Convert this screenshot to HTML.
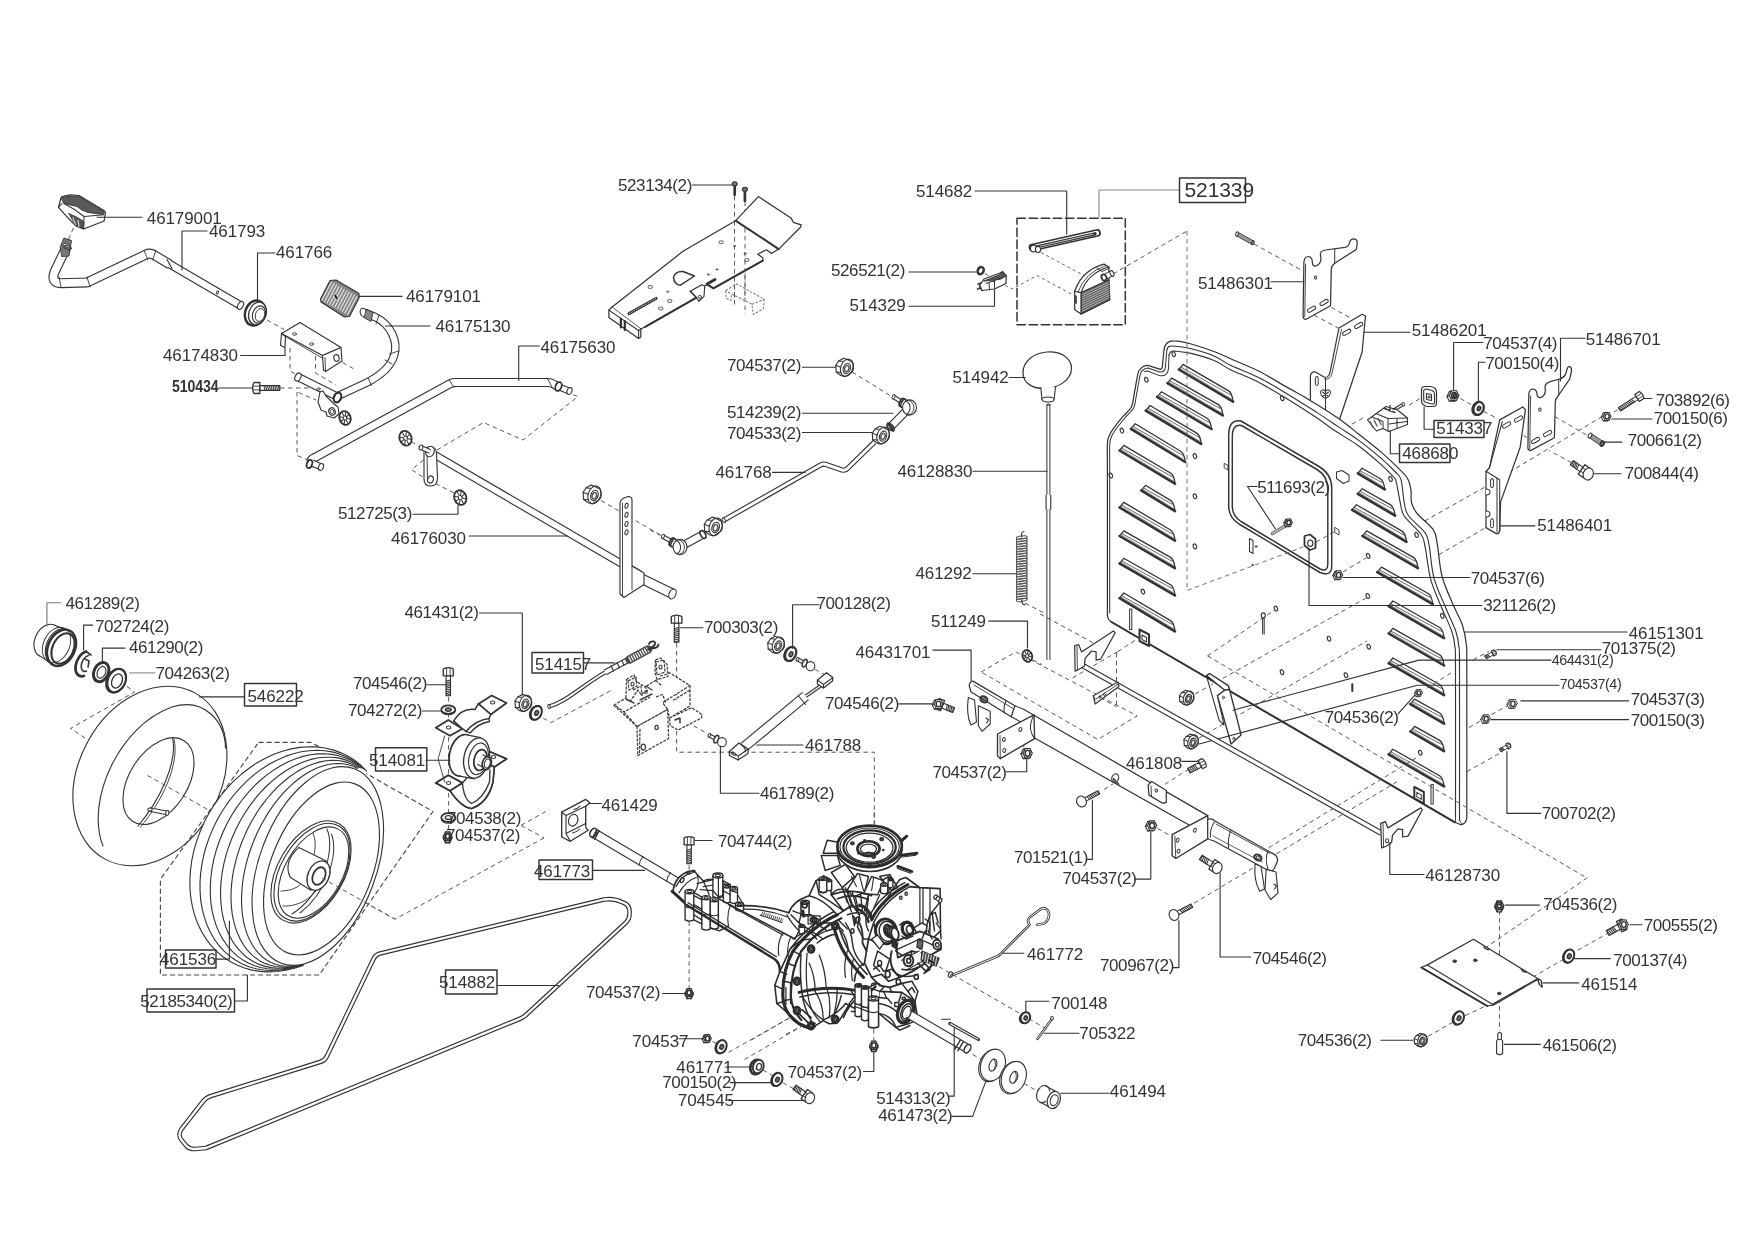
<!DOCTYPE html>
<html><head><meta charset="utf-8"><title>Parts diagram</title>
<style>
html,body{margin:0;padding:0;background:#fff;}
svg{display:block;font-family:"Liberation Sans",sans-serif;will-change:transform;}
text{fill:#333;}
</style></head><body>
<svg width="1754" height="1240" viewBox="0 0 1754 1240" stroke-linecap="round" stroke-linejoin="round">
<rect x="0" y="0" width="1754" height="1240" fill="#fff"/>
<path d="M73.5 228.0 L65.5 246.0" fill="none" stroke="#505050" stroke-width="0.95" stroke-dasharray="4.5 3.5" stroke-linecap="butt" />
<path d="M267.0 320.0 L284.0 329.5" fill="none" stroke="#505050" stroke-width="0.95" stroke-dasharray="4.5 3.5" stroke-linecap="butt" />
<path d="M290.0 348.0 L290.0 371.0 L297.0 375.0" fill="none" stroke="#505050" stroke-width="0.95" stroke-dasharray="4.5 3.5" stroke-linecap="butt" />
<path d="M315.5 356.0 L315.5 373.0 L336.0 385.0" fill="none" stroke="#505050" stroke-width="0.95" stroke-dasharray="4.5 3.5" stroke-linecap="butt" />
<path d="M280.0 388.0 L316.0 388.0" fill="none" stroke="#505050" stroke-width="0.95" stroke-dasharray="4.5 3.5" stroke-linecap="butt" />
<path d="M297.0 392.0 L297.0 455.5 L307.0 459.5" fill="none" stroke="#505050" stroke-width="0.95" stroke-dasharray="4.5 3.5" stroke-linecap="butt" />
<path d="M298.5 392.5 L316.0 400.0" fill="none" stroke="#505050" stroke-width="0.95" stroke-dasharray="4.5 3.5" stroke-linecap="butt" />
<path d="M342.5 362.5 L354.0 369.0" fill="none" stroke="#505050" stroke-width="0.95" stroke-dasharray="4.5 3.5" stroke-linecap="butt" />
<path d="M437.0 450.0 L483.5 422.5 L523.0 440.0 L578.0 396.5 L571.0 394.0" fill="none" stroke="#505050" stroke-width="0.95" stroke-dasharray="4.5 3.5" stroke-linecap="butt" />
<path d="M411.5 441.5 L421.5 448.0" fill="none" stroke="#505050" stroke-width="0.95" stroke-dasharray="4.5 3.5" stroke-linecap="butt" />
<path d="M423.5 460.0 L411.5 469.5 L423.5 477.5" fill="none" stroke="#505050" stroke-width="0.95" stroke-dasharray="4.5 3.5" stroke-linecap="butt" />
<path d="M435.5 483.5 L455.0 493.5" fill="none" stroke="#505050" stroke-width="0.95" stroke-dasharray="4.5 3.5" stroke-linecap="butt" />
<path d="M601.0 500.5 L660.5 535.0" fill="none" stroke="#505050" stroke-width="0.95" stroke-dasharray="4.5 3.5" stroke-linecap="butt" />
<path d="M60.8 198.5 Q61 196.5 64 196 L70 194.8 L79 195.5 L104 210.5 Q105.8 212 105.3 214 L104.1 221 L83.6 229 L75.6 225.6 L68.8 218.8 L58.5 207.4 Z" fill="#fff" stroke="#333333" stroke-width="1.23" />
<path d="M61.5 198.3 Q62 197 64.5 196.7 L78.5 196.2 L104 211.5 Q104.8 212.5 103.5 214.5 L88 212.5 Q82 211 77 206.5 L64 203.5 Z" fill="#5a5a5a" stroke="#333333" stroke-width="0.9" />
<path d="M58.5 207.4 L62 203.5 M64 203.5 Q75 209 84 216.5 L104 214.8 M84 216.5 L83.6 229" fill="none" stroke="#333333" stroke-width="1.01" />
<path d="M68.8 213.5 L75.6 225.6 L83.6 229 L84 221.5 Q76 216 68.8 213.5 Z" fill="#555" stroke="#333333" stroke-width="0.78" />
<path d="M73.0 218.0 L75.5 224.5" fill="none" stroke="#fff" stroke-width="0.9" />
<path d="M78.0 220.5 L79.0 226.5" fill="none" stroke="#fff" stroke-width="0.9" />
<path d="M97.0 217.3 L142.0 217.3" fill="none" stroke="#333333" stroke-width="1.12" />
<path d="M66.5 247 L54.5 272 Q50.5 283 61 283.2 L87 282.4 L146 254.5 Q150 252.5 154 255 L170 264.5" fill="none" stroke="#333333" stroke-width="10" stroke-linecap="butt"/>
<path d="M66.5 247 L54.5 272 Q50.5 283 61 283.2 L87 282.4 L146 254.5 Q150 252.5 154 255 L170 264.5" fill="none" stroke="#fff" stroke-width="7.76" stroke-linecap="butt"/>
<path d="M169.5 264 L240.5 305.5" fill="none" stroke="#333333" stroke-width="8.5" stroke-linecap="butt"/>
<path d="M169.5 264 L240.5 305.5" fill="none" stroke="#fff" stroke-width="6.26" stroke-linecap="butt"/>
<ellipse cx="240.5" cy="305.5" rx="2.6" ry="4.3" fill="#fff" stroke="#333333" stroke-width="1.12" transform="rotate(30 240.5 305.5)"/>
<path d="M167.0 259.5 L172.0 268.5" fill="none" stroke="#333333" stroke-width="1.12" />
<path d="M144.0 250.5 L148.0 260.0" fill="none" stroke="#333333" stroke-width="0.9" />
<path d="M156.0 250.5 L152.5 260.0" fill="none" stroke="#333333" stroke-width="0.9" />
<path d="M87.0 277.0 L90.0 287.0" fill="none" stroke="#333333" stroke-width="0.9" />
<path d="M59.0 277.0 L61.0 287.0" fill="none" stroke="#333333" stroke-width="0.9" />
<ellipse cx="217.5" cy="292.5" rx="1" ry="1.6" fill="none" stroke="#333333" stroke-width="0.9" transform="rotate(30 217.5 292.5)"/>
<path d="M60.5 246.0 L64.0 238.0 L71.5 240.5 L69.0 256.0 L62.0 256.5 Z" fill="#777" stroke="#333333" stroke-width="0.9" />
<ellipse cx="66.5" cy="245.5" rx="3.8" ry="1.6" fill="#fff" stroke="#333333" stroke-width="0.9" transform="rotate(15 66.5 245.5)"/>
<ellipse cx="67.5" cy="247.5" rx="4.2" ry="1.8" fill="none" stroke="#333333" stroke-width="0.9" transform="rotate(15 67.5 247.5)"/>
<path d="M182.0 270.0 L182.0 231.0 L207.0 231.0" fill="none" stroke="#333333" stroke-width="1.12" />
<ellipse cx="255" cy="313" rx="9.8" ry="12.8" fill="#fff" stroke="#333333" stroke-width="2.46" transform="rotate(18 255 313)"/>
<ellipse cx="257.5" cy="313.5" rx="8.6" ry="11.6" fill="#fff" stroke="#333333" stroke-width="1.34" transform="rotate(18 257.5 313.5)"/>
<ellipse cx="259" cy="314.5" rx="6.4" ry="8.8" fill="#fff" stroke="#333333" stroke-width="1.12" transform="rotate(18 259 314.5)"/>
<ellipse cx="260" cy="315" rx="4.6" ry="6.6" fill="none" stroke="#333333" stroke-width="0.9" transform="rotate(18 260 315)"/>
<path d="M257.5 301.0 L257.5 253.0 L275.0 253.0" fill="none" stroke="#333333" stroke-width="1.12" />
<path d="M281.5 333.5 L300.0 322.5 L341.0 347.5 L322.5 355.5 Z" fill="#fff" stroke="#333333" stroke-width="1.12" />
<path d="M281.5 333.5 L280.5 345.5 L285.0 347.5 L285.5 336.5 Z" fill="#fff" stroke="#333333" stroke-width="1.12" />
<path d="M285.5 336.5 L323.0 358.5" fill="none" stroke="#333333" stroke-width="0.9" />
<path d="M322.5 355.5 L341.0 347.5 L342.0 361.0 L325.5 371.5 L323.5 370.0 Z" fill="#fff" stroke="#333333" stroke-width="1.12" />
<path d="M325.0 357.5 L325.5 371.5" fill="none" stroke="#333333" stroke-width="0.9" />
<ellipse cx="336.5" cy="358" rx="2.6" ry="3.4" fill="none" stroke="#333333" stroke-width="1.12" transform="rotate(-15 336.5 358)"/>
<ellipse cx="294.5" cy="334" rx="1.9" ry="1.3" fill="none" stroke="#333333" stroke-width="0.9"/>
<ellipse cx="311.5" cy="344" rx="1.9" ry="1.3" fill="none" stroke="#333333" stroke-width="0.9"/>
<path d="M240.5 355.5 L285.0 355.5 L285.0 348.0" fill="none" stroke="#333333" stroke-width="1.12" />
<path d="M330.0 280.5 L336.0 280.0 L359.0 293.5 L359.0 298.0 L349.5 316.5 L344.5 317.0 L321.0 302.0 L320.5 299.0 Z" fill="#858585" stroke="#333333" stroke-width="1.12" />
<path d="M331.5 282.0 L322.0 300.0" fill="none" stroke="#e8e8e8" stroke-width="1.12" />
<path d="M334.1 283.4 L324.6 301.4" fill="none" stroke="#e8e8e8" stroke-width="1.12" />
<path d="M336.6 284.9 L327.1 302.9" fill="none" stroke="#e8e8e8" stroke-width="1.12" />
<path d="M339.1 286.4 L329.6 304.4" fill="none" stroke="#e8e8e8" stroke-width="1.12" />
<path d="M341.7 287.8 L332.2 305.8" fill="none" stroke="#e8e8e8" stroke-width="1.12" />
<path d="M344.2 289.2 L334.8 307.2" fill="none" stroke="#e8e8e8" stroke-width="1.12" />
<path d="M346.8 290.7 L337.3 308.7" fill="none" stroke="#e8e8e8" stroke-width="1.12" />
<path d="M349.4 292.1 L339.9 310.1" fill="none" stroke="#e8e8e8" stroke-width="1.12" />
<path d="M351.9 293.6 L342.4 311.6" fill="none" stroke="#e8e8e8" stroke-width="1.12" />
<path d="M354.4 295.1 L344.9 313.1" fill="none" stroke="#e8e8e8" stroke-width="1.12" />
<path d="M357.0 296.5 L347.5 314.5" fill="none" stroke="#e8e8e8" stroke-width="1.12" />
<ellipse cx="336" cy="297" rx="1.6" ry="3.4" fill="#222" stroke="#ddd" stroke-width="0.9" transform="rotate(-28 336 297)"/>
<path d="M359.0 296.4 L402.0 296.4" fill="none" stroke="#333333" stroke-width="1.12" />
<path d="M364 312.5 L375 317 C390 324 399 341 394 356 C390 368 379 376.5 366 383 L339 395.5" fill="none" stroke="#333333" stroke-width="8.5" stroke-linecap="butt"/>
<path d="M364 312.5 L375 317 C390 324 399 341 394 356 C390 368 379 376.5 366 383 L339 395.5" fill="none" stroke="#fff" stroke-width="6.26" stroke-linecap="butt"/>
<ellipse cx="363.5" cy="312.5" rx="3.2" ry="4.3" fill="#fff" stroke="#333333" stroke-width="1.12" transform="rotate(-20 363.5 312.5)"/>
<path d="M366.5 309.5 L373.0 312.5 L371.0 321.5 L364.5 318.0 Z" fill="#888" stroke="#333333" stroke-width="0.9" />
<path d="M379.0 315.0 L376.0 324.0" fill="none" stroke="#333333" stroke-width="0.9" />
<path d="M398.5 351.0 L389.5 354.0" fill="none" stroke="#333333" stroke-width="0.9" />
<path d="M392.0 364.0 L385.0 360.0" fill="none" stroke="#333333" stroke-width="0.9" />
<path d="M368.0 377.5 L371.5 385.5" fill="none" stroke="#333333" stroke-width="0.9" />
<path d="M385.5 326.0 L430.0 326.0" fill="none" stroke="#333333" stroke-width="1.12" />
<path d="M298 377 L338 397" fill="none" stroke="#333333" stroke-width="8.5" stroke-linecap="butt"/>
<path d="M298 377 L338 397" fill="none" stroke="#fff" stroke-width="6.26" stroke-linecap="butt"/>
<ellipse cx="298" cy="377" rx="2.8" ry="4.3" fill="#fff" stroke="#333333" stroke-width="1.12" transform="rotate(27 298 377)"/>
<ellipse cx="337.5" cy="397.5" rx="3.6" ry="5" fill="#fff" stroke="#333333" stroke-width="2.24" transform="rotate(20 337.5 397.5)"/>
<ellipse cx="318.5" cy="389" rx="1.6" ry="1.2" fill="none" stroke="#333333" stroke-width="0.9"/>
<path d="M320 392 L323 391 L326 396 L334 404 L338 407 L339 414 L334 418 L327 416 L326 412 L321 410 L318 402 Z" fill="#fff" stroke="#333333" stroke-width="1.12" />
<ellipse cx="332" cy="411.5" rx="3.2" ry="3.8" fill="none" stroke="#333333" stroke-width="1.12" transform="rotate(-20 332 411.5)"/>
<ellipse cx="332" cy="411.5" rx="1.8" ry="2.2" fill="none" stroke="#333333" stroke-width="0.9" transform="rotate(-20 332 411.5)"/>
<ellipse cx="345" cy="418" rx="5.6000000000000005" ry="7" fill="none" stroke="#333333" stroke-width="1.79" transform="rotate(-20 345 418)"/>
<path d="M345.0 418.0 L350.5 419.2" fill="none" stroke="#333333" stroke-width="1.01" />
<path d="M345.0 418.0 L348.2 423.7" fill="none" stroke="#333333" stroke-width="1.01" />
<path d="M345.0 418.0 L344.0 424.9" fill="none" stroke="#333333" stroke-width="1.01" />
<path d="M345.0 418.0 L340.4 422.0" fill="none" stroke="#333333" stroke-width="1.01" />
<path d="M345.0 418.0 L339.5 416.8" fill="none" stroke="#333333" stroke-width="1.01" />
<path d="M345.0 418.0 L341.8 412.3" fill="none" stroke="#333333" stroke-width="1.01" />
<path d="M345.0 418.0 L346.0 411.1" fill="none" stroke="#333333" stroke-width="1.01" />
<path d="M345.0 418.0 L349.6 414.0" fill="none" stroke="#333333" stroke-width="1.01" />
<ellipse cx="345" cy="418" rx="1.75" ry="2.1" fill="#fff" stroke="#333333" stroke-width="0.9" transform="rotate(-20 345 418)"/>
<path d="M259.8 390.4 L279.8 390.4 L279.8 385.6 L259.8 385.6 Z" fill="#fff" stroke="#333333" stroke-width="1.12" />
<path d="M265.1 390.4 L263.9 385.6" fill="none" stroke="#333333" stroke-width="1.01" />
<path d="M266.9 390.4 L265.7 385.6" fill="none" stroke="#333333" stroke-width="1.01" />
<path d="M268.7 390.4 L267.5 385.6" fill="none" stroke="#333333" stroke-width="1.01" />
<path d="M270.5 390.4 L269.3 385.6" fill="none" stroke="#333333" stroke-width="1.01" />
<path d="M272.3 390.4 L271.1 385.6" fill="none" stroke="#333333" stroke-width="1.01" />
<path d="M274.1 390.4 L272.9 385.6" fill="none" stroke="#333333" stroke-width="1.01" />
<path d="M275.9 390.4 L274.7 385.6" fill="none" stroke="#333333" stroke-width="1.01" />
<path d="M277.7 390.4 L276.5 385.6" fill="none" stroke="#333333" stroke-width="1.01" />
<path d="M279.5 390.4 L278.3 385.6" fill="none" stroke="#333333" stroke-width="1.01" />
<path d="M259.8 393.5 L254.1 393.5 L253.2 391.9 Q252.1 388.0 253.2 384.1 L254.1 382.5 L259.8 382.5 Z" fill="#fff" stroke="#333333" stroke-width="1.34" />
<path d="M253.6 389.9 L259.8 389.9" fill="none" stroke="#333333" stroke-width="0.9" />
<path d="M253.6 386.1 L259.8 386.1" fill="none" stroke="#333333" stroke-width="0.9" />
<path d="M219.0 388.0 L252.0 388.0" fill="none" stroke="#333333" stroke-width="1.12" />
<path d="M314 458 L450.5 383.5 Q452.5 382.5 455 382.5 L548 382.5 Q551 382.5 553.5 384 L559 387.5" fill="none" stroke="#333333" stroke-width="9" stroke-linecap="butt"/>
<path d="M314 458 L450.5 383.5 Q452.5 382.5 455 382.5 L548 382.5 Q551 382.5 553.5 384 L559 387.5" fill="none" stroke="#fff" stroke-width="6.76" stroke-linecap="butt"/>
<path d="M449.0 379.5 L454.0 387.5" fill="none" stroke="#333333" stroke-width="0.9" />
<path d="M547.0 378.0 L552.0 387.0" fill="none" stroke="#333333" stroke-width="0.9" />
<path d="M558 386.5 L569 391" fill="none" stroke="#333333" stroke-width="7" stroke-linecap="butt"/>
<path d="M558 386.5 L569 391" fill="none" stroke="#fff" stroke-width="4.76" stroke-linecap="butt"/>
<ellipse cx="569.5" cy="391" rx="2.4" ry="3.6" fill="#fff" stroke="#333333" stroke-width="1.12" transform="rotate(20 569.5 391)"/>
<ellipse cx="558.5" cy="386.5" rx="3" ry="4.6" fill="#fff" stroke="#333333" stroke-width="1.79" transform="rotate(20 558.5 386.5)"/>
<path d="M308 461 L320 466.5" fill="none" stroke="#333333" stroke-width="7" stroke-linecap="butt"/>
<path d="M308 461 L320 466.5" fill="none" stroke="#fff" stroke-width="4.76" stroke-linecap="butt"/>
<ellipse cx="321" cy="467" rx="2.4" ry="3.6" fill="#fff" stroke="#333333" stroke-width="1.12" transform="rotate(20 321 467)"/>
<path d="M314 453.5 Q306 456 307.5 463 Q309 467 313 467" fill="#fff" stroke="#333333" stroke-width="1.12" />
<ellipse cx="309.5" cy="464" rx="2.6" ry="4.2" fill="#fff" stroke="#333333" stroke-width="1.79" transform="rotate(20 309.5 464)"/>
<path d="M518.7 380.5 L518.7 346.0 L539.5 346.0" fill="none" stroke="#333333" stroke-width="1.12" />
<ellipse cx="405.5" cy="438.2" rx="6.0" ry="7.5" fill="none" stroke="#333333" stroke-width="1.79" transform="rotate(-20 405.5 438.2)"/>
<path d="M405.5 438.2 L411.4 439.5" fill="none" stroke="#333333" stroke-width="1.01" />
<path d="M405.5 438.2 L408.9 444.3" fill="none" stroke="#333333" stroke-width="1.01" />
<path d="M405.5 438.2 L404.5 445.6" fill="none" stroke="#333333" stroke-width="1.01" />
<path d="M405.5 438.2 L400.6 442.5" fill="none" stroke="#333333" stroke-width="1.01" />
<path d="M405.5 438.2 L399.6 436.9" fill="none" stroke="#333333" stroke-width="1.01" />
<path d="M405.5 438.2 L402.1 432.1" fill="none" stroke="#333333" stroke-width="1.01" />
<path d="M405.5 438.2 L406.5 430.8" fill="none" stroke="#333333" stroke-width="1.01" />
<path d="M405.5 438.2 L410.4 433.9" fill="none" stroke="#333333" stroke-width="1.01" />
<ellipse cx="405.5" cy="438.2" rx="1.875" ry="2.25" fill="#fff" stroke="#333333" stroke-width="0.9" transform="rotate(-20 405.5 438.2)"/>
<ellipse cx="460.3" cy="497.6" rx="6.0" ry="7.5" fill="none" stroke="#333333" stroke-width="1.79" transform="rotate(-20 460.3 497.6)"/>
<path d="M460.3 497.6 L466.2 498.9" fill="none" stroke="#333333" stroke-width="1.01" />
<path d="M460.3 497.6 L463.7 503.7" fill="none" stroke="#333333" stroke-width="1.01" />
<path d="M460.3 497.6 L459.3 505.0" fill="none" stroke="#333333" stroke-width="1.01" />
<path d="M460.3 497.6 L455.4 501.9" fill="none" stroke="#333333" stroke-width="1.01" />
<path d="M460.3 497.6 L454.4 496.3" fill="none" stroke="#333333" stroke-width="1.01" />
<path d="M460.3 497.6 L456.9 491.5" fill="none" stroke="#333333" stroke-width="1.01" />
<path d="M460.3 497.6 L461.3 490.2" fill="none" stroke="#333333" stroke-width="1.01" />
<path d="M460.3 497.6 L465.2 493.3" fill="none" stroke="#333333" stroke-width="1.01" />
<ellipse cx="460.3" cy="497.6" rx="1.875" ry="2.25" fill="#fff" stroke="#333333" stroke-width="0.9" transform="rotate(-20 460.3 497.6)"/>
<path d="M413.0 514.3 L458.0 514.3 L458.0 505.5" fill="none" stroke="#333333" stroke-width="1.12" />
<path d="M435 455 L640 574.5" fill="none" stroke="#333333" stroke-width="8" stroke-linecap="butt"/>
<path d="M435 455 L640 574.5" fill="none" stroke="#fff" stroke-width="5.76" stroke-linecap="butt"/>
<path d="M424 452 Q424 447 430 447 Q436.5 447 436.5 453 L437.5 478 Q437.5 486 430.5 486 Q424 486 424 479 Z" fill="#fff" stroke="#333333" stroke-width="1.12" />
<path d="M427 452 L427.5 480" fill="none" stroke="#333333" stroke-width="0.9" />
<ellipse cx="430.5" cy="479.5" rx="2.8" ry="3.6" fill="none" stroke="#333333" stroke-width="1.12" transform="rotate(20 430.5 479.5)"/>
<ellipse cx="430" cy="451.5" rx="4.2" ry="5.4" fill="#fff" stroke="#333333" stroke-width="1.12" transform="rotate(20 430 451.5)"/>
<path d="M421 447.5 L430 451.5" fill="none" stroke="#333333" stroke-width="5" stroke-linecap="butt"/>
<path d="M421 447.5 L430 451.5" fill="none" stroke="#fff" stroke-width="2.76" stroke-linecap="butt"/>
<ellipse cx="421" cy="447.5" rx="1.8" ry="2.6" fill="#fff" stroke="#333333" stroke-width="1.01" transform="rotate(20 421 447.5)"/>
<path d="M636 576 L672 593.5" fill="none" stroke="#333333" stroke-width="10.5" stroke-linecap="butt"/>
<path d="M636 576 L672 593.5" fill="none" stroke="#fff" stroke-width="8.26" stroke-linecap="butt"/>
<ellipse cx="672.5" cy="594" rx="3.3" ry="5.2" fill="#fff" stroke="#333333" stroke-width="1.12" transform="rotate(25 672.5 594)"/>
<path d="M620 504 Q620 500 624 498 L628 496.5 Q632 496.5 632 500 L632 566 L644 573 L644 584.5 L624 597.5 L620 594 Z" fill="#fff" stroke="#333333" stroke-width="1.12" />
<path d="M622.5 503 L622.5 595.5" fill="none" stroke="#333333" stroke-width="0.9" />
<path d="M632 566 L632 590" fill="none" stroke="#333333" stroke-width="0.9" />
<ellipse cx="626.5" cy="505.7" rx="1.5" ry="2.6" fill="none" stroke="#333333" stroke-width="1.01" transform="rotate(15 626.5 505.7)"/>
<ellipse cx="626.5" cy="514.8" rx="1.5" ry="2.6" fill="none" stroke="#333333" stroke-width="1.01" transform="rotate(15 626.5 514.8)"/>
<ellipse cx="626.5" cy="523.9" rx="1.5" ry="2.6" fill="none" stroke="#333333" stroke-width="1.01" transform="rotate(15 626.5 523.9)"/>
<ellipse cx="626.5" cy="532.3" rx="1.5" ry="2.6" fill="none" stroke="#333333" stroke-width="1.01" transform="rotate(15 626.5 532.3)"/>
<path d="M469.0 536.0 L567.5 536.0" fill="none" stroke="#333333" stroke-width="1.12" />
<path d="M591.1 485.1 Q596.2 486.5 600.1 489.4 Q602.0 493.0 600.9 497.0 Q599.9 500.3 592.5 503.9 L588.2 502.8 L583.5 499.2 L583.1 492.3 L586.0 488.0 Z" fill="#fff" stroke="#333333" stroke-width="1.12" />
<ellipse cx="594.4" cy="494.8" rx="6.2" ry="9.0" fill="none" stroke="#333333" stroke-width="1.12" transform="rotate(20 594.4 494.8)"/>
<path d="M583.1 492.3 L588.1 494.3 M586.0 488.0 L590.2 488.3 M583.5 499.2 L588.5 499.7" fill="none" stroke="#333333" stroke-width="1.01" />
<ellipse cx="594.4" cy="495.5" rx="3.6" ry="5.4" fill="none" stroke="#333333" stroke-width="1.12" transform="rotate(20 594.4 495.5)"/>
<ellipse cx="594.3" cy="495.7" rx="2.1" ry="3.3" fill="none" stroke="#555" stroke-width="1.46" transform="rotate(20 594.3 495.7)"/>
<path d="M734.5 196.0 L734.5 308.0" fill="none" stroke="#505050" stroke-width="0.95" stroke-dasharray="4.5 3.5" stroke-linecap="butt" />
<path d="M745.0 201.5 L745.0 314.0" fill="none" stroke="#505050" stroke-width="0.95" stroke-dasharray="4.5 3.5" stroke-linecap="butt" />
<path d="M985.0 273.5 L990.5 277.0" fill="none" stroke="#505050" stroke-width="0.95" stroke-dasharray="4.5 3.5" stroke-linecap="butt" />
<path d="M1005.0 285.5 L1012.5 289.0 L1037.0 275.5 L1077.0 297.0" fill="none" stroke="#505050" stroke-width="0.9" stroke-dasharray="3 3" stroke-linecap="butt" />
<path d="M1041.0 252.5 L1084.0 275.5" fill="none" stroke="#505050" stroke-width="0.9" stroke-dasharray="3 3" stroke-linecap="butt" />
<path d="M1113.0 274.0 L1187.0 231.0" fill="none" stroke="#505050" stroke-width="0.95" stroke-dasharray="4.5 3.5" stroke-linecap="butt" />
<path d="M852.0 372.0 L891.0 396.0" fill="none" stroke="#505050" stroke-width="0.95" stroke-dasharray="4.5 3.5" stroke-linecap="butt" />
<path d="M650.0 530.0 L661.0 535.5" fill="none" stroke="#505050" stroke-width="0.95" stroke-dasharray="4.5 3.5" stroke-linecap="butt" />
<path d="M1025.0 603.0 L1046.0 614.0" fill="none" stroke="#505050" stroke-width="0.95" stroke-dasharray="4.5 3.5" stroke-linecap="butt" />
<path d="M611.8 307.2 L683 251.3 L735.5 220.8 L758.4 196.6 L791 217.9 L793.3 222.3 L801.2 224.9 L800.5 227.3 L778.7 249.1 L771.5 253.5 L766.4 249.8 L757.7 254.2 L762.8 257.8 L762.8 260.7 L713.4 288.3 L707.6 284.7 L704.5 286 L696 297.8 L645.2 326.8 L640.8 329 Z" fill="#fff" stroke="#333333" stroke-width="1.23" />
<path d="M735.9 220.8 L778.7 249.1" fill="none" stroke="#333333" stroke-width="2.02" />
<path d="M762.8 260.7 L713.4 288.3 L707.6 284.7" fill="none" stroke="#333333" stroke-width="2.02" />
<path d="M696 297.8 L645.2 326.8" fill="none" stroke="#333333" stroke-width="2.02" />
<path d="M611.8 307.2 L608.9 310.1 L608.9 317.4 L638.6 338.4 L640.8 337 L640.8 329" fill="#fff" stroke="#333333" stroke-width="1.23" />
<path d="M608.9 310.1 L638.6 330.5 L640.8 329 M638.6 330.5 L638.6 338.4" fill="none" stroke="#333333" stroke-width="1.12" />
<path d="M620.9 318.5 L620.9 327.5 M624.8 321 L624.8 330" fill="none" stroke="#333333" stroke-width="2.24" />
<ellipse cx="721.1" cy="242.2" rx="2.2" ry="1.5" fill="none" stroke="#666" stroke-width="1.01"/>
<ellipse cx="650.2" cy="286.9" rx="2.2" ry="1.5" fill="none" stroke="#666" stroke-width="1.01"/>
<ellipse cx="669.8" cy="301.1" rx="2.2" ry="1.5" fill="none" stroke="#666" stroke-width="1.01"/>
<ellipse cx="660.7" cy="308.6" rx="2.2" ry="1.5" fill="none" stroke="#666" stroke-width="1.01"/>
<ellipse cx="746.8" cy="260" rx="2.2" ry="1.5" fill="none" stroke="#666" stroke-width="1.01"/>
<ellipse cx="734.5" cy="246.2" rx="1" ry="0.8" fill="#888" stroke="#666" stroke-width="0.9"/>
<ellipse cx="745" cy="253.5" rx="1" ry="0.8" fill="#888" stroke="#666" stroke-width="0.9"/>
<ellipse cx="717" cy="269.4" rx="1" ry="0.8" fill="#888" stroke="#666" stroke-width="0.9"/>
<ellipse cx="708.3" cy="274.5" rx="1" ry="0.8" fill="#888" stroke="#666" stroke-width="0.9"/>
<ellipse cx="667.7" cy="291.7" rx="1" ry="0.8" fill="#888" stroke="#666" stroke-width="0.9"/>
<path d="M673.5 277.4 Q675 271 683 271.5 L694.5 276 L680 285.4 Q674 284 673.5 277.4 Z" fill="none" stroke="#333333" stroke-width="1.46" />
<path d="M629 313.7 L656 298.5" fill="none" stroke="#333333" stroke-width="3.14" />
<path d="M629 313.7 L656 298.5" fill="none" stroke="#fff" stroke-width="0.9" stroke-dasharray="1 1" stroke-linecap="butt" />
<path d="M707 284 L715 279.5" fill="none" stroke="#333333" stroke-width="2.8" />
<path d="M690.2 291.2 L701.8 284.7 L704.7 286.1 L704 296.3 L698.9 301.4 L696.7 297.8 Z" fill="#fff" stroke="#333333" stroke-width="1.12" />
<path d="M690.2 291.2 L696.7 297.8" fill="none" stroke="#333333" stroke-width="1.34" />
<ellipse cx="699.9" cy="297" rx="1.4" ry="1.8" fill="none" stroke="#333333" stroke-width="0.9"/>
<path d="M734.5 221.0 L734.5 300.0" fill="none" stroke="#505050" stroke-width="0.95" stroke-dasharray="4.5 3.5" stroke-linecap="butt" />
<path d="M745.0 228.0 L745.0 296.0" fill="none" stroke="#505050" stroke-width="0.95" stroke-dasharray="4.5 3.5" stroke-linecap="butt" />
<path d="M725.7 290.5 L736.6 284 L764.2 299.2 L763.5 308.6 L753.3 314.5 L751.9 304.3 L727 291.5 M725.7 290.5 L726 298 L731 300.5 L731.5 293.5 M751.9 304.3 L764.2 299.2" fill="none" stroke="#777" stroke-width="1.01" stroke-dasharray="2.5 1.5" stroke-linecap="butt" />
<path d="M734.7 185.8 L734.7 194.8" fill="none" stroke="#333333" stroke-width="2.69" />
<ellipse cx="734.7" cy="183.8" rx="2.5" ry="2.1" fill="#777" stroke="#333333" stroke-width="1.12"/>
<path d="M744.9 191.3 L744.9 200.8" fill="none" stroke="#333333" stroke-width="2.69" />
<ellipse cx="744.9" cy="189.3" rx="2.5" ry="2.1" fill="#777" stroke="#333333" stroke-width="1.12"/>
<path d="M692.5 185.0 L732.0 185.0" fill="none" stroke="#333333" stroke-width="1.12" />
<rect x="1017" y="218.2" width="108.3" height="106.5" fill="none" stroke="#333333" stroke-width="1.5" stroke-dasharray="8.5 3.6"/>
<path d="M1099.0 218.0 L1099.0 190.0 L1179.5 190.0" fill="none" stroke="#8a8a8a" stroke-width="1.12" />
<path d="M1032.5 247.5 L1097 233" stroke="#333333" stroke-width="7.8" fill="none" stroke-linecap="round"/>
<path d="M1032.5 247.5 L1097 233" stroke="#fff" stroke-width="4.4" fill="none" stroke-linecap="round"/>
<path d="M1036 247 L1095 233.8" stroke="#333333" stroke-width="3.3" fill="none" stroke-linecap="round"/>
<path d="M1040 246.2 L1093 234.2" stroke="#fff" stroke-width="0.7" fill="none"/>
<ellipse cx="1033.5" cy="248.5" rx="3" ry="3.4" fill="#fff" stroke="#333333" stroke-width="1.12"/>
<ellipse cx="1038" cy="249.5" rx="2.6" ry="3" fill="#fff" stroke="#333333" stroke-width="1.12"/>
<path d="M975.0 191.0 L1066.7 191.0 L1066.7 234.0" fill="none" stroke="#333333" stroke-width="1.12" />
<path d="M1074.7 291.2 Q1082 270 1104 264.1 L1108.9 267 L1108.9 279.8 L1109.7 299.8 L1081.2 314 L1074.7 309.7 Z" fill="#fff" stroke="#333333" stroke-width="1.23" />
<path d="M1081.2 292.6 L1108.9 279.8 L1109.7 299.8 L1081.2 314 Z" fill="#5e5e5e" stroke="#333333" stroke-width="1.12" />
<path d="M1081.2 295.0 L1109.2 282.0" fill="none" stroke="#ddd" stroke-width="0.67" />
<path d="M1081.2 297.4 L1109.2 284.2" fill="none" stroke="#ddd" stroke-width="0.67" />
<path d="M1081.2 299.7 L1109.2 286.5" fill="none" stroke="#ddd" stroke-width="0.67" />
<path d="M1081.2 302.1 L1109.2 288.7" fill="none" stroke="#ddd" stroke-width="0.67" />
<path d="M1081.2 304.5 L1109.2 290.9" fill="none" stroke="#ddd" stroke-width="0.67" />
<path d="M1081.2 306.9 L1109.2 293.1" fill="none" stroke="#ddd" stroke-width="0.67" />
<path d="M1081.2 309.2 L1109.2 295.4" fill="none" stroke="#ddd" stroke-width="0.67" />
<path d="M1081.2 311.6 L1109.2 297.6" fill="none" stroke="#ddd" stroke-width="0.67" />
<path d="M1081.2 292.6 Q1087 273.5 1108.9 267" fill="none" stroke="#333333" stroke-width="1.12" />
<path d="M1078 292 Q1085 272 1106.5 265.5" fill="none" stroke="#333333" stroke-width="0.9" />
<path d="M1074.7 291.2 L1081.2 292.6 L1081.2 314" fill="none" stroke="#333333" stroke-width="1.12" />
<path d="M1097 268 L1102 271.5 M1102 271.5 L1108.9 268.5" fill="none" stroke="#333333" stroke-width="0.9" />
<path d="M1104 277.5 L1111.5 273.5" fill="none" stroke="#333333" stroke-width="6.5" stroke-linecap="butt"/>
<path d="M1104 277.5 L1111.5 273.5" fill="none" stroke="#fff" stroke-width="4.26" stroke-linecap="butt"/>
<ellipse cx="1104" cy="277.5" rx="2.4" ry="3.2" fill="#fff" stroke="#333333" stroke-width="1.79" transform="rotate(-25 1104 277.5)"/>
<ellipse cx="1112" cy="273.5" rx="1.8" ry="3" fill="#fff" stroke="#333333" stroke-width="1.01" transform="rotate(-25 1112 273.5)"/>
<path d="M1076 296 L1076 303" fill="none" stroke="#333333" stroke-width="1.68" />
<path d="M979.5 285.5 L984 279 L1000 273 L1002.5 271.5 L1006.3 276 L1006 283.5 L994.5 289 L982 290.5 Z" fill="#fff" stroke="#333333" stroke-width="1.23" />
<path d="M984 281 L1000 274.5 L1002.5 271.5 L1006.3 276 L1001 279 Z" fill="#555" stroke="#333333" stroke-width="0.9" />
<path d="M986 283.5 L1000 278.5 M994.5 280.5 L994.5 289 M989 282.5 L989.5 289.8" fill="none" stroke="#333333" stroke-width="1.01" />
<path d="M979.5 285.5 L982 290.5 M981 283 L978 284 M980.5 288 L977.5 289" fill="none" stroke="#333333" stroke-width="1.46" />
<ellipse cx="980.7" cy="270.6" rx="2.9" ry="3.7" fill="#fff" stroke="#333333" stroke-width="2.46" transform="rotate(25 980.7 270.6)"/>
<path d="M909.0 272.0 L976.0 272.0" fill="none" stroke="#333333" stroke-width="1.12" />
<path d="M909.0 306.2 L994.5 306.2 L994.5 290.0" fill="none" stroke="#333333" stroke-width="1.12" />
<path d="M1237 234 L1252.5 242.5" fill="none" stroke="#333333" stroke-width="4.6" stroke-linecap="butt"/>
<path d="M1237 234 L1252.5 242.5" fill="none" stroke="#fff" stroke-width="2.3599999999999994" stroke-linecap="butt"/>
<path d="M1237 234 L1252.5 242.5" fill="none" stroke="#999" stroke-width="2.91" />
<ellipse cx="1237" cy="234" rx="1.3" ry="2.2" fill="#fff" stroke="#333333" stroke-width="1.01" transform="rotate(25 1237 234)"/>
<ellipse cx="1252.8" cy="242.7" rx="1.3" ry="2.2" fill="#888" stroke="#333333" stroke-width="1.01" transform="rotate(25 1252.8 242.7)"/>
<path d="M843.6 358.2 Q848.6 359.6 852.4 362.4 Q854.3 365.9 853.2 369.8 Q852.2 373.1 845.0 376.6 L840.8 375.5 L836.2 372.0 L835.8 365.2 L838.6 361.0 Z" fill="#fff" stroke="#333333" stroke-width="1.12" />
<ellipse cx="846.848" cy="367.69399999999996" rx="6.076" ry="8.82" fill="none" stroke="#333333" stroke-width="1.12" transform="rotate(20 846.848 367.69399999999996)"/>
<path d="M835.8 365.2 L840.7 367.2 M838.6 361.0 L842.7 361.3 M836.2 372.0 L841.1 372.5" fill="none" stroke="#333333" stroke-width="1.01" />
<ellipse cx="846.848" cy="368.38" rx="3.528" ry="5.292" fill="none" stroke="#333333" stroke-width="1.12" transform="rotate(20 846.848 368.38)"/>
<ellipse cx="846.75" cy="368.57599999999996" rx="2.058" ry="3.234" fill="none" stroke="#555" stroke-width="1.46" transform="rotate(20 846.75 368.57599999999996)"/>
<path d="M802.5 367.2 L835.5 367.2" fill="none" stroke="#333333" stroke-width="1.12" />
<path d="M879.9 426.3 Q884.8 427.6 888.5 430.4 Q890.3 433.8 889.2 437.6 Q888.3 440.7 881.3 444.1 L877.2 443.1 L872.7 439.7 L872.3 433.1 L875.1 429.0 Z" fill="#fff" stroke="#333333" stroke-width="1.12" />
<ellipse cx="883.07" cy="435.485" rx="5.89" ry="8.549999999999999" fill="none" stroke="#333333" stroke-width="1.12" transform="rotate(20 883.07 435.485)"/>
<path d="M872.3 433.1 L877.1 435.0 M875.1 429.0 L879.1 429.3 M872.7 439.7 L877.5 440.1" fill="none" stroke="#333333" stroke-width="1.01" />
<ellipse cx="883.07" cy="436.15" rx="3.42" ry="5.13" fill="none" stroke="#333333" stroke-width="1.12" transform="rotate(20 883.07 436.15)"/>
<ellipse cx="882.975" cy="436.34" rx="1.9949999999999999" ry="3.135" fill="none" stroke="#555" stroke-width="1.46" transform="rotate(20 882.975 436.34)"/>
<path d="M802.5 432.5 L872.5 432.5" fill="none" stroke="#333333" stroke-width="1.12" />
<path d="M712.3 517.1 Q717.4 518.5 721.3 521.4 Q723.2 525.0 722.1 529.0 Q721.1 532.3 713.7 535.9 L709.4 534.8 L704.7 531.2 L704.3 524.3 L707.2 520.0 Z" fill="#fff" stroke="#333333" stroke-width="1.12" />
<ellipse cx="715.6" cy="526.8" rx="6.2" ry="9.0" fill="none" stroke="#333333" stroke-width="1.12" transform="rotate(20 715.6 526.8)"/>
<path d="M704.3 524.3 L709.3 526.3 M707.2 520.0 L711.4 520.3 M704.7 531.2 L709.7 531.7" fill="none" stroke="#333333" stroke-width="1.01" />
<ellipse cx="715.6" cy="527.5" rx="3.6" ry="5.4" fill="none" stroke="#333333" stroke-width="1.12" transform="rotate(20 715.6 527.5)"/>
<ellipse cx="715.5" cy="527.7" rx="2.1" ry="3.3" fill="none" stroke="#555" stroke-width="1.46" transform="rotate(20 715.5 527.7)"/>
<path d="M723.6 520.3 L820.5 465 Q823 463.5 826 464.5 L842 470 Q845.5 471 848 468 L874.4 442.2" fill="none" stroke="#333333" stroke-width="5.2" stroke-linecap="butt"/>
<path d="M723.6 520.3 L820.5 465 Q823 463.5 826 464.5 L842 470 Q845.5 471 848 468 L874.4 442.2" fill="none" stroke="#fff" stroke-width="2.96" stroke-linecap="butt"/>
<ellipse cx="723.8" cy="520.2" rx="1.4" ry="2.4" fill="#fff" stroke="#333333" stroke-width="1.01" transform="rotate(-30 723.8 520.2)"/>
<path d="M772.5 472.4 L805.0 472.4" fill="none" stroke="#333333" stroke-width="1.12" />
<path d="M893.5 396.8 L903.0 402.95" fill="none" stroke="#333333" stroke-width="4.6" stroke-linecap="butt"/>
<path d="M893.5 396.8 L903.0 402.95" fill="none" stroke="#fff" stroke-width="2.3599999999999994" stroke-linecap="butt"/>
<ellipse cx="893.5" cy="396.8" rx="1.3" ry="2.3" fill="#fff" stroke="#333333" stroke-width="1.01" transform="rotate(25 893.5 396.8)"/>
<ellipse cx="901.78" cy="402.40599999999995" rx="2" ry="4.2" fill="#fff" stroke="#333333" stroke-width="1.79" transform="rotate(25 901.78 402.40599999999995)"/>
<ellipse cx="903.38" cy="403.306" rx="2" ry="4.4" fill="#fff" stroke="#333333" stroke-width="1.57" transform="rotate(25 903.38 403.306)"/>
<path d="M909.5 407.5 L890.5 427" fill="none" stroke="#333333" stroke-width="8.5" stroke-linecap="butt"/>
<path d="M909.5 407.5 L890.5 427" fill="none" stroke="#fff" stroke-width="6.26" stroke-linecap="butt"/>
<ellipse cx="890.5" cy="427" rx="2.4" ry="4.2" fill="#fff" stroke="#333333" stroke-width="1.68" transform="rotate(134.2559407971113 890.5 427)"/>
<ellipse cx="909.5" cy="407.5" rx="7" ry="7.6" fill="#fff" stroke="#333333" stroke-width="1.12"/>
<path d="M906.0 401.0 A7 7.6 0 0 1 906.5 414.5" fill="none" stroke="#333333" stroke-width="1.01" />
<path d="M908.0 400.1 A7 7.6 0 0 1 908.5 415.0" fill="none" stroke="#333333" stroke-width="0.9" />
<path d="M663 536.5 L673.0 542.55" fill="none" stroke="#333333" stroke-width="4.6" stroke-linecap="butt"/>
<path d="M663 536.5 L673.0 542.55" fill="none" stroke="#fff" stroke-width="2.3599999999999994" stroke-linecap="butt"/>
<ellipse cx="663" cy="536.5" rx="1.3" ry="2.3" fill="#fff" stroke="#333333" stroke-width="1.01" transform="rotate(25 663 536.5)"/>
<ellipse cx="671.8599999999999" cy="541.9899999999999" rx="2" ry="4.2" fill="#fff" stroke="#333333" stroke-width="1.79" transform="rotate(25 671.8599999999999 541.9899999999999)"/>
<ellipse cx="673.4599999999999" cy="542.8899999999999" rx="2" ry="4.4" fill="#fff" stroke="#333333" stroke-width="1.57" transform="rotate(25 673.4599999999999 542.8899999999999)"/>
<path d="M680 547 L703 534.5" fill="none" stroke="#333333" stroke-width="8.5" stroke-linecap="butt"/>
<path d="M680 547 L703 534.5" fill="none" stroke="#fff" stroke-width="6.26" stroke-linecap="butt"/>
<ellipse cx="703" cy="534.5" rx="2.4" ry="4.2" fill="#fff" stroke="#333333" stroke-width="1.68" transform="rotate(-28.523118606312032 703 534.5)"/>
<ellipse cx="680" cy="547" rx="7" ry="7.6" fill="#fff" stroke="#333333" stroke-width="1.12"/>
<path d="M676.5 540.5 A7 7.6 0 0 1 677 554" fill="none" stroke="#333333" stroke-width="1.01" />
<path d="M678.5 539.6 A7 7.6 0 0 1 679 554.5" fill="none" stroke="#333333" stroke-width="0.9" />
<path d="M888 423.5 L893.5 430.5" fill="none" stroke="#333333" stroke-width="2.46" />
<path d="M802.5 413.3 L893.0 413.3" fill="none" stroke="#333333" stroke-width="1.12" />
<path d="M1023 373.5 C1022.5 361 1034 353 1047 352 C1061 351 1071.5 358 1071.5 368.5 C1071.5 380 1058 388 1046 388.5 C1033.5 389 1023.5 384 1023 373.5 Z" fill="#fff" stroke="#333333" stroke-width="1.23" />
<path d="M1040.8 387.5 L1042 399.5 Q1047.5 403 1054 399.5 L1055.5 387" fill="#fff" stroke="#333333" stroke-width="1.12" />
<ellipse cx="1048" cy="399.5" rx="6" ry="2.4" fill="#fff" stroke="#333333" stroke-width="1.01"/>
<path d="M1048.4 404.5 L1048.4 660" fill="none" stroke="#333333" stroke-width="4" stroke-linecap="butt"/>
<path d="M1048.4 404.5 L1048.4 660" fill="none" stroke="#fff" stroke-width="2.0" stroke-linecap="butt"/>
<ellipse cx="1048.4" cy="404.6" rx="1.5" ry="0.8" fill="none" stroke="#333333" stroke-width="0.9"/>
<path d="M1048.4 495 L1048.4 509.5" fill="none" stroke="#333333" stroke-width="5.8" stroke-linecap="butt"/>
<path d="M1048.4 495 L1048.4 509.5" fill="none" stroke="#fff" stroke-width="3.5599999999999996" stroke-linecap="butt"/>
<path d="M1009.0 377.5 L1025.0 377.5" fill="none" stroke="#333333" stroke-width="1.12" />
<path d="M973.0 471.2 L1047.0 471.2" fill="none" stroke="#333333" stroke-width="1.12" />
<path d="M1016.5 537 L1016.5 600 M1027 537 L1027 600" fill="none" stroke="#666" stroke-width="1.01" />
<ellipse cx="1021.7" cy="537.5" rx="5.4" ry="1.5" fill="none" stroke="#555" stroke-width="1.01" transform="rotate(-8 1021.7 537.5)"/>
<ellipse cx="1021.7" cy="540.0" rx="5.4" ry="1.5" fill="none" stroke="#555" stroke-width="1.01" transform="rotate(-8 1021.7 540.0)"/>
<ellipse cx="1021.7" cy="542.5" rx="5.4" ry="1.5" fill="none" stroke="#555" stroke-width="1.01" transform="rotate(-8 1021.7 542.5)"/>
<ellipse cx="1021.7" cy="545.0" rx="5.4" ry="1.5" fill="none" stroke="#555" stroke-width="1.01" transform="rotate(-8 1021.7 545.0)"/>
<ellipse cx="1021.7" cy="547.5" rx="5.4" ry="1.5" fill="none" stroke="#555" stroke-width="1.01" transform="rotate(-8 1021.7 547.5)"/>
<ellipse cx="1021.7" cy="550.0" rx="5.4" ry="1.5" fill="none" stroke="#555" stroke-width="1.01" transform="rotate(-8 1021.7 550.0)"/>
<ellipse cx="1021.7" cy="552.5" rx="5.4" ry="1.5" fill="none" stroke="#555" stroke-width="1.01" transform="rotate(-8 1021.7 552.5)"/>
<ellipse cx="1021.7" cy="555.0" rx="5.4" ry="1.5" fill="none" stroke="#555" stroke-width="1.01" transform="rotate(-8 1021.7 555.0)"/>
<ellipse cx="1021.7" cy="557.5" rx="5.4" ry="1.5" fill="none" stroke="#555" stroke-width="1.01" transform="rotate(-8 1021.7 557.5)"/>
<ellipse cx="1021.7" cy="560.0" rx="5.4" ry="1.5" fill="none" stroke="#555" stroke-width="1.01" transform="rotate(-8 1021.7 560.0)"/>
<ellipse cx="1021.7" cy="562.5" rx="5.4" ry="1.5" fill="none" stroke="#555" stroke-width="1.01" transform="rotate(-8 1021.7 562.5)"/>
<ellipse cx="1021.7" cy="565.0" rx="5.4" ry="1.5" fill="none" stroke="#555" stroke-width="1.01" transform="rotate(-8 1021.7 565.0)"/>
<ellipse cx="1021.7" cy="567.5" rx="5.4" ry="1.5" fill="none" stroke="#555" stroke-width="1.01" transform="rotate(-8 1021.7 567.5)"/>
<ellipse cx="1021.7" cy="570.0" rx="5.4" ry="1.5" fill="none" stroke="#555" stroke-width="1.01" transform="rotate(-8 1021.7 570.0)"/>
<ellipse cx="1021.7" cy="572.5" rx="5.4" ry="1.5" fill="none" stroke="#555" stroke-width="1.01" transform="rotate(-8 1021.7 572.5)"/>
<ellipse cx="1021.7" cy="575.0" rx="5.4" ry="1.5" fill="none" stroke="#555" stroke-width="1.01" transform="rotate(-8 1021.7 575.0)"/>
<ellipse cx="1021.7" cy="577.5" rx="5.4" ry="1.5" fill="none" stroke="#555" stroke-width="1.01" transform="rotate(-8 1021.7 577.5)"/>
<ellipse cx="1021.7" cy="580.0" rx="5.4" ry="1.5" fill="none" stroke="#555" stroke-width="1.01" transform="rotate(-8 1021.7 580.0)"/>
<ellipse cx="1021.7" cy="582.5" rx="5.4" ry="1.5" fill="none" stroke="#555" stroke-width="1.01" transform="rotate(-8 1021.7 582.5)"/>
<ellipse cx="1021.7" cy="585.0" rx="5.4" ry="1.5" fill="none" stroke="#555" stroke-width="1.01" transform="rotate(-8 1021.7 585.0)"/>
<ellipse cx="1021.7" cy="587.5" rx="5.4" ry="1.5" fill="none" stroke="#555" stroke-width="1.01" transform="rotate(-8 1021.7 587.5)"/>
<ellipse cx="1021.7" cy="590.0" rx="5.4" ry="1.5" fill="none" stroke="#555" stroke-width="1.01" transform="rotate(-8 1021.7 590.0)"/>
<ellipse cx="1021.7" cy="592.5" rx="5.4" ry="1.5" fill="none" stroke="#555" stroke-width="1.01" transform="rotate(-8 1021.7 592.5)"/>
<ellipse cx="1021.7" cy="595.0" rx="5.4" ry="1.5" fill="none" stroke="#555" stroke-width="1.01" transform="rotate(-8 1021.7 595.0)"/>
<ellipse cx="1021.7" cy="597.5" rx="5.4" ry="1.5" fill="none" stroke="#555" stroke-width="1.01" transform="rotate(-8 1021.7 597.5)"/>
<ellipse cx="1021.7" cy="600.0" rx="5.4" ry="1.5" fill="none" stroke="#555" stroke-width="1.01" transform="rotate(-8 1021.7 600.0)"/>
<path d="M1021.7 537 Q1021 531.5 1024 531.5 M1021.7 600 Q1022 605.5 1025 604.5" fill="none" stroke="#333333" stroke-width="1.12" />
<path d="M973.0 573.8 L1016.0 573.8" fill="none" stroke="#333333" stroke-width="1.12" />
<path d="M1254.0 244.0 L1302.0 270.5" fill="none" stroke="#505050" stroke-width="0.95" stroke-dasharray="4.5 3.5" stroke-linecap="butt" />
<path d="M1331.3 307.5 L1351.8 318.6" fill="none" stroke="#505050" stroke-width="0.95" stroke-dasharray="4.5 3.5" stroke-linecap="butt" />
<path d="M1314.2 315.2 L1338.2 328.0" fill="none" stroke="#505050" stroke-width="0.95" stroke-dasharray="4.5 3.5" stroke-linecap="butt" />
<path d="M1409.0 405.3 L1420.0 398.5" fill="none" stroke="#505050" stroke-width="0.95" stroke-dasharray="4.5 3.5" stroke-linecap="butt" />
<path d="M1460.4 398.5 L1472.4 405.3" fill="none" stroke="#505050" stroke-width="0.95" stroke-dasharray="4.5 3.5" stroke-linecap="butt" />
<path d="M1483.5 411.3 L1498.0 419.0" fill="none" stroke="#505050" stroke-width="0.95" stroke-dasharray="4.5 3.5" stroke-linecap="butt" />
<path d="M1510.0 426.7 L1528.8 438.7" fill="none" stroke="#505050" stroke-width="0.95" stroke-dasharray="4.5 3.5" stroke-linecap="butt" />
<path d="M1540.8 408.7 L1588.7 436.1" fill="none" stroke="#505050" stroke-width="0.95" stroke-dasharray="4.5 3.5" stroke-linecap="butt" />
<path d="M1602.3 416.4 L1499.7 478.0" fill="none" stroke="#505050" stroke-width="0.95" stroke-dasharray="4.5 3.5" stroke-linecap="butt" />
<path d="M1484.3 487.4 L1423.6 521.6" fill="none" stroke="#505050" stroke-width="0.95" stroke-dasharray="4.5 3.5" stroke-linecap="butt" />
<path d="M1617.7 409.6 L1611.0 414.0" fill="none" stroke="#505050" stroke-width="0.95" stroke-dasharray="4.5 3.5" stroke-linecap="butt" />
<path d="M1571.6 462.6 L1549.3 450.6" fill="none" stroke="#505050" stroke-width="0.95" stroke-dasharray="4.5 3.5" stroke-linecap="butt" />
<path d="M1484.3 528.5 L1438.2 555.0" fill="none" stroke="#505050" stroke-width="0.95" stroke-dasharray="4.5 3.5" stroke-linecap="butt" />
<path d="M1352.0 424.0 L1366.0 416.5" fill="none" stroke="#505050" stroke-width="0.95" stroke-dasharray="4.5 3.5" stroke-linecap="butt" />
<path d="M1339 328 L1362.1 314.3 L1365.5 316 L1362.1 352 L1334 436 L1310.4 420 L1310.4 376 Q1311 371.5 1315.5 372 L1324 377 Q1328.5 378.5 1330 372.5 Z" fill="#fff" stroke="#333333" stroke-width="1.23" />
<path d="M1341.5 329.5 L1332 373.5 Q1330 380.5 1324.5 379 " fill="none" stroke="#333333" stroke-width="0.9" />
<path d="M1325.5 378.5 L1325.5 430" fill="none" stroke="#333333" stroke-width="1.01" />
<rect x="1342.2" y="330.6" width="9" height="3.4" rx="1.7" fill="none" stroke="#333333" stroke-width="1" transform="rotate(-30 1346.7 332.3)"/>
<rect x="1354.2" y="323.7" width="9" height="3.4" rx="1.7" fill="none" stroke="#333333" stroke-width="1" transform="rotate(-30 1358.7 325.4)"/>
<rect x="1315.4" y="376.5" width="2.8" height="9" rx="1.4" fill="none" stroke="#333333" stroke-width="1"/>
<path d="M1320.5 391.5 Q1323 388 1325.5 391.5 Q1328 388 1330.5 391.5 Q1330.5 396.5 1325.5 398.5 Q1320.5 396.5 1320.5 391.5 Z M1322.5 392 L1328.5 396.5 M1328.5 392 L1322.5 396.5" fill="none" stroke="#333333" stroke-width="1.01" />
<path d="M1363.8 332.3 L1410.0 332.3" fill="none" stroke="#333333" stroke-width="1.12" />
<path d="M1107.4 615.0 C1107.4 590.8 1107.4 498.5 1107.4 470.0 C1107.4 441.5 1107.1 449.7 1107.4 444.0 C1107.7 438.3 1108.0 438.6 1109.1 436.0 C1110.1 433.4 1111.4 431.3 1113.7 428.1 C1116.0 424.9 1119.8 420.2 1122.8 416.7 C1125.8 413.2 1129.5 410.8 1131.4 407.0 C1133.3 403.2 1133.2 398.8 1134.2 393.9 C1135.2 389.0 1136.3 381.7 1137.1 377.9 C1137.9 374.1 1137.8 372.9 1138.8 371.0 C1139.8 369.1 1141.8 367.4 1143.3 366.5 C1144.8 365.6 1147.1 365.5 1147.9 365.3 L1160.4 369.3 Q1162.3 369 1162.4 366 L1163.9 350.5 Q1164.5 343 1170.7 341.2 C1171.8 341.2 1174.1 340.7 1177.5 341.2 C1180.9 341.7 1185.1 342.3 1191.2 344.0 C1197.3 345.7 1207.5 349.1 1214.0 351.5 C1220.5 353.9 1222.5 355.2 1230.0 358.5 C1237.5 361.8 1249.3 366.3 1259.0 371.2 C1268.7 376.1 1279.6 383.1 1288.1 387.9 C1296.6 392.7 1301.3 395.1 1309.8 400.2 C1318.3 405.3 1330.8 413.1 1338.9 418.7 C1347.0 424.3 1351.4 428.3 1358.4 433.9 C1365.5 439.5 1374.6 446.4 1381.2 452.1 C1387.8 457.8 1393.9 463.7 1398.3 468.1 C1402.7 472.5 1405.3 474.7 1407.4 478.3 C1409.5 481.9 1410.2 485.7 1410.9 489.7 C1411.6 493.7 1410.5 498.3 1411.5 502.3 C1412.5 506.3 1413.5 508.9 1417.1 513.5 C1420.7 518.1 1429.8 524.6 1433.2 529.7 C1436.6 534.8 1435.8 536.4 1437.3 544.2 C1438.8 552.0 1439.3 566.0 1442.1 576.5 C1444.9 587.0 1450.8 599.1 1454.2 607.1 C1457.6 615.1 1460.3 618.6 1462.3 624.8 C1464.3 631.0 1465.5 636.7 1466.3 644.2 C1467.0 651.7 1466.7 641.0 1466.8 670.0 C1466.9 699.0 1466.8 793.3 1466.8 818.0 Q1466 824 1461 824.8 L1454.9 822.3 L1111.5 622 Q1107.4 619.5 1107.4 615 Z" fill="#fff" stroke="#333333" stroke-width="1.23" />
<path d="M1166.8 350.0 C1167.1 349.5 1167.5 347.5 1168.5 346.8 C1169.5 346.1 1169.2 345.7 1173.0 346.0 C1176.8 346.3 1184.4 347.1 1191.2 348.8 C1198.0 350.5 1207.5 353.3 1214.0 356.0 C1220.5 358.7 1222.5 361.4 1230.0 365.0 C1237.5 368.6 1249.3 372.8 1259.0 377.7 C1268.7 382.6 1278.4 388.6 1288.1 394.4 C1297.8 400.2 1308.6 407.2 1317.1 412.6 C1325.6 418.1 1332.0 422.5 1338.9 427.1 C1345.8 431.7 1351.4 434.9 1358.4 440.1 C1365.5 445.3 1375.1 453.2 1381.2 458.4 C1387.3 463.6 1391.6 467.9 1394.9 471.5 C1398.2 475.1 1399.5 474.6 1401.0 479.7 C1402.5 484.8 1403.0 496.4 1404.2 502.3 C1405.4 508.2 1404.7 510.1 1408.2 515.2 C1411.7 520.3 1421.7 527.8 1425.2 532.9 C1428.7 538.0 1427.7 538.3 1429.2 545.8 C1430.7 553.3 1431.2 567.6 1434.0 578.1 C1436.8 588.6 1442.5 599.8 1446.1 608.7 C1449.7 617.6 1453.6 624.8 1455.8 631.3 C1458.0 637.8 1458.4 640.9 1459.0 647.4 C1459.6 653.9 1459.4 641.2 1459.5 670.0 C1459.6 698.8 1459.5 795.0 1459.5 820.0" fill="none" stroke="#333333" stroke-width="1.12" />
<path d="M1169.0 355.0 C1169.3 354.4 1170.0 352.1 1171.0 351.5 C1172.0 350.9 1171.9 350.8 1175.3 351.1 C1178.7 351.4 1184.8 351.8 1191.2 353.4 C1197.7 355.0 1207.5 357.8 1214.0 360.5 C1220.5 363.2 1222.5 365.7 1230.0 369.4 C1237.5 373.1 1249.3 377.5 1259.0 382.5 C1268.7 387.5 1278.4 393.6 1288.1 399.5 C1297.8 405.4 1309.5 412.9 1317.1 418.0 C1324.7 423.1 1326.9 425.4 1333.8 430.0 C1340.7 434.6 1350.5 440.0 1358.4 445.8 C1366.3 451.6 1375.5 459.6 1381.2 464.6 C1386.9 469.6 1390.1 473.2 1392.6 476.0 C1395.1 478.8 1394.8 476.9 1396.1 481.3 C1397.4 485.7 1398.8 496.5 1400.2 502.3 C1401.6 508.1 1400.7 510.6 1404.2 516.0 C1407.7 521.4 1417.6 529.3 1421.1 534.5 C1424.6 539.7 1423.6 539.9 1425.2 547.4 C1426.8 554.9 1428.0 569.5 1430.8 579.7 C1433.6 589.9 1438.6 600.1 1442.1 608.7 C1445.6 617.3 1449.6 624.8 1451.8 631.3 C1454.0 637.8 1454.4 640.9 1455.0 647.4 C1455.6 653.9 1455.4 641.7 1455.5 670.0 C1455.6 698.3 1455.5 792.5 1455.5 817.0" fill="none" stroke="#333333" stroke-width="1.12" />
<path d="M1109.7 613.0 C1109.7 589.2 1109.7 498.0 1109.7 470.0 C1109.7 442.0 1109.4 450.5 1109.7 445.0 C1110.0 439.5 1110.3 439.6 1111.3 437.0 C1112.3 434.4 1113.5 432.6 1115.7 429.5 C1117.9 426.4 1121.6 421.8 1124.6 418.2 C1127.6 414.6 1131.6 411.9 1133.6 408.0 C1135.6 404.1 1135.5 399.4 1136.5 394.5 C1137.5 389.6 1138.7 382.2 1139.4 378.5 C1140.2 374.8 1140.2 374.1 1141.0 372.5 C1141.8 370.9 1143.3 369.8 1144.5 369.0 C1145.7 368.2 1147.4 368.2 1148.0 368.0" fill="none" stroke="#333333" stroke-width="1.01" />
<path d="M1148 368 L1159.5 372 Q1165 372.5 1165.4 367 L1166.8 350" fill="none" stroke="#333333" stroke-width="1.01" />
<path d="M1144.5 371.5 L1147.5 371 L1159.3 375.6 Q1168 377 1168.5 368 L1169 355" fill="none" stroke="#333333" stroke-width="1.01" />
<path d="M1459.5 820 Q1460 823.5 1462.5 824" fill="none" stroke="#333333" stroke-width="0.9" />
<path d="M1455.5 817 L1455.5 821.5" fill="none" stroke="#333333" stroke-width="0.9" />
<path d="M1111.5 622 L1454.9 822.3" fill="none" stroke="#333333" stroke-width="2.02" />
<path d="M1183.1 364.4 L1228.6 390.9 Q1232.2 393.2 1233.1 401.6 L1178.8 369.5 Z" fill="#fff" stroke="#333333" stroke-width="1.29" />
<path d="M1178.8 369.5 L1233.1 401.6" fill="none" stroke="#333333" stroke-width="2.58" />
<path d="M1181.5 367.3 L1230.4 394.8" fill="none" stroke="#555" stroke-width="0.9" />
<path d="M1180.3 368.3 L1231.9 399.2" fill="none" stroke="#777" stroke-width="0.78" />
<path d="M1171.7 378.1 L1218.4 404.6 Q1222.0 406.9 1222.9 415.3 L1167.4 383.2 Z" fill="#fff" stroke="#333333" stroke-width="1.29" />
<path d="M1167.4 383.2 L1222.9 415.3" fill="none" stroke="#333333" stroke-width="2.58" />
<path d="M1170.1 381.0 L1220.2 408.5" fill="none" stroke="#555" stroke-width="0.9" />
<path d="M1168.9 382.0 L1221.7 412.9" fill="none" stroke="#777" stroke-width="0.78" />
<path d="M1161.4 391.8 L1207.0 418.3 Q1210.6 420.6 1211.5 429.0 L1157.1 396.9 Z" fill="#fff" stroke="#333333" stroke-width="1.29" />
<path d="M1157.1 396.9 L1211.5 429.0" fill="none" stroke="#333333" stroke-width="2.58" />
<path d="M1159.8 394.7 L1208.8 422.2" fill="none" stroke="#555" stroke-width="0.9" />
<path d="M1158.6 395.7 L1210.3 426.6" fill="none" stroke="#777" stroke-width="0.78" />
<path d="M1150.0 405.5 L1196.7 433.1 Q1200.3 435.4 1201.2 443.8 L1145.7 410.6 Z" fill="#fff" stroke="#333333" stroke-width="1.29" />
<path d="M1145.7 410.6 L1201.2 443.8" fill="none" stroke="#333333" stroke-width="2.58" />
<path d="M1148.4 408.4 L1198.5 437.0" fill="none" stroke="#555" stroke-width="0.9" />
<path d="M1147.2 409.4 L1200.0 441.4" fill="none" stroke="#777" stroke-width="0.78" />
<path d="M1135.2 423.7 L1180.7 451.3 Q1184.3 453.6 1185.2 462.0 L1130.9 428.8 Z" fill="#fff" stroke="#333333" stroke-width="1.29" />
<path d="M1130.9 428.8 L1185.2 462.0" fill="none" stroke="#333333" stroke-width="2.58" />
<path d="M1133.6 426.6 L1182.5 455.2" fill="none" stroke="#555" stroke-width="0.9" />
<path d="M1132.4 427.6 L1184.0 459.6" fill="none" stroke="#777" stroke-width="0.78" />
<path d="M1123.8 445.4 L1170.5 473.0 Q1174.1 475.3 1175.0 483.7 L1119.5 450.5 Z" fill="#fff" stroke="#333333" stroke-width="1.29" />
<path d="M1119.5 450.5 L1175.0 483.7" fill="none" stroke="#333333" stroke-width="2.58" />
<path d="M1122.2 448.3 L1172.3 476.9" fill="none" stroke="#555" stroke-width="0.9" />
<path d="M1121.0 449.3 L1173.8 481.3" fill="none" stroke="#777" stroke-width="0.78" />
<path d="M1145.5 485.3 L1170.5 500.4 Q1174.1 502.7 1175.0 511.1 L1141.2 490.4 Z" fill="#fff" stroke="#333333" stroke-width="1.29" />
<path d="M1141.2 490.4 L1175.0 511.1" fill="none" stroke="#333333" stroke-width="2.58" />
<path d="M1143.9 488.2 L1172.3 504.3" fill="none" stroke="#555" stroke-width="0.9" />
<path d="M1142.7 489.2 L1173.8 508.7" fill="none" stroke="#777" stroke-width="0.78" />
<path d="M1123.8 502.4 L1170.5 530.0 Q1174.1 532.3 1175.0 540.7 L1119.5 507.5 Z" fill="#fff" stroke="#333333" stroke-width="1.29" />
<path d="M1119.5 507.5 L1175.0 540.7" fill="none" stroke="#333333" stroke-width="2.58" />
<path d="M1122.2 505.3 L1172.3 533.9" fill="none" stroke="#555" stroke-width="0.9" />
<path d="M1121.0 506.3 L1173.8 538.3" fill="none" stroke="#777" stroke-width="0.78" />
<path d="M1123.8 530.9 L1170.5 557.4 Q1174.1 559.7 1175.0 568.1 L1119.5 536.0 Z" fill="#fff" stroke="#333333" stroke-width="1.29" />
<path d="M1119.5 536.0 L1175.0 568.1" fill="none" stroke="#333333" stroke-width="2.58" />
<path d="M1122.2 533.8 L1172.3 561.3" fill="none" stroke="#555" stroke-width="0.9" />
<path d="M1121.0 534.8 L1173.8 565.7" fill="none" stroke="#777" stroke-width="0.78" />
<path d="M1123.8 558.3 L1170.5 584.7 Q1174.1 587.0 1175.0 595.4 L1119.5 563.4 Z" fill="#fff" stroke="#333333" stroke-width="1.29" />
<path d="M1119.5 563.4 L1175.0 595.4" fill="none" stroke="#333333" stroke-width="2.58" />
<path d="M1122.2 561.2 L1172.3 588.6" fill="none" stroke="#555" stroke-width="0.9" />
<path d="M1121.0 562.2 L1173.8 593.0" fill="none" stroke="#777" stroke-width="0.78" />
<path d="M1123.8 593.0 L1170.5 620.6 Q1174.1 622.9 1175.0 631.3 L1119.5 598.1 Z" fill="#fff" stroke="#333333" stroke-width="1.29" />
<path d="M1119.5 598.1 L1175.0 631.3" fill="none" stroke="#333333" stroke-width="2.58" />
<path d="M1122.2 595.9 L1172.3 624.5" fill="none" stroke="#555" stroke-width="0.9" />
<path d="M1121.0 596.9 L1173.8 628.9" fill="none" stroke="#777" stroke-width="0.78" />
<path d="M1362.1 468.2 L1380.3 478.7 Q1383.9 481.0 1384.8 489.4 L1357.8 473.3 Z" fill="#fff" stroke="#333333" stroke-width="1.29" />
<path d="M1357.8 473.3 L1384.8 489.4" fill="none" stroke="#333333" stroke-width="2.58" />
<path d="M1360.5 471.1 L1382.1 482.6" fill="none" stroke="#555" stroke-width="0.9" />
<path d="M1359.3 472.1 L1383.6 487.0" fill="none" stroke="#777" stroke-width="0.78" />
<path d="M1362.1 488.7 L1390.6 504.9 Q1394.2 507.2 1395.1 515.6 L1357.8 493.8 Z" fill="#fff" stroke="#333333" stroke-width="1.29" />
<path d="M1357.8 493.8 L1395.1 515.6" fill="none" stroke="#333333" stroke-width="2.58" />
<path d="M1360.5 491.6 L1392.4 508.8" fill="none" stroke="#555" stroke-width="0.9" />
<path d="M1359.3 492.6 L1393.9 513.2" fill="none" stroke="#777" stroke-width="0.78" />
<path d="M1356.4 504.7 L1402.0 531.1 Q1405.6 533.4 1406.5 541.8 L1352.1 509.8 Z" fill="#fff" stroke="#333333" stroke-width="1.29" />
<path d="M1352.1 509.8 L1406.5 541.8" fill="none" stroke="#333333" stroke-width="2.58" />
<path d="M1354.8 507.6 L1403.8 535.0" fill="none" stroke="#555" stroke-width="0.9" />
<path d="M1353.6 508.6 L1405.3 539.4" fill="none" stroke="#777" stroke-width="0.78" />
<path d="M1366.7 530.9 L1413.4 557.4 Q1417.0 559.7 1417.9 568.1 L1362.4 536.0 Z" fill="#fff" stroke="#333333" stroke-width="1.29" />
<path d="M1362.4 536.0 L1417.9 568.1" fill="none" stroke="#333333" stroke-width="2.58" />
<path d="M1365.1 533.8 L1415.2 561.3" fill="none" stroke="#555" stroke-width="0.9" />
<path d="M1363.9 534.8 L1416.7 565.7" fill="none" stroke="#777" stroke-width="0.78" />
<path d="M1381.5 567.1 L1428.2 593.5 Q1431.8 595.8 1432.7 604.2 L1377.2 572.2 Z" fill="#fff" stroke="#333333" stroke-width="1.29" />
<path d="M1377.2 572.2 L1432.7 604.2" fill="none" stroke="#333333" stroke-width="2.58" />
<path d="M1379.9 570.0 L1430.0 597.4" fill="none" stroke="#555" stroke-width="0.9" />
<path d="M1378.7 571.0 L1431.5 601.8" fill="none" stroke="#777" stroke-width="0.78" />
<path d="M1392.9 601.0 L1439.6 627.5 Q1443.2 629.8 1444.1 638.2 L1388.6 606.1 Z" fill="#fff" stroke="#333333" stroke-width="1.29" />
<path d="M1388.6 606.1 L1444.1 638.2" fill="none" stroke="#333333" stroke-width="2.58" />
<path d="M1391.3 603.9 L1441.4 631.4" fill="none" stroke="#555" stroke-width="0.9" />
<path d="M1390.1 604.9 L1442.9 635.8" fill="none" stroke="#777" stroke-width="0.78" />
<path d="M1392.9 628.4 L1439.6 654.8 Q1443.2 657.1 1444.1 665.5 L1388.6 633.5 Z" fill="#fff" stroke="#333333" stroke-width="1.29" />
<path d="M1388.6 633.5 L1444.1 665.5" fill="none" stroke="#333333" stroke-width="2.58" />
<path d="M1391.3 631.3 L1441.4 658.7" fill="none" stroke="#555" stroke-width="0.9" />
<path d="M1390.1 632.3 L1442.9 663.1" fill="none" stroke="#777" stroke-width="0.78" />
<path d="M1392.9 658.0 L1439.6 684.5 Q1443.2 686.8 1444.1 695.2 L1388.6 663.1 Z" fill="#fff" stroke="#333333" stroke-width="1.29" />
<path d="M1388.6 663.1 L1444.1 695.2" fill="none" stroke="#333333" stroke-width="2.58" />
<path d="M1391.3 660.9 L1441.4 688.4" fill="none" stroke="#555" stroke-width="0.9" />
<path d="M1390.1 661.9 L1442.9 692.8" fill="none" stroke="#777" stroke-width="0.78" />
<path d="M1414.6 699.1 L1439.6 713.0 Q1443.2 715.3 1444.1 723.7 L1410.3 704.2 Z" fill="#fff" stroke="#333333" stroke-width="1.29" />
<path d="M1410.3 704.2 L1444.1 723.7" fill="none" stroke="#333333" stroke-width="2.58" />
<path d="M1413.0 702.0 L1441.4 716.9" fill="none" stroke="#555" stroke-width="0.9" />
<path d="M1411.8 703.0 L1442.9 721.3" fill="none" stroke="#777" stroke-width="0.78" />
<path d="M1414.6 726.4 L1439.6 740.4 Q1443.2 742.7 1444.1 751.1 L1410.3 731.5 Z" fill="#fff" stroke="#333333" stroke-width="1.29" />
<path d="M1410.3 731.5 L1444.1 751.1" fill="none" stroke="#333333" stroke-width="2.58" />
<path d="M1413.0 729.3 L1441.4 744.3" fill="none" stroke="#555" stroke-width="0.9" />
<path d="M1411.8 730.3 L1442.9 748.7" fill="none" stroke="#777" stroke-width="0.78" />
<path d="M1392.9 749.2 L1439.6 775.7 Q1443.2 778.0 1444.1 786.4 L1388.6 754.3 Z" fill="#fff" stroke="#333333" stroke-width="1.29" />
<path d="M1388.6 754.3 L1444.1 786.4" fill="none" stroke="#333333" stroke-width="2.58" />
<path d="M1391.3 752.1 L1441.4 779.6" fill="none" stroke="#555" stroke-width="0.9" />
<path d="M1390.1 753.1 L1442.9 784.0" fill="none" stroke="#777" stroke-width="0.78" />
<path d="M1228.7 435 Q1228.7 419 1241 421 L1319 466.5 Q1331.7 474 1331.7 488 L1331.7 566 Q1331.7 577 1320 572.5 L1239 524 Q1228.7 517.5 1228.7 506 Z" fill="#fff" stroke="#333333" stroke-width="1.46" />
<path d="M1232.3 436.5 Q1232.3 424 1241.5 425.5 L1317 469.5 Q1327.8 476 1327.8 489 L1327.8 563.5 Q1327.8 572.5 1320 569 L1241 521.5 Q1232.3 516 1232.3 506 Z" fill="none" stroke="#333333" stroke-width="1.46" />
<ellipse cx="1173.7" cy="354.2" rx="1.6" ry="2.5" fill="none" stroke="#333333" stroke-width="1.12" transform="rotate(-20 1173.7 354.2)"/>
<ellipse cx="1146.3" cy="379.7" rx="1.6" ry="2.5" fill="none" stroke="#333333" stroke-width="1.12" transform="rotate(-20 1146.3 379.7)"/>
<ellipse cx="1121.9" cy="430.6" rx="1.6" ry="2.5" fill="none" stroke="#333333" stroke-width="1.12" transform="rotate(-20 1121.9 430.6)"/>
<ellipse cx="1110.8" cy="475.5" rx="1.6" ry="2.5" fill="none" stroke="#333333" stroke-width="1.12" transform="rotate(-20 1110.8 475.5)"/>
<ellipse cx="1194.9" cy="456.1" rx="1.6" ry="2.5" fill="none" stroke="#333333" stroke-width="1.12" transform="rotate(-20 1194.9 456.1)"/>
<ellipse cx="1194.9" cy="496.3" rx="1.6" ry="2.5" fill="none" stroke="#333333" stroke-width="1.12" transform="rotate(-20 1194.9 496.3)"/>
<ellipse cx="1194.9" cy="546.4" rx="1.6" ry="2.5" fill="none" stroke="#333333" stroke-width="1.12" transform="rotate(-20 1194.9 546.4)"/>
<ellipse cx="1142.9" cy="591.6" rx="1.6" ry="2.5" fill="none" stroke="#333333" stroke-width="1.12" transform="rotate(-20 1142.9 591.6)"/>
<ellipse cx="1282.2" cy="398.2" rx="1.6" ry="2.5" fill="none" stroke="#333333" stroke-width="1.12" transform="rotate(-20 1282.2 398.2)"/>
<ellipse cx="1390.6" cy="479" rx="1.6" ry="2.5" fill="none" stroke="#333333" stroke-width="1.12" transform="rotate(-20 1390.6 479)"/>
<ellipse cx="1416.6" cy="535" rx="1.6" ry="2.5" fill="none" stroke="#333333" stroke-width="1.12" transform="rotate(-20 1416.6 535)"/>
<ellipse cx="1368.2" cy="556" rx="1.6" ry="2.5" fill="none" stroke="#333333" stroke-width="1.12" transform="rotate(-20 1368.2 556)"/>
<ellipse cx="1367.8" cy="596" rx="1.6" ry="2.5" fill="none" stroke="#333333" stroke-width="1.12" transform="rotate(-20 1367.8 596)"/>
<ellipse cx="1275.9" cy="608.6" rx="1.6" ry="2.5" fill="none" stroke="#333333" stroke-width="1.12" transform="rotate(-20 1275.9 608.6)"/>
<ellipse cx="1329" cy="638.7" rx="1.6" ry="2.5" fill="none" stroke="#333333" stroke-width="1.12" transform="rotate(-20 1329 638.7)"/>
<ellipse cx="1368.7" cy="646.7" rx="1.6" ry="2.5" fill="none" stroke="#333333" stroke-width="1.12" transform="rotate(-20 1368.7 646.7)"/>
<ellipse cx="1282" cy="672.2" rx="1.6" ry="2.5" fill="none" stroke="#333333" stroke-width="1.12" transform="rotate(-20 1282 672.2)"/>
<ellipse cx="1345.9" cy="675.2" rx="1.6" ry="2.5" fill="none" stroke="#333333" stroke-width="1.12" transform="rotate(-20 1345.9 675.2)"/>
<ellipse cx="1442.3" cy="615.9" rx="1.6" ry="2.5" fill="none" stroke="#333333" stroke-width="1.12" transform="rotate(-20 1442.3 615.9)"/>
<ellipse cx="1420.2" cy="752.7" rx="1.6" ry="2.5" fill="none" stroke="#333333" stroke-width="1.12" transform="rotate(-20 1420.2 752.7)"/>
<path d="M1224.5 463.5 L1228 465.5 L1228 470 L1224.5 468 Z M1335 527.5 L1339 530 L1339 535 L1335 532.5 Z" fill="none" stroke="#333333" stroke-width="0.9" />
<path d="M1336.5 472 L1342 470.5 L1349 475 L1349 481 L1343.5 483.5 L1336.5 478.5 Z" fill="none" stroke="#333333" stroke-width="1.01" />
<path d="M1249.5 538.5 L1253 540.5 L1253 553.5 L1249.5 551.5 Z" fill="none" stroke="#333333" stroke-width="1.01" />
<ellipse cx="1256" cy="546.5" rx="0.9" ry="0.9" fill="none" stroke="#333333" stroke-width="0.9"/>
<ellipse cx="1252.5" cy="565" rx="0.7" ry="0.7" fill="#555" stroke="#333333" stroke-width="0.9"/>
<path d="M1272.5 533.5 L1285 526" fill="none" stroke="#777" stroke-width="3.58" />
<path d="M1272.5 533.5 L1285 526" fill="none" stroke="#fff" stroke-width="1.34" stroke-dasharray="0.9 0.9" stroke-linecap="butt" />
<path d="M1291.0 523.0 L1289.2 526.7 L1285.6 526.7 L1283.8 523.0 L1285.6 519.4 L1289.2 519.4 Z" fill="#fff" stroke="#333333" stroke-width="1.01" />
<path d="M1292.4 522.5 L1291.0 523.0" fill="none" stroke="#333333" stroke-width="1.01" />
<path d="M1290.6 526.1 L1289.2 526.7" fill="none" stroke="#333333" stroke-width="1.01" />
<path d="M1287.0 526.1 L1285.6 526.7" fill="none" stroke="#333333" stroke-width="1.01" />
<path d="M1285.2 522.5 L1283.8 523.0" fill="none" stroke="#333333" stroke-width="1.01" />
<path d="M1287.0 518.9 L1285.6 519.4" fill="none" stroke="#333333" stroke-width="1.01" />
<path d="M1290.6 518.9 L1289.2 519.4" fill="none" stroke="#333333" stroke-width="1.01" />
<path d="M1292.4 522.5 L1290.6 526.1 L1287.0 526.1 L1285.2 522.5 L1287.0 518.9 L1290.6 518.9 Z" fill="#fff" stroke="#333333" stroke-width="1.01" />
<ellipse cx="1288.8" cy="522.5" rx="1.8900000000000001" ry="2.3100000000000005" fill="none" stroke="#333333" stroke-width="1.46"/>
<path d="M1247.5 486.5 L1257.0 486.5" fill="none" stroke="#333333" stroke-width="1.12" />
<path d="M1247.5 486.5 L1275.5 529.0" fill="none" stroke="#333333" stroke-width="1.12" />
<path d="M1304.5 536 L1310 534.5 L1315.5 539 L1315.5 548 L1310 550 L1304.5 545.5 Z" fill="#fff" stroke="#333333" stroke-width="1.79" />
<ellipse cx="1310.3" cy="543.2" rx="2.6" ry="3.2" fill="none" stroke="#333333" stroke-width="1.12"/>
<path d="M1309 549 L1309 605.5 L1482 605.5" fill="none" stroke="#333333" stroke-width="1.12" />
<path d="M1316.0 542.0 L1334.0 532.0" fill="none" stroke="#505050" stroke-width="0.95" stroke-dasharray="4.5 3.5" stroke-linecap="butt" />
<path d="M1341.0 575.6 L1338.9 579.8 L1334.9 579.8 L1332.8 575.6 L1334.9 571.5 L1338.9 571.5 Z" fill="#fff" stroke="#333333" stroke-width="1.01" />
<path d="M1342.7 575.0 L1341.0 575.6" fill="none" stroke="#333333" stroke-width="1.01" />
<path d="M1340.6 579.2 L1338.9 579.8" fill="none" stroke="#333333" stroke-width="1.01" />
<path d="M1336.6 579.2 L1334.9 579.8" fill="none" stroke="#333333" stroke-width="1.01" />
<path d="M1334.5 575.0 L1332.8 575.6" fill="none" stroke="#333333" stroke-width="1.01" />
<path d="M1336.6 570.8 L1334.9 571.5" fill="none" stroke="#333333" stroke-width="1.01" />
<path d="M1340.6 570.8 L1338.9 571.5" fill="none" stroke="#333333" stroke-width="1.01" />
<path d="M1342.7 575.0 L1340.6 579.2 L1336.6 579.2 L1334.5 575.0 L1336.6 570.8 L1340.6 570.8 Z" fill="#fff" stroke="#333333" stroke-width="1.01" />
<ellipse cx="1338.6" cy="575" rx="2.16" ry="2.64" fill="none" stroke="#333333" stroke-width="1.46"/>
<path d="M1343.0 577.5 L1470.0 577.5" fill="none" stroke="#333333" stroke-width="1.12" />
<path d="M1343.0 572.0 L1366.0 558.0" fill="none" stroke="#505050" stroke-width="0.95" stroke-dasharray="4.5 3.5" stroke-linecap="butt" />
<path d="M1129.6 609 L1131.8 609 L1131.8 629.6 L1129.6 629.6 Z M1431 784.6 L1433.2 784.6 L1433.2 804 L1431 804 Z" fill="none" stroke="#333333" stroke-width="1.01" />
<path d="M1139.5 629.5 L1149 634.5 L1149 646.0 L1139.5 641.0 Z" fill="#fff" stroke="#333333" stroke-width="2.02" />
<path d="M1142 635.0 L1146.5 637.5 L1146.5 642.0 L1142 639.5 Z" fill="none" stroke="#333333" stroke-width="1.01" />
<path d="M1414.3 786.9 L1423.8 791.9 L1423.8 803.4 L1414.3 798.4 Z" fill="#fff" stroke="#333333" stroke-width="2.02" />
<path d="M1416.8 792.4 L1421.3 794.9 L1421.3 799.4 L1416.8 796.9 Z" fill="none" stroke="#333333" stroke-width="1.01" />
<ellipse cx="1263.3" cy="615.5" rx="2" ry="2.6" fill="none" stroke="#333333" stroke-width="1.12"/>
<path d="M1262.6 618 L1262.6 634 M1264.2 618 L1264.2 634" fill="none" stroke="#333333" stroke-width="1.01" />
<path d="M1352.3 684.3 L1352.3 691.1" fill="none" stroke="#333333" stroke-width="2.02" />
<path d="M1465.1 632.0 L1627.0 632.0" fill="none" stroke="#333333" stroke-width="1.12" />
<path d="M1187.0 231.0 L1187.0 590.5 L1303.0 547.0" fill="none" stroke="#666" stroke-width="0.95" stroke-dasharray="4.5 3.5" stroke-linecap="butt" />
<path d="M1303.9 262 Q1304.5 256.5 1308.5 256.5 Q1312.3 257 1312.3 262 Q1312.3 266.5 1316 266 Q1321 264 1321 258.5 L1320.3 254 Q1320.8 250.5 1325.5 250 L1345 247.3 Q1349 246.5 1349.5 242.5 Q1350.5 238.8 1354 238.8 Q1357.3 239 1357.3 243 L1356.3 249.5 L1335 263 Q1331.5 265.5 1331.3 269 L1330.5 305.8 L1305.7 319.5 Q1303.1 319 1303.1 316 Z" fill="#fff" stroke="#333333" stroke-width="1.23" />
<path d="M1305.6 264 L1304.8 316.5" fill="none" stroke="#333333" stroke-width="0.9" />
<path d="M1334.7 249.3 L1334.7 263" fill="none" stroke="#333333" stroke-width="1.01" />
<ellipse cx="1315.6" cy="277.6" rx="1.2" ry="1.6" fill="none" stroke="#333333" stroke-width="1.01"/>
<rect x="1307.1" y="307.5" width="9" height="3.4" rx="1.7" fill="none" stroke="#333333" stroke-width="1" transform="rotate(-30 1311.6 309.2)"/>
<rect x="1319.6" y="300.7" width="9" height="3.4" rx="1.7" fill="none" stroke="#333333" stroke-width="1" transform="rotate(-30 1324.1 302.4)"/>
<path d="M1271.0 281.8 L1304.0 281.8" fill="none" stroke="#333333" stroke-width="1.12" />
<path d="M1528.8 394 Q1529.5 389 1533 389 Q1537 389.5 1537 394.5 Q1537.3 398 1541 397.5 Q1545.5 395.5 1545.3 390 L1545 386.5 Q1545.5 383 1551 381.4 L1558 379.5 Q1565 377.5 1566 373 L1567 369 Q1568 366 1570 366.8 Q1572 368 1571.5 371 L1569.8 378.8 L1558 396 Q1555.3 399 1555.3 402 L1554.4 437.8 L1530.5 450.6 Q1527.9 450.5 1527.9 448.1 Z" fill="#fff" stroke="#333333" stroke-width="1.23" />
<path d="M1530.6 396 L1529.8 449" fill="none" stroke="#333333" stroke-width="0.9" />
<path d="M1558.7 379.7 L1558.7 395" fill="none" stroke="#333333" stroke-width="1.01" />
<ellipse cx="1539.9" cy="409.6" rx="1.2" ry="1.6" fill="none" stroke="#333333" stroke-width="1.01"/>
<rect x="1531.1" y="438.7" width="9" height="3.4" rx="1.7" fill="none" stroke="#333333" stroke-width="1" transform="rotate(-30 1535.6 440.4)"/>
<rect x="1543.1" y="431.8" width="9" height="3.4" rx="1.7" fill="none" stroke="#333333" stroke-width="1" transform="rotate(-30 1547.6 433.5)"/>
<path d="M1585.0 338.3 L1560.5 338.3 L1560.5 381.0" fill="none" stroke="#333333" stroke-width="1.12" />
<path d="M1499.7 419.9 L1522.8 407 L1525.4 409.6 L1520.2 447.2 L1500.6 501.9 L1499.7 531 Q1499 534 1496.3 533.6 L1486 527.6 L1486 471.2 L1489.5 467.7 Z" fill="#fff" stroke="#333333" stroke-width="1.23" />
<path d="M1486 471.2 L1499.7 479.7 L1499.7 531 M1489.5 467.7 L1502.3 421.5 M1497 478 L1497 532" fill="none" stroke="#333333" stroke-width="1.01" />
<rect x="1502.1" y="423.3" width="9" height="3.4" rx="1.7" fill="none" stroke="#333333" stroke-width="1" transform="rotate(-30 1506.6 425)"/>
<rect x="1514.0" y="417.3" width="9" height="3.4" rx="1.7" fill="none" stroke="#333333" stroke-width="1" transform="rotate(-30 1518.5 419)"/>
<rect x="1490.6" y="478.6" width="2.8" height="9" rx="1.4" fill="none" stroke="#333333" stroke-width="1"/>
<rect x="1490.6" y="518.8" width="2.8" height="9" rx="1.4" fill="none" stroke="#333333" stroke-width="1"/>
<path d="M1486 489 Q1490 489 1490 492 Q1490 495 1486 495 M1486 511 Q1490 511 1490 514 Q1490 517 1486 517" fill="#fff" stroke="#333333" stroke-width="1.01" />
<path d="M1500.6 525.9 L1534.8 525.9" fill="none" stroke="#333333" stroke-width="1.12" />
<path d="M1367.5 420 L1386 406.5 L1397.5 410 L1407.5 418 L1407.5 424.5 L1389 431.5 L1383 428.5 L1376.5 431 Z" fill="#fff" stroke="#333333" stroke-width="1.12" />
<path d="M1376 413.5 L1388 418.5 L1388 431 M1388 418.5 L1407.5 418 M1372 417 L1383 421.5 L1383 428.5 M1389 424 L1407 421.5 M1397 419 L1397 428" fill="none" stroke="#333333" stroke-width="1.01" />
<path d="M1384.5 408.5 L1395 412.5 M1390 405.5 L1390 411 M1393 409 L1397 407.5" fill="none" stroke="#333333" stroke-width="1.34" />
<path d="M1397 408 L1403 404.5" fill="none" stroke="#333333" stroke-width="3.6" stroke-linecap="butt"/>
<path d="M1397 408 L1403 404.5" fill="none" stroke="#fff" stroke-width="1.3599999999999999" stroke-linecap="butt"/>
<ellipse cx="1403.3" cy="404.3" rx="1.2" ry="1.9" fill="#fff" stroke="#333333" stroke-width="0.9" transform="rotate(-25 1403.3 404.3)"/>
<path d="M1370 421.5 L1373 427.5 M1374 420 L1377 426 M1378 418.5 L1381 424.5" fill="none" stroke="#555" stroke-width="1.34" />
<path d="M1390.3 430.5 L1390.3 453.7 L1399.5 453.7" fill="none" stroke="#333333" stroke-width="1.12" />
<path d="M1421.5 390 Q1421.5 386.5 1425 386.5 L1431 386.5 Q1436.5 388 1436.5 392 L1436.5 403 Q1436.5 406.5 1433 406.5 L1427 406.5 Q1421.5 405 1421.5 401 Z" fill="#fff" stroke="#333333" stroke-width="1.23" />
<path d="M1423.7 391 Q1423.7 389 1426 389 L1432 390.5 Q1434.5 391.5 1434.5 394 L1434.5 402 Q1434.5 404.5 1432 404 L1426 402.5 Q1423.7 402 1423.7 400 Z" fill="none" stroke="#333333" stroke-width="1.12" />
<path d="M1426.5 393.5 L1431.5 394.5 L1431.5 400.5 L1426.5 399.5 Z" fill="none" stroke="#333333" stroke-width="1.12" />
<ellipse cx="1429" cy="397" rx="1" ry="1.3" fill="none" stroke="#333333" stroke-width="0.9"/>
<path d="M1424.1 407.0 L1424.1 429.3 L1434.0 429.3" fill="none" stroke="#333333" stroke-width="1.12" />
<path d="M1456.5 396.5 L1454.1 401.3 L1449.4 401.3 L1447.0 396.5 L1449.4 391.6 L1454.1 391.6 Z" fill="#fff" stroke="#333333" stroke-width="1.12" />
<path d="M1458.9 395.6 L1456.5 396.5" fill="none" stroke="#333333" stroke-width="1.12" />
<path d="M1456.5 400.4 L1454.1 401.3" fill="none" stroke="#333333" stroke-width="1.12" />
<path d="M1451.7 400.4 L1449.4 401.3" fill="none" stroke="#333333" stroke-width="1.12" />
<path d="M1449.3 395.6 L1447.0 396.5" fill="none" stroke="#333333" stroke-width="1.12" />
<path d="M1451.7 390.8 L1449.4 391.6" fill="none" stroke="#333333" stroke-width="1.12" />
<path d="M1456.5 390.8 L1454.1 391.6" fill="none" stroke="#333333" stroke-width="1.12" />
<path d="M1458.9 395.6 L1456.5 400.4 L1451.7 400.4 L1449.3 395.6 L1451.7 390.8 L1456.5 390.8 Z" fill="#fff" stroke="#333333" stroke-width="1.12" />
<ellipse cx="1454.1" cy="395.6" rx="2.52" ry="3.08" fill="none" stroke="#333333" stroke-width="1.57"/>
<ellipse cx="1455" cy="396" rx="1.8" ry="2.2" fill="#555" stroke="#333333" stroke-width="1.68"/>
<path d="M1453.6 389.6 L1453.6 342.5 L1483.0 342.5" fill="none" stroke="#333333" stroke-width="1.12" />
<ellipse cx="1477.4" cy="408.6" rx="5" ry="6.6" fill="#fff" stroke="#333333" stroke-width="1.79" transform="rotate(20 1477.4 408.6)"/>
<ellipse cx="1478.6" cy="408.4" rx="5" ry="6.6" fill="#fff" stroke="#333333" stroke-width="2.24" transform="rotate(20 1478.6 408.4)"/>
<ellipse cx="1479" cy="408.5" rx="1.7" ry="2.2" fill="#666" stroke="#333333" stroke-width="1.46" transform="rotate(20 1479 408.5)"/>
<path d="M1478.4 401.6 L1478.4 362.2 L1485.0 362.2" fill="none" stroke="#333333" stroke-width="1.12" />
<path d="M1635.9 396.3 L1618.3 407.7 L1620.5 411.0 L1638.1 399.6 Z" fill="#fff" stroke="#333333" stroke-width="1.01" />
<path d="M1631.3 399.2 L1634.5 402.0" fill="none" stroke="#333333" stroke-width="1.01" />
<path d="M1629.7 400.3 L1632.9 403.0" fill="none" stroke="#333333" stroke-width="1.01" />
<path d="M1628.1 401.3 L1631.3 404.0" fill="none" stroke="#333333" stroke-width="1.01" />
<path d="M1626.5 402.3 L1629.7 405.0" fill="none" stroke="#333333" stroke-width="1.01" />
<path d="M1624.9 403.4 L1628.1 406.1" fill="none" stroke="#333333" stroke-width="1.01" />
<path d="M1623.3 404.4 L1626.5 407.1" fill="none" stroke="#333333" stroke-width="1.01" />
<path d="M1621.8 405.4 L1624.9 408.1" fill="none" stroke="#333333" stroke-width="1.01" />
<path d="M1620.2 406.5 L1623.3 409.2" fill="none" stroke="#333333" stroke-width="1.01" />
<path d="M1618.6 407.5 L1621.8 410.2" fill="none" stroke="#333333" stroke-width="1.01" />
<path d="M1634.7 394.4 L1639.1 391.6 L1640.4 392.2 Q1643.0 394.0 1643.6 397.1 L1643.6 398.6 L1639.3 401.5 Z" fill="#fff" stroke="#333333" stroke-width="1.23" />
<path d="M1641.0 393.6 L1636.2 396.7" fill="none" stroke="#333333" stroke-width="0.9" />
<path d="M1642.6 396.1 L1637.8 399.2" fill="none" stroke="#333333" stroke-width="0.9" />
<path d="M1643.5 398.5 L1652.0 398.5" fill="none" stroke="#333333" stroke-width="1.12" />
<path d="M1609.1 417.1 L1607.2 421.1 L1603.3 421.1 L1601.3 417.1 L1603.3 413.1 L1607.2 413.1 Z" fill="#fff" stroke="#333333" stroke-width="1.01" />
<path d="M1611.0 416.4 L1609.1 417.1" fill="none" stroke="#333333" stroke-width="1.01" />
<path d="M1609.1 420.4 L1607.2 421.1" fill="none" stroke="#333333" stroke-width="1.01" />
<path d="M1605.1 420.4 L1603.3 421.1" fill="none" stroke="#333333" stroke-width="1.01" />
<path d="M1603.2 416.4 L1601.3 417.1" fill="none" stroke="#333333" stroke-width="1.01" />
<path d="M1605.1 412.4 L1603.3 413.1" fill="none" stroke="#333333" stroke-width="1.01" />
<path d="M1609.1 412.4 L1607.2 413.1" fill="none" stroke="#333333" stroke-width="1.01" />
<path d="M1611.0 416.4 L1609.1 420.4 L1605.1 420.4 L1603.2 416.4 L1605.1 412.4 L1609.1 412.4 Z" fill="#fff" stroke="#333333" stroke-width="1.01" />
<ellipse cx="1607.1" cy="416.4" rx="2.07" ry="2.53" fill="none" stroke="#333333" stroke-width="1.46"/>
<path d="M1611.7 419.0 L1652.0 419.0" fill="none" stroke="#333333" stroke-width="1.12" />
<path d="M1590 435.5 L1602 443.5" fill="none" stroke="#333333" stroke-width="5.2" stroke-linecap="butt"/>
<path d="M1590 435.5 L1602 443.5" fill="none" stroke="#fff" stroke-width="2.96" stroke-linecap="butt"/>
<path d="M1590 435.5 L1602 443.5" fill="none" stroke="#9a9a9a" stroke-width="3.58" />
<ellipse cx="1590" cy="435.5" rx="1.6" ry="2.6" fill="#fff" stroke="#333333" stroke-width="1.01" transform="rotate(30 1590 435.5)"/>
<ellipse cx="1602.3" cy="443.7" rx="1.6" ry="2.6" fill="#888" stroke="#333333" stroke-width="1.79" transform="rotate(30 1602.3 443.7)"/>
<path d="M1604.0 442.1 L1622.0 442.1" fill="none" stroke="#333333" stroke-width="1.12" />
<path d="M1583.1 467.4 L1573.3 460.5 L1570.3 464.7 L1580.1 471.6 Z" fill="#fff" stroke="#333333" stroke-width="1.12" />
<path d="M1578.8 464.4 L1576.8 469.3" fill="none" stroke="#333333" stroke-width="1.01" />
<path d="M1577.5 463.4 L1575.5 468.4" fill="none" stroke="#333333" stroke-width="1.01" />
<path d="M1576.2 462.5 L1574.2 467.4" fill="none" stroke="#333333" stroke-width="1.01" />
<path d="M1574.8 461.5 L1572.8 466.5" fill="none" stroke="#333333" stroke-width="1.01" />
<path d="M1573.5 460.6 L1571.5 465.6" fill="none" stroke="#333333" stroke-width="1.01" />
<path d="M1585.0 464.7 L1590.0 468.3 L1589.7 470.2 Q1588.4 474.2 1585.0 476.8 L1583.4 477.8 L1578.3 474.2 Z" fill="#fff" stroke="#333333" stroke-width="1.34" />
<path d="M1588.3 471.7 L1582.8 467.8" fill="none" stroke="#333333" stroke-width="0.9" />
<path d="M1586.0 475.0 L1580.5 471.2" fill="none" stroke="#333333" stroke-width="0.9" />
<ellipse cx="1588.3" cy="474" rx="5" ry="6.2" fill="#fff" stroke="#333333" stroke-width="1.12" transform="rotate(20 1588.3 474)"/>
<path d="M1593.8 473.7 L1621.0 473.7" fill="none" stroke="#333333" stroke-width="1.12" />
<path d="M127.0 686.5 L134.5 692.0 L70.5 728.5 L92.0 742.5" fill="none" stroke="#505050" stroke-width="0.95" stroke-dasharray="4.5 3.5" stroke-linecap="butt" />
<path d="M147.6 775.5 L207.5 809.4" fill="none" stroke="#505050" stroke-width="0.95" stroke-dasharray="4.5 3.5" stroke-linecap="butt" />
<ellipse cx="149.9" cy="776" rx="71" ry="94.5" fill="#fff" stroke="#333333" stroke-width="1.12" transform="rotate(28.4 149.9 776)"/>
<path d="M103 846 C85 800 120 725 172 707 C205 697 225 722 225.5 748" fill="none" stroke="#333333" stroke-width="1.12" />
<ellipse cx="158.5" cy="781.1" rx="29.2" ry="47.8" fill="#fff" stroke="#333333" stroke-width="1.12" transform="rotate(32.4 158.5 781.1)"/>
<path d="M172.5 737.5 C178 762 160 800 138 826" fill="none" stroke="#333333" stroke-width="1.12" />
<path d="M174 739 C180 764 162 802 140.5 827" fill="none" stroke="#333333" stroke-width="0.9" />
<path d="M150 809.5 L167 813" fill="none" stroke="#333333" stroke-width="4.6" stroke-linecap="butt"/>
<path d="M150 809.5 L167 813" fill="none" stroke="#fff" stroke-width="2.3599999999999994" stroke-linecap="butt"/>
<ellipse cx="167.3" cy="813" rx="1.6" ry="2.5" fill="#fff" stroke="#333333" stroke-width="1.01" transform="rotate(10 167.3 813)"/>
<ellipse cx="150" cy="809.5" rx="2.2" ry="1.6" fill="#fff" stroke="#333333" stroke-width="1.01"/>
<path d="M199.5 696.9 L244.5 696.9" fill="none" stroke="#333333" stroke-width="1.12" />
<ellipse cx="47" cy="640.5" rx="12" ry="17" fill="#fff" stroke="#333333" stroke-width="1.12" transform="rotate(25 47 640.5)"/>
<path d="M54 625 L63 628.5 L51.5 663.5 L37 654 Z" fill="#fff" stroke="none" stroke-width="0.0" />
<path d="M54.2 625.1 L62.8 628.5 M37.1 654.1 L51.6 663.5" fill="none" stroke="#333333" stroke-width="1.12" />
<ellipse cx="59.5" cy="646.5" rx="13" ry="18.8" fill="#fff" stroke="#333333" stroke-width="1.12" transform="rotate(25 59.5 646.5)"/>
<ellipse cx="61.5" cy="647.8" rx="13.4" ry="19" fill="#fff" stroke="#333333" stroke-width="2.46" transform="rotate(25 61.5 647.8)"/>
<ellipse cx="63" cy="648.5" rx="10.5" ry="16" fill="#fff" stroke="#333333" stroke-width="2.02" transform="rotate(25 63 648.5)"/>
<ellipse cx="56.5" cy="645" rx="13" ry="18.6" fill="none" stroke="#333333" stroke-width="0.9" transform="rotate(25 56.5 645)"/>
<path d="M61.0 602.8 L46.9 602.8 L46.9 626.0" fill="none" stroke="#777" stroke-width="1.12" />
<path d="M86 651.5 A8 12.5 25 1 0 84 676" fill="none" stroke="#333333" stroke-width="2.69" />
<path d="M88.5 655.5 A5 8.5 25 1 0 86.5 671" fill="none" stroke="#333333" stroke-width="1.57" />
<path d="M85 659 L89 661 L88 667 M86 651.5 L91 655" fill="none" stroke="#333333" stroke-width="1.57" />
<path d="M92.7 625.1 L83.6 625.1 L83.6 650.0" fill="none" stroke="#333333" stroke-width="1.12" />
<ellipse cx="101.2" cy="672.1" rx="7.2" ry="10" fill="#fff" stroke="#333333" stroke-width="2.91" transform="rotate(25 101.2 672.1)"/>
<ellipse cx="101.5" cy="672.3" rx="4" ry="6.2" fill="none" stroke="#333333" stroke-width="1.12" transform="rotate(25 101.5 672.3)"/>
<path d="M125.0 648.1 L102.4 648.1 L102.4 661.0" fill="none" stroke="#333333" stroke-width="1.12" />
<ellipse cx="115.6" cy="680.8" rx="9" ry="12.4" fill="#fff" stroke="#333333" stroke-width="1.79" transform="rotate(25 115.6 680.8)"/>
<ellipse cx="116.6" cy="680.6" rx="8.8" ry="12.2" fill="#fff" stroke="#333333" stroke-width="2.24" transform="rotate(25 116.6 680.6)"/>
<ellipse cx="117" cy="681" rx="5" ry="7.4" fill="none" stroke="#333333" stroke-width="1.34" transform="rotate(25 117 681)"/>
<path d="M129.5 672.9 L155.0 672.9" fill="none" stroke="#999" stroke-width="1.12" />
<path d="M258.6 742.4 L311.3 742.4 L433.0 811.4 L319.2 975.0 L160.4 975.0 L160.4 879.3 Z" fill="none" stroke="#444" stroke-width="1.12" stroke-dasharray="5 3" stroke-linecap="butt" />
<path d="M544.1 837.9 L395.0 919.2 L341.2 889.2" fill="none" stroke="#505050" stroke-width="0.95" stroke-dasharray="4.5 3.5" stroke-linecap="butt" />
<path d="M303.2 965.4 L294.6 968.2 L285.9 970.3 L277.3 971.5 L268.8 971.9 L260.4 971.4 L252.2 970.1 L244.4 968.0 L236.9 965.1 L229.7 961.3 L223.0 956.8 L216.9 951.6 L211.2 945.7 L206.2 939.1 L201.8 932.0 L198.0 924.2 L194.9 916.1 L192.6 907.4 L190.9 898.5 L190.0 889.2 L189.9 879.7 L190.5 870.1 L191.8 860.3 L193.9 850.6 L196.7 840.9 L200.2 831.4 L204.3 822.1 L209.1 813.0 L214.5 804.3 L220.5 796.0 L227.0 788.2 L233.9 780.9 L241.3 774.3 L249.1 768.2 L257.1 762.8 L265.4 758.2 L273.8 754.3 L282.4 751.2 L291.1 748.9 L299.7 747.4 L308.3 746.7 L316.7 746.9 L324.9 748.0 L332.9 749.9 L340.5 752.6 L347.8 756.1 L354.6 760.3 L360.9 765.3 L366.7 771.1 Z" fill="#fff" stroke="none" stroke-width="0.0" />
<path d="M303.2 965.4 L294.6 968.2 L285.9 970.3 L277.3 971.5 L268.8 971.9 L260.4 971.4 L252.2 970.1 L244.4 968.0 L236.9 965.1 L229.7 961.3 L223.0 956.8 L216.9 951.6 L211.2 945.7 L206.2 939.1 L201.8 932.0 L198.0 924.2 L194.9 916.1 L192.6 907.4 L190.9 898.5 L190.0 889.2 L189.9 879.7 L190.5 870.1 L191.8 860.3 L193.9 850.6 L196.7 840.9 L200.2 831.4 L204.3 822.1 L209.1 813.0 L214.5 804.3 L220.5 796.0 L227.0 788.2 L233.9 780.9 L241.3 774.3 L249.1 768.2 L257.1 762.8 L265.4 758.2 L273.8 754.3 L282.4 751.2 L291.1 748.9 L299.7 747.4 L308.3 746.7 L316.7 746.9 L324.9 748.0 L332.9 749.9 L340.5 752.6 L347.8 756.1 L354.6 760.3 L360.9 765.3 L366.7 771.1" fill="none" stroke="#333333" stroke-width="1.12" />
<path d="M303.1 964.6 L295.1 967.3 L287.1 969.1 L279.2 970.2 L271.3 970.5 L263.7 970.0 L256.2 968.8 L249.0 966.7 L242.2 963.9 L235.7 960.3 L229.7 956.1 L224.1 951.1 L219.0 945.5 L214.4 939.3 L210.5 932.5 L207.1 925.2 L204.4 917.4 L202.3 909.3 L200.8 900.7 L200.1 891.9 L200.0 882.9 L200.6 873.7 L201.9 864.4 L203.8 855.0 L206.4 845.7 L209.6 836.6 L213.4 827.6 L217.8 818.8 L222.8 810.3 L228.3 802.2 L234.2 794.5 L240.6 787.3 L247.3 780.6 L254.4 774.4 L261.8 768.9 L269.5 764.1 L277.3 759.9 L285.2 756.4 L293.2 753.7 L301.2 751.8 L309.1 750.7 L317.0 750.3 L324.7 750.7 L332.1 751.9 L339.3 753.9 L346.2 756.7 L352.7 760.2 L358.8 764.4 L364.4 769.3 Z" fill="#fff" stroke="none" stroke-width="0.0" />
<path d="M303.1 964.6 L295.1 967.3 L287.1 969.1 L279.2 970.2 L271.3 970.5 L263.7 970.0 L256.2 968.8 L249.0 966.7 L242.2 963.9 L235.7 960.3 L229.7 956.1 L224.1 951.1 L219.0 945.5 L214.4 939.3 L210.5 932.5 L207.1 925.2 L204.4 917.4 L202.3 909.3 L200.8 900.7 L200.1 891.9 L200.0 882.9 L200.6 873.7 L201.9 864.4 L203.8 855.0 L206.4 845.7 L209.6 836.6 L213.4 827.6 L217.8 818.8 L222.8 810.3 L228.3 802.2 L234.2 794.5 L240.6 787.3 L247.3 780.6 L254.4 774.4 L261.8 768.9 L269.5 764.1 L277.3 759.9 L285.2 756.4 L293.2 753.7 L301.2 751.8 L309.1 750.7 L317.0 750.3 L324.7 750.7 L332.1 751.9 L339.3 753.9 L346.2 756.7 L352.7 760.2 L358.8 764.4 L364.4 769.3" fill="none" stroke="#333333" stroke-width="1.12" />
<path d="M303.4 964.0 L296.0 966.4 L288.7 968.1 L281.4 969.1 L274.3 969.3 L267.3 968.8 L260.5 967.5 L254.0 965.5 L247.8 962.8 L242.0 959.4 L236.5 955.4 L231.5 950.7 L227.0 945.3 L222.9 939.4 L219.4 933.0 L216.4 926.1 L214.0 918.7 L212.1 910.9 L210.9 902.8 L210.3 894.5 L210.3 885.8 L210.9 877.1 L212.1 868.2 L213.8 859.2 L216.2 850.3 L219.2 841.5 L222.7 832.8 L226.7 824.3 L231.2 816.0 L236.2 808.1 L241.7 800.5 L247.5 793.4 L253.6 786.7 L260.1 780.5 L266.9 774.9 L273.9 769.9 L281.0 765.5 L288.3 761.8 L295.6 758.8 L303.0 756.4 L310.3 754.8 L317.6 753.9 L324.8 753.8 L331.7 754.4 L338.5 755.7 L344.9 757.8 L351.1 760.5 L356.9 764.0 L362.3 768.2 Z" fill="#fff" stroke="none" stroke-width="0.0" />
<path d="M303.4 964.0 L296.0 966.4 L288.7 968.1 L281.4 969.1 L274.3 969.3 L267.3 968.8 L260.5 967.5 L254.0 965.5 L247.8 962.8 L242.0 959.4 L236.5 955.4 L231.5 950.7 L227.0 945.3 L222.9 939.4 L219.4 933.0 L216.4 926.1 L214.0 918.7 L212.1 910.9 L210.9 902.8 L210.3 894.5 L210.3 885.8 L210.9 877.1 L212.1 868.2 L213.8 859.2 L216.2 850.3 L219.2 841.5 L222.7 832.8 L226.7 824.3 L231.2 816.0 L236.2 808.1 L241.7 800.5 L247.5 793.4 L253.6 786.7 L260.1 780.5 L266.9 774.9 L273.9 769.9 L281.0 765.5 L288.3 761.8 L295.6 758.8 L303.0 756.4 L310.3 754.8 L317.6 753.9 L324.8 753.8 L331.7 754.4 L338.5 755.7 L344.9 757.8 L351.1 760.5 L356.9 764.0 L362.3 768.2" fill="none" stroke="#333333" stroke-width="1.12" />
<path d="M304.1 963.5 L297.4 965.7 L290.7 967.2 L284.1 968.0 L277.6 968.2 L271.3 967.6 L265.1 966.4 L259.3 964.4 L253.7 961.8 L248.5 958.6 L243.7 954.7 L239.2 950.2 L235.1 945.2 L231.6 939.6 L228.4 933.5 L225.8 926.9 L223.7 919.9 L222.1 912.5 L221.1 904.8 L220.6 896.8 L220.6 888.6 L221.2 880.3 L222.3 871.8 L224.0 863.2 L226.2 854.7 L228.9 846.2 L232.1 837.8 L235.8 829.6 L239.9 821.5 L244.4 813.8 L249.3 806.4 L254.6 799.3 L260.2 792.7 L266.1 786.5 L272.3 780.9 L278.6 775.7 L285.1 771.2 L291.7 767.2 L298.5 763.9 L305.2 761.2 L311.9 759.1 L318.6 757.8 L325.2 757.2 L331.7 757.2 L337.9 757.9 L344.0 759.4 L349.7 761.5 L355.2 764.2 L360.4 767.6 Z" fill="#fff" stroke="none" stroke-width="0.0" />
<path d="M304.1 963.5 L297.4 965.7 L290.7 967.2 L284.1 968.0 L277.6 968.2 L271.3 967.6 L265.1 966.4 L259.3 964.4 L253.7 961.8 L248.5 958.6 L243.7 954.7 L239.2 950.2 L235.1 945.2 L231.6 939.6 L228.4 933.5 L225.8 926.9 L223.7 919.9 L222.1 912.5 L221.1 904.8 L220.6 896.8 L220.6 888.6 L221.2 880.3 L222.3 871.8 L224.0 863.2 L226.2 854.7 L228.9 846.2 L232.1 837.8 L235.8 829.6 L239.9 821.5 L244.4 813.8 L249.3 806.4 L254.6 799.3 L260.2 792.7 L266.1 786.5 L272.3 780.9 L278.6 775.7 L285.1 771.2 L291.7 767.2 L298.5 763.9 L305.2 761.2 L311.9 759.1 L318.6 757.8 L325.2 757.2 L331.7 757.2 L337.9 757.9 L344.0 759.4 L349.7 761.5 L355.2 764.2 L360.4 767.6" fill="none" stroke="#333333" stroke-width="1.12" />
<path d="M305.2 963.1 L299.1 965.1 L293.1 966.4 L287.1 967.1 L281.3 967.1 L275.6 966.5 L270.2 965.3 L264.9 963.4 L260.0 960.9 L255.4 957.8 L251.1 954.1 L247.1 949.8 L243.6 945.0 L240.4 939.6 L237.7 933.8 L235.4 927.6 L233.6 920.9 L232.2 913.9 L231.4 906.6 L231.0 899.0 L231.1 891.2 L231.7 883.2 L232.7 875.1 L234.3 867.0 L236.3 858.8 L238.8 850.6 L241.7 842.5 L245.0 834.6 L248.7 826.8 L252.8 819.3 L257.2 812.0 L262.0 805.1 L267.1 798.5 L272.4 792.4 L277.9 786.7 L283.7 781.5 L289.6 776.8 L295.6 772.6 L301.7 769.0 L307.8 766.0 L313.9 763.7 L320.0 761.9 L326.1 760.8 L332.0 760.3 L337.8 760.5 L343.4 761.4 L348.7 762.9 L353.8 765.0 L358.7 767.7 Z" fill="#fff" stroke="none" stroke-width="0.0" />
<path d="M305.2 963.1 L299.1 965.1 L293.1 966.4 L287.1 967.1 L281.3 967.1 L275.6 966.5 L270.2 965.3 L264.9 963.4 L260.0 960.9 L255.4 957.8 L251.1 954.1 L247.1 949.8 L243.6 945.0 L240.4 939.6 L237.7 933.8 L235.4 927.6 L233.6 920.9 L232.2 913.9 L231.4 906.6 L231.0 899.0 L231.1 891.2 L231.7 883.2 L232.7 875.1 L234.3 867.0 L236.3 858.8 L238.8 850.6 L241.7 842.5 L245.0 834.6 L248.7 826.8 L252.8 819.3 L257.2 812.0 L262.0 805.1 L267.1 798.5 L272.4 792.4 L277.9 786.7 L283.7 781.5 L289.6 776.8 L295.6 772.6 L301.7 769.0 L307.8 766.0 L313.9 763.7 L320.0 761.9 L326.1 760.8 L332.0 760.3 L337.8 760.5 L343.4 761.4 L348.7 762.9 L353.8 765.0 L358.7 767.7" fill="none" stroke="#333333" stroke-width="1.12" />
<path d="M306.8 962.7 L301.3 964.5 L295.9 965.6 L290.6 966.2 L285.4 966.2 L280.3 965.5 L275.5 964.3 L270.9 962.4 L266.6 960.0 L262.5 957.0 L258.7 953.4 L255.3 949.3 L252.2 944.7 L249.5 939.6 L247.1 934.1 L245.2 928.2 L243.6 921.9 L242.5 915.2 L241.8 908.3 L241.5 901.0 L241.7 893.6 L242.2 886.0 L243.2 878.3 L244.7 870.4 L246.5 862.6 L248.7 854.8 L251.4 847.0 L254.4 839.3 L257.7 831.8 L261.4 824.5 L265.4 817.4 L269.6 810.6 L274.2 804.2 L278.9 798.1 L283.9 792.4 L289.1 787.1 L294.4 782.3 L299.8 778.0 L305.2 774.2 L310.8 771.0 L316.3 768.3 L321.9 766.2 L327.3 764.7 L332.7 763.8 L338.0 763.5 L343.1 763.8 L348.1 764.7 L352.8 766.2 L357.3 768.4 Z" fill="#fff" stroke="none" stroke-width="0.0" />
<path d="M306.8 962.7 L301.3 964.5 L295.9 965.6 L290.6 966.2 L285.4 966.2 L280.3 965.5 L275.5 964.3 L270.9 962.4 L266.6 960.0 L262.5 957.0 L258.7 953.4 L255.3 949.3 L252.2 944.7 L249.5 939.6 L247.1 934.1 L245.2 928.2 L243.6 921.9 L242.5 915.2 L241.8 908.3 L241.5 901.0 L241.7 893.6 L242.2 886.0 L243.2 878.3 L244.7 870.4 L246.5 862.6 L248.7 854.8 L251.4 847.0 L254.4 839.3 L257.7 831.8 L261.4 824.5 L265.4 817.4 L269.6 810.6 L274.2 804.2 L278.9 798.1 L283.9 792.4 L289.1 787.1 L294.4 782.3 L299.8 778.0 L305.2 774.2 L310.8 771.0 L316.3 768.3 L321.9 766.2 L327.3 764.7 L332.7 763.8 L338.0 763.5 L343.1 763.8 L348.1 764.7 L352.8 766.2 L357.3 768.4" fill="none" stroke="#333333" stroke-width="1.12" />
<ellipse cx="317.8" cy="866" rx="58.3" ry="103.9" fill="#fff" stroke="#333333" stroke-width="1.12" transform="rotate(20.6 317.8 866)"/>
<ellipse cx="321.5" cy="868.5" rx="50.5" ry="91" fill="none" stroke="#333333" stroke-width="1.12" transform="rotate(22 321.5 868.5)"/>
<ellipse cx="311" cy="871.9" rx="33.1" ry="55.8" fill="#fff" stroke="#333333" stroke-width="1.12" transform="rotate(30.2 311 871.9)"/>
<ellipse cx="312" cy="872.2" rx="31.2" ry="53.4" fill="none" stroke="#333333" stroke-width="1.12" transform="rotate(30.2 312 872.2)"/>
<ellipse cx="313.5" cy="872.6" rx="28.6" ry="50" fill="none" stroke="#333333" stroke-width="1.12" transform="rotate(30.2 313.5 872.6)"/>
<path d="M327 829 C336 850 322 895 292 914" fill="none" stroke="#333333" stroke-width="1.01" />
<path d="M331.5 834 C339 855 326 893 300 913" fill="none" stroke="#333333" stroke-width="1.01" />
<path d="M313 833 C318 845 314 860 308 868 M300 885 C295 889 288 891 281 891 M322 882 C314 898 298 907 283 906" fill="none" stroke="#333333" stroke-width="0.9" />
<path d="M298.8 847.4 L326.2 861.1 L310.8 890.2 L290.2 877.3 Q283 862 298.8 847.4 Z" fill="#fff" stroke="#333333" stroke-width="1.12" />
<ellipse cx="318.5" cy="875.6" rx="10.5" ry="15.5" fill="#fff" stroke="#333333" stroke-width="1.34" transform="rotate(25 318.5 875.6)"/>
<ellipse cx="319" cy="876" rx="6" ry="9.2" fill="none" stroke="#333333" stroke-width="1.79" transform="rotate(25 319 876)"/>
<path d="M322.0 878.0 L395.0 919.2" fill="none" stroke="#505050" stroke-width="0.95" stroke-dasharray="4.5 3.5" stroke-linecap="butt" />
<path d="M147.6 775.5 L207.5 809.4" fill="none" stroke="#505050" stroke-width="0.95" stroke-dasharray="4.5 3.5" stroke-linecap="butt" />
<path d="M216.0 959.1 L229.4 959.1 L229.4 921.0" fill="none" stroke="#333333" stroke-width="1.12" />
<path d="M234.5 1001.0 L247.4 1001.0 L247.4 975.0" fill="none" stroke="#333333" stroke-width="1.12" />
<path d="M604 899.5 L380 953.5 Q375.5 954.5 373.5 959 L327 1056 Q325 1060.5 320 1062 L211 1096 Q206 1097.5 203 1101.5 L181.5 1129 Q177.5 1134.5 181.5 1140 L186.5 1146 Q190 1149.5 195.5 1149 L206 1148 L520.5 1018.5 Q524 1017 527 1014 L626 922.5 Q629.5 919 629.5 914 Q630.5 905 623 902.5 Q614 898 604 899.5 Z" fill="none" stroke="#333333" stroke-width="4.6" stroke-linejoin="round"/>
<path d="M604 899.5 L380 953.5 Q375.5 954.5 373.5 959 L327 1056 Q325 1060.5 320 1062 L211 1096 Q206 1097.5 203 1101.5 L181.5 1129 Q177.5 1134.5 181.5 1140 L186.5 1146 Q190 1149.5 195.5 1149 L206 1148 L520.5 1018.5 Q524 1017 527 1014 L626 922.5 Q629.5 919 629.5 914 Q630.5 905 623 902.5 Q614 898 604 899.5 Z" fill="none" stroke="#fff" stroke-width="2.3" stroke-linejoin="round"/>
<path d="M497.2 985.5 L558.7 985.5" fill="none" stroke="#333333" stroke-width="1.12" />
<path d="M448.6 697.0 L448.6 840.5" fill="none" stroke="#505050" stroke-width="0.95" stroke-dasharray="4.5 3.5" stroke-linecap="butt" />
<path d="M543.2 718.1 L551.2 722.5 L612.0 690.0" fill="none" stroke="#505050" stroke-width="0.95" stroke-dasharray="4.5 3.5" stroke-linecap="butt" />
<path d="M521.0 825.4 L549.4 809.5" fill="none" stroke="#505050" stroke-width="0.95" stroke-dasharray="4.5 3.5" stroke-linecap="butt" />
<path d="M521.0 825.4 L544.1 837.9" fill="none" stroke="#505050" stroke-width="0.95" stroke-dasharray="4.5 3.5" stroke-linecap="butt" />
<path d="M676.6 643.0 L676.6 752.2 L874.3 752.2 L874.3 838.0" fill="none" stroke="#505050" stroke-width="0.95" stroke-dasharray="4.5 3.5" stroke-linecap="butt" />
<path d="M814.8 669.3 L824.2 674.4" fill="none" stroke="#505050" stroke-width="0.95" stroke-dasharray="4.5 3.5" stroke-linecap="butt" />
<path d="M679.7 718.0 L707.1 733.4" fill="none" stroke="#505050" stroke-width="0.95" stroke-dasharray="4.5 3.5" stroke-linecap="butt" />
<path d="M689.1 865.3 L689.1 988.4" fill="none" stroke="#505050" stroke-width="0.95" stroke-dasharray="4.5 3.5" stroke-linecap="butt" />
<path d="M446.1 675.8 L446.1 695.8 L450.5 695.8 L450.5 675.8 Z" fill="#fff" stroke="#333333" stroke-width="1.12" />
<path d="M446.1 681.1 L450.5 679.9" fill="none" stroke="#333333" stroke-width="1.01" />
<path d="M446.1 682.9 L450.5 681.7" fill="none" stroke="#333333" stroke-width="1.01" />
<path d="M446.1 684.7 L450.5 683.5" fill="none" stroke="#333333" stroke-width="1.01" />
<path d="M446.1 686.5 L450.5 685.3" fill="none" stroke="#333333" stroke-width="1.01" />
<path d="M446.1 688.3 L450.5 687.1" fill="none" stroke="#333333" stroke-width="1.01" />
<path d="M446.1 690.1 L450.5 688.9" fill="none" stroke="#333333" stroke-width="1.01" />
<path d="M446.1 691.9 L450.5 690.7" fill="none" stroke="#333333" stroke-width="1.01" />
<path d="M446.1 693.7 L450.5 692.5" fill="none" stroke="#333333" stroke-width="1.01" />
<path d="M446.1 695.5 L450.5 694.3" fill="none" stroke="#333333" stroke-width="1.01" />
<path d="M443.3 675.8 L443.3 669.0 L444.8 668.2 Q448.3 667.0 451.8 668.2 L453.3 669.0 L453.3 675.8 Z" fill="#fff" stroke="#333333" stroke-width="1.34" />
<path d="M446.6 668.5 L446.6 675.8" fill="none" stroke="#333333" stroke-width="0.9" />
<path d="M450.1 668.5 L450.1 675.8" fill="none" stroke="#333333" stroke-width="0.9" />
<path d="M427.0 684.7 L446.5 684.7" fill="none" stroke="#333333" stroke-width="1.12" />
<ellipse cx="448.3" cy="710.6" rx="7" ry="4.2" fill="#fff" stroke="#333333" stroke-width="1.12"/>
<ellipse cx="448.3" cy="709.6" rx="7" ry="4.2" fill="#fff" stroke="#333333" stroke-width="1.79"/>
<ellipse cx="448.3" cy="709.6" rx="3" ry="1.8" fill="#888" stroke="#333333" stroke-width="1.34"/>
<path d="M422.5 711.0 L441.2 711.0" fill="none" stroke="#333333" stroke-width="1.12" />
<path d="M435.8 727.8 L448.3 719.9 L462.4 728.7 L450 735.8 Z" fill="#fff" stroke="#333333" stroke-width="1.79" />
<path d="M478.4 703.9 L491.7 695.5 L506.5 703 L490.8 714.5 Z" fill="#fff" stroke="#333333" stroke-width="1.79" />
<path d="M453.6 720.9 Q462 707.5 475 709.5 L478.4 703.9 L490.8 714.5 L489 718.5 Q476 720 466 731.4 L462.4 728.7 Z" fill="#fff" stroke="#333333" stroke-width="1.46" />
<path d="M466 731.4 L470 733 Q478 723.5 489.5 721.5 L489 718.5" fill="none" stroke="#333333" stroke-width="1.34" />
<ellipse cx="448.6" cy="727.5" rx="2.2" ry="1.5" fill="none" stroke="#333333" stroke-width="1.01"/>
<ellipse cx="492.6" cy="702.5" rx="2.2" ry="1.5" fill="none" stroke="#333333" stroke-width="1.01"/>
<path d="M490 751.8 L506.5 758.9 L494.4 766.9 L493 782 Q488 803 471.3 808.6 Q462 808 450 790.8 L435.8 782.9 L448.3 775.2 L462.4 782.9 Z" fill="#fff" stroke="#333333" stroke-width="1.46" />
<path d="M490 751.8 L506.5 758.9 L494.4 766.9 L480 760 Z" fill="#fff" stroke="#333333" stroke-width="1.79" />
<ellipse cx="462.4" cy="755.4" rx="13" ry="21" fill="#fff" stroke="#333333" stroke-width="1.79" transform="rotate(12 462.4 755.4)"/>
<path d="M465 734.5 L481 738 L479 778.5 L460.5 776.5 Z" fill="#fff" stroke="none" stroke-width="0.0" />
<path d="M465.5 734.6 L480.5 737.6 M459.5 776.2 L474.5 778.8" fill="none" stroke="#333333" stroke-width="1.23" />
<ellipse cx="476.6" cy="758" rx="12.6" ry="20.4" fill="#fff" stroke="#333333" stroke-width="1.34" transform="rotate(12 476.6 758)"/>
<ellipse cx="478.5" cy="758.8" rx="9.6" ry="16" fill="#fff" stroke="#333333" stroke-width="1.12" transform="rotate(12 478.5 758.8)"/>
<ellipse cx="480.5" cy="760" rx="6.4" ry="10.6" fill="#fff" stroke="#333333" stroke-width="1.79" transform="rotate(12 480.5 760)"/>
<path d="M480 759.5 L486.5 763" fill="none" stroke="#333333" stroke-width="12" stroke-linecap="butt"/>
<path d="M480 759.5 L486.5 763" fill="none" stroke="#fff" stroke-width="9.76" stroke-linecap="butt"/>
<ellipse cx="486.8" cy="763.2" rx="4.4" ry="6.6" fill="#fff" stroke="#333333" stroke-width="1.79" transform="rotate(15 486.8 763.2)"/>
<ellipse cx="487.3" cy="763.5" rx="2.8" ry="4.6" fill="none" stroke="#333333" stroke-width="1.12" transform="rotate(15 487.3 763.5)"/>
<path d="M435.8 782.9 L448.3 775.2 L462.4 782.9 L450 790.8 Z" fill="#fff" stroke="#333333" stroke-width="1.79" />
<path d="M450 790.8 L462.4 782.9 L463 788 Q465 800 471.5 803.5 Q483 799 489.5 782 L490 770" fill="none" stroke="#333333" stroke-width="1.34" />
<path d="M450 790.8 Q460 806 471.3 808.6 Q488 803 493 782 L494.4 766.9" fill="none" stroke="#333333" stroke-width="1.46" />
<ellipse cx="448.6" cy="782.9" rx="2.2" ry="1.5" fill="none" stroke="#333333" stroke-width="1.01"/>
<ellipse cx="493.5" cy="757.1" rx="2.2" ry="1.5" fill="none" stroke="#333333" stroke-width="1.01"/>
<path d="M444.7 735.8 L438.1 758.9 L444.7 782" fill="none" stroke="#333333" stroke-width="0.9" />
<path d="M426.0 760.3 L450.0 760.3" fill="none" stroke="#333333" stroke-width="1.12" />
<ellipse cx="448.3" cy="818.8" rx="7" ry="4.4" fill="#fff" stroke="#333333" stroke-width="1.12"/>
<ellipse cx="448.3" cy="817.6" rx="7" ry="4.4" fill="#fff" stroke="#333333" stroke-width="1.79"/>
<ellipse cx="448.3" cy="817.6" rx="3" ry="1.9" fill="none" stroke="#333333" stroke-width="1.34"/>
<path d="M451.7 838.5 L449.6 842.7 L445.6 842.7 L443.5 838.5 L445.6 834.3 L449.6 834.3 Z" fill="#fff" stroke="#333333" stroke-width="1.46" />
<path d="M451.7 836.3 L451.7 838.5" fill="none" stroke="#333333" stroke-width="1.46" />
<path d="M449.6 840.5 L449.6 842.7" fill="none" stroke="#333333" stroke-width="1.46" />
<path d="M445.6 840.5 L445.6 842.7" fill="none" stroke="#333333" stroke-width="1.46" />
<path d="M443.5 836.3 L443.5 838.5" fill="none" stroke="#333333" stroke-width="1.46" />
<path d="M445.6 832.1 L445.6 834.3" fill="none" stroke="#333333" stroke-width="1.46" />
<path d="M449.6 832.1 L449.6 834.3" fill="none" stroke="#333333" stroke-width="1.46" />
<path d="M451.7 836.3 L449.6 840.5 L445.6 840.5 L443.5 836.3 L445.6 832.1 L449.6 832.1 Z" fill="#fff" stroke="#333333" stroke-width="1.46" />
<ellipse cx="447.6" cy="836.3" rx="2.16" ry="2.64" fill="none" stroke="#333333" stroke-width="1.9"/>
<path d="M522.4 694.4 Q527.0 695.6 530.6 698.3 Q532.4 701.6 531.4 705.3 Q530.5 708.3 523.6 711.6 L519.7 710.6 L515.4 707.3 L515.0 701.0 L517.7 697.0 Z" fill="#fff" stroke="#333333" stroke-width="1.12" />
<ellipse cx="525.392" cy="703.276" rx="5.704000000000001" ry="8.280000000000001" fill="none" stroke="#333333" stroke-width="1.12" transform="rotate(20 525.392 703.276)"/>
<path d="M515.0 701.0 L519.6 702.8 M517.7 697.0 L521.5 697.3 M515.4 707.3 L520.0 707.8" fill="none" stroke="#333333" stroke-width="1.01" />
<ellipse cx="525.392" cy="703.92" rx="3.3120000000000003" ry="4.968000000000001" fill="none" stroke="#333333" stroke-width="1.12" transform="rotate(20 525.392 703.92)"/>
<ellipse cx="525.3" cy="704.104" rx="1.9320000000000002" ry="3.036" fill="none" stroke="#555" stroke-width="1.46" transform="rotate(20 525.3 704.104)"/>
<ellipse cx="535.2" cy="713" rx="5.2" ry="7.2" fill="#fff" stroke="#333333" stroke-width="1.57" transform="rotate(25 535.2 713)"/>
<ellipse cx="536.3" cy="712.8" rx="5.2" ry="7.2" fill="#fff" stroke="#333333" stroke-width="2.02" transform="rotate(25 536.3 712.8)"/>
<ellipse cx="536.6" cy="713" rx="1.8" ry="2.6" fill="#777" stroke="#333333" stroke-width="1.34" transform="rotate(25 536.6 713)"/>
<path d="M479.5 613.0 L522.3 613.0 L522.3 695.0" fill="none" stroke="#333333" stroke-width="1.12" />
<path d="M549 706.5 C566 702 580 687 606.5 671.5" fill="none" stroke="#333333" stroke-width="4.2" stroke-linecap="butt"/>
<path d="M549 706.5 C566 702 580 687 606.5 671.5" fill="none" stroke="#fff" stroke-width="1.96" stroke-linecap="butt"/>
<ellipse cx="549" cy="706.5" rx="1.2" ry="2.1" fill="#fff" stroke="#333333" stroke-width="1.01" transform="rotate(-15 549 706.5)"/>
<path d="M605 672.5 L628 660" fill="none" stroke="#333333" stroke-width="6" stroke-linecap="butt"/>
<path d="M605 672.5 L628 660" fill="none" stroke="#fff" stroke-width="3.76" stroke-linecap="butt"/>
<path d="M611 665.5 L613.5 671 M617 662.5 L619.5 668 M622 660.5 L624 665.5" fill="none" stroke="#333333" stroke-width="1.12" />
<path d="M629.5 659.5 L648 649.5" fill="none" stroke="#4a4a4a" stroke-width="8.4" />
<path d="M629.5 659.5 L648 649.5" fill="none" stroke="#fff" stroke-width="5.6" stroke-dasharray="1.2 1.3" stroke-linecap="butt" />
<path d="M648 649.5 L653 646.5 Q657 643 654 641.5 Q650 641 649 644 M652 648.5 Q658 648 658.5 644.5" fill="none" stroke="#333333" stroke-width="1.79" />
<path d="M583.5 662.9 L614.7 662.9" fill="none" stroke="#333333" stroke-width="1.12" />
<path d="M613.9 705.2 L655.8 680.4 L669.5 672.7 L690 685.5 L662.6 702.6 L667.7 709.5 L637 726.6 Z" fill="#fff" stroke="#3a3a3a" stroke-width="1.23" stroke-dasharray="3 1.2" stroke-linecap="butt" />
<path d="M637 726.6 L667.7 709.5 L668.6 738.5 L637.8 755.6 Z" fill="#fff" stroke="#3a3a3a" stroke-width="1.23" stroke-dasharray="3 1.2" stroke-linecap="butt" />
<path d="M690 685.5 L690 706 L669.5 718 L667.7 709.5" fill="#fff" stroke="#3a3a3a" stroke-width="1.23" stroke-dasharray="3 1.2" stroke-linecap="butt" />
<path d="M669.5 718 L691.7 707.7 L702 714.6 L701.5 718 L678 730 L670.3 725.7 Z" fill="#fff" stroke="#3a3a3a" stroke-width="1.23" stroke-dasharray="3 1.2" stroke-linecap="butt" />
<path d="M626.5 679.5 L634 675 L636 681 L645.5 687.5 L647.5 690.5 L641 694.5 L638 690 L630 701.5 L626 699 Z" fill="#fff" stroke="#3a3a3a" stroke-width="1.23" stroke-dasharray="3 1.2" stroke-linecap="butt" />
<path d="M655.5 660 L660.5 658 L667 664.5 L668 676.5 L657 679.5 L655 672.5 Z" fill="#fff" stroke="#3a3a3a" stroke-width="1.23" stroke-dasharray="3 1.2" stroke-linecap="butt" />
<path d="M656 697 L662.5 694.5 L666 703" fill="none" stroke="#3a3a3a" stroke-width="1.23" stroke-dasharray="3 1.2" stroke-linecap="butt" />
<path d="M640 729 L639.5 753.5" fill="none" stroke="#3a3a3a" stroke-width="1.23" stroke-dasharray="3 1.2" stroke-linecap="butt" />
<ellipse cx="656.6" cy="727.4" rx="1.6" ry="2.1" fill="none" stroke="#3a3a3a" stroke-width="1.23"/>
<ellipse cx="643.3" cy="747.1" rx="2.2" ry="3" fill="none" stroke="#3a3a3a" stroke-width="1.23"/>
<path d="M628 681 L636 677 L637 686 L629 690 Z M633 690 L641 686 L642 696 M656 662 L664 660 L665 672 L657 675 Z M660 676 L668 674" fill="none" stroke="#3a3a3a" stroke-width="1.23" stroke-dasharray="3 1.2" stroke-linecap="butt" />
<path d="M616 706 L624 712 L650 697 M624 712 L637 726.6 M690 690 L672 701 M655.8 680.4 L662 686" fill="none" stroke="#3a3a3a" stroke-width="1.23" stroke-dasharray="3 1.2" stroke-linecap="butt" />
<ellipse cx="632.5" cy="684" rx="1.6" ry="2" fill="none" stroke="#333333" stroke-width="1.12"/>
<ellipse cx="660.5" cy="667" rx="1.6" ry="2" fill="none" stroke="#333333" stroke-width="1.12"/>
<ellipse cx="646" cy="692" rx="1.2" ry="1.5" fill="none" stroke="#333333" stroke-width="1.01"/>
<path d="M640 700 L652 694 M626 699 L634 703 M646 686 L652 690" fill="none" stroke="#444" stroke-width="1.46" />
<path d="M675 720 L680 718 L680 723" fill="none" stroke="#333333" stroke-width="1.46" />
<path d="M674.3 623.2 L674.3 642.2 L678.9 642.2 L678.9 623.2 Z" fill="#fff" stroke="#333333" stroke-width="1.12" />
<path d="M674.3 628.7 L678.9 627.5" fill="none" stroke="#333333" stroke-width="1.01" />
<path d="M674.3 630.6 L678.9 629.4" fill="none" stroke="#333333" stroke-width="1.01" />
<path d="M674.3 632.5 L678.9 631.3" fill="none" stroke="#333333" stroke-width="1.01" />
<path d="M674.3 634.4 L678.9 633.2" fill="none" stroke="#333333" stroke-width="1.01" />
<path d="M674.3 636.3 L678.9 635.1" fill="none" stroke="#333333" stroke-width="1.01" />
<path d="M674.3 638.1 L678.9 636.9" fill="none" stroke="#333333" stroke-width="1.01" />
<path d="M674.3 640.0 L678.9 638.8" fill="none" stroke="#333333" stroke-width="1.01" />
<path d="M674.3 641.9 L678.9 640.7" fill="none" stroke="#333333" stroke-width="1.01" />
<path d="M671.3 623.2 L671.3 616.5 L672.9 615.8 Q676.6 614.5 680.3 615.8 L681.9 616.5 L681.9 623.2 Z" fill="#fff" stroke="#333333" stroke-width="1.34" />
<path d="M674.7 616.0 L674.7 623.2" fill="none" stroke="#333333" stroke-width="0.9" />
<path d="M678.5 616.0 L678.5 623.2" fill="none" stroke="#333333" stroke-width="0.9" />
<path d="M680.6 627.7 L702.8 627.7" fill="none" stroke="#333333" stroke-width="1.12" />
<path d="M775.2 636.2 Q779.8 637.4 783.4 640.1 Q785.2 643.4 784.2 647.1 Q783.3 650.1 776.4 653.4 L772.5 652.4 L768.2 649.1 L767.8 642.8 L770.5 638.8 Z" fill="#fff" stroke="#333333" stroke-width="1.12" />
<ellipse cx="778.192" cy="645.0759999999999" rx="5.704000000000001" ry="8.280000000000001" fill="none" stroke="#333333" stroke-width="1.12" transform="rotate(20 778.192 645.0759999999999)"/>
<path d="M767.8 642.8 L772.4 644.6 M770.5 638.8 L774.3 639.1 M768.2 649.1 L772.8 649.6" fill="none" stroke="#333333" stroke-width="1.01" />
<ellipse cx="778.192" cy="645.7199999999999" rx="3.3120000000000003" ry="4.968000000000001" fill="none" stroke="#333333" stroke-width="1.12" transform="rotate(20 778.192 645.7199999999999)"/>
<ellipse cx="778.0999999999999" cy="645.904" rx="1.9320000000000002" ry="3.036" fill="none" stroke="#555" stroke-width="1.46" transform="rotate(20 778.0999999999999 645.904)"/>
<ellipse cx="789.6" cy="654.2" rx="5.2" ry="7.4" fill="#fff" stroke="#333333" stroke-width="1.57" transform="rotate(25 789.6 654.2)"/>
<ellipse cx="790.7" cy="653.9" rx="5.2" ry="7.4" fill="#fff" stroke="#333333" stroke-width="2.24" transform="rotate(25 790.7 653.9)"/>
<ellipse cx="791" cy="654.2" rx="1.8" ry="2.6" fill="#777" stroke="#333333" stroke-width="1.34" transform="rotate(25 791 654.2)"/>
<path d="M819.0 604.8 L792.6 604.8 L792.6 648.5" fill="none" stroke="#333333" stroke-width="1.12" />
<path d="M797.5 659.3 L804.0 662.75" fill="none" stroke="#333333" stroke-width="4.2" stroke-linecap="butt"/>
<path d="M797.5 659.3 L804.0 662.75" fill="none" stroke="#fff" stroke-width="1.96" stroke-linecap="butt"/>
<ellipse cx="797.5" cy="659.3" rx="1.2" ry="2.1" fill="#fff" stroke="#333333" stroke-width="1.01" transform="rotate(25 797.5 659.3)"/>
<ellipse cx="804.6500000000001" cy="663.095" rx="2" ry="4" fill="#fff" stroke="#333333" stroke-width="1.46" transform="rotate(25 804.6500000000001 663.095)"/>
<ellipse cx="810.5" cy="666.2" rx="4.3" ry="4.6" fill="#fff" stroke="#333333" stroke-width="1.12"/>
<path d="M709.3 735.3 L715.65 738.75" fill="none" stroke="#333333" stroke-width="4.2" stroke-linecap="butt"/>
<path d="M709.3 735.3 L715.65 738.75" fill="none" stroke="#fff" stroke-width="1.96" stroke-linecap="butt"/>
<ellipse cx="709.3" cy="735.3" rx="1.2" ry="2.1" fill="#fff" stroke="#333333" stroke-width="1.01" transform="rotate(25 709.3 735.3)"/>
<ellipse cx="716.2850000000001" cy="739.095" rx="2" ry="4" fill="#fff" stroke="#333333" stroke-width="1.46" transform="rotate(25 716.2850000000001 739.095)"/>
<ellipse cx="722" cy="742.2" rx="4.3" ry="4.6" fill="#fff" stroke="#333333" stroke-width="1.12"/>
<path d="M720.4 746.0 L720.4 793.3 L759.0 793.3" fill="none" stroke="#333333" stroke-width="1.12" />
<path d="M824 683.5 L806 696" fill="none" stroke="#333333" stroke-width="3.6" stroke-linecap="butt"/>
<path d="M824 683.5 L806 696" fill="none" stroke="#fff" stroke-width="1.3599999999999999" stroke-linecap="butt"/>
<path d="M817.4 680 L826.5 672.7 L832.8 677.5 L832.5 681 L823.5 688 L817.4 684 Z" fill="#fff" stroke="#333333" stroke-width="1.23" />
<path d="M817.4 680 L823.5 684.5 L832.8 677.5 M823.5 684.5 L823.5 688" fill="none" stroke="#333333" stroke-width="1.01" />
<path d="M805.5 696 L744 747" fill="none" stroke="#333333" stroke-width="10.6" stroke-linecap="butt"/>
<path d="M805.5 696 L744 747" fill="none" stroke="#fff" stroke-width="8.36" stroke-linecap="butt"/>
<path d="M798.5 696 L805.5 704.5" fill="none" stroke="#333333" stroke-width="1.12" />
<path d="M729.3 751.5 L739 743 L748.1 749 L748 753.5 L738 760 L729.5 755.5 Z" fill="#fff" stroke="#333333" stroke-width="1.23" />
<path d="M729.3 751.5 L738.5 756 L748.1 749 M738.5 756 L738 760" fill="none" stroke="#333333" stroke-width="1.01" />
<path d="M741 744.5 Q746 748 745.5 752" fill="none" stroke="#333333" stroke-width="1.01" />
<rect x="731" y="752.6" width="5.5" height="2.4" rx="1.2" fill="none" stroke="#333333" stroke-width="0.8" transform="rotate(25 733.7 753.8)"/>
<path d="M756.7 745.0 L803.0 745.0" fill="none" stroke="#333333" stroke-width="1.12" />
<path d="M561.7 812.2 L585.7 799.4 L589.9 802.8 L585.7 806.2 L585.7 827.6 L588.2 830.2 L570.3 841.3 L561.7 837 Z" fill="#fff" stroke="#333333" stroke-width="1.34" />
<path d="M561.7 812.2 L566 815.5 L585.7 806.2 M566 815.5 L566 833.5 L570.3 841.3 M566 833.5 L585.7 823.5" fill="none" stroke="#333333" stroke-width="1.12" />
<ellipse cx="573.2" cy="820.2" rx="4.6" ry="6" fill="none" stroke="#333333" stroke-width="1.12" transform="rotate(20 573.2 820.2)"/>
<path d="M574 809.5 Q578 808.5 580 806.2 M572.5 833 Q577 832 580 829" fill="none" stroke="#333333" stroke-width="1.01" />
<path d="M589.5 803.5 L601.5 803.5" fill="none" stroke="#333333" stroke-width="1.12" />
<path d="M593 832.5 L681 884.5" fill="none" stroke="#333333" stroke-width="10" stroke-linecap="butt"/>
<path d="M593 832.5 L681 884.5" fill="none" stroke="#fff" stroke-width="7.76" stroke-linecap="butt"/>
<ellipse cx="593.2" cy="832.7" rx="2.9" ry="4.7" fill="#fff" stroke="#333333" stroke-width="1.57" transform="rotate(30 593.2 832.7)"/>
<path d="M597 829.5 L592.5 838 M599 830.8 L594.6 839.2" fill="none" stroke="#333333" stroke-width="1.57" />
<path d="M643 856.5 Q640 860 639 865 M670.5 872.5 Q667.5 876.5 666.5 881.5" fill="none" stroke="#333333" stroke-width="1.01" />
<path d="M593.0 870.4 L644.5 870.4" fill="none" stroke="#333333" stroke-width="1.12" />
<path d="M686.9 844.8 L686.9 863.8 L691.3 863.8 L691.3 844.8 Z" fill="#fff" stroke="#333333" stroke-width="1.12" />
<path d="M686.9 850.2 L691.3 849.0" fill="none" stroke="#333333" stroke-width="1.01" />
<path d="M686.9 852.1 L691.3 850.9" fill="none" stroke="#333333" stroke-width="1.01" />
<path d="M686.9 854.0 L691.3 852.8" fill="none" stroke="#333333" stroke-width="1.01" />
<path d="M686.9 855.9 L691.3 854.7" fill="none" stroke="#333333" stroke-width="1.01" />
<path d="M686.9 857.8 L691.3 856.6" fill="none" stroke="#333333" stroke-width="1.01" />
<path d="M686.9 859.6 L691.3 858.4" fill="none" stroke="#333333" stroke-width="1.01" />
<path d="M686.9 861.5 L691.3 860.3" fill="none" stroke="#333333" stroke-width="1.01" />
<path d="M686.9 863.4 L691.3 862.2" fill="none" stroke="#333333" stroke-width="1.01" />
<path d="M684.1 844.8 L684.1 838.0 L685.6 837.2 Q689.1 836.0 692.6 837.2 L694.1 838.0 L694.1 844.8 Z" fill="#fff" stroke="#333333" stroke-width="1.34" />
<path d="M687.4 837.5 L687.4 844.8" fill="none" stroke="#333333" stroke-width="0.9" />
<path d="M690.9 837.5 L690.9 844.8" fill="none" stroke="#333333" stroke-width="0.9" />
<path d="M695.1 840.5 L712.0 840.5" fill="none" stroke="#333333" stroke-width="1.12" />
<path d="M693.0 994.7 L691.1 998.7 L687.1 998.7 L685.2 994.7 L687.1 990.7 L691.1 990.7 Z" fill="#fff" stroke="#333333" stroke-width="1.34" />
<path d="M693.0 992.7 L693.0 994.7" fill="none" stroke="#333333" stroke-width="1.34" />
<path d="M691.1 996.7 L691.1 998.7" fill="none" stroke="#333333" stroke-width="1.34" />
<path d="M687.1 996.7 L687.1 998.7" fill="none" stroke="#333333" stroke-width="1.34" />
<path d="M685.2 992.7 L685.2 994.7" fill="none" stroke="#333333" stroke-width="1.34" />
<path d="M687.1 988.7 L687.1 990.7" fill="none" stroke="#333333" stroke-width="1.34" />
<path d="M691.1 988.7 L691.1 990.7" fill="none" stroke="#333333" stroke-width="1.34" />
<path d="M693.0 992.7 L691.1 996.7 L687.1 996.7 L685.2 992.7 L687.1 988.7 L691.1 988.7 Z" fill="#fff" stroke="#333333" stroke-width="1.34" />
<ellipse cx="689.1" cy="992.7" rx="2.07" ry="2.53" fill="none" stroke="#333333" stroke-width="1.79"/>
<path d="M662.5 993.5 L684.5 993.5" fill="none" stroke="#333333" stroke-width="1.12" />
<path d="M751.3 1040.0 L829.7 995.0" fill="none" stroke="#505050" stroke-width="0.95" stroke-dasharray="4.5 3.5" stroke-linecap="butt" />
<path d="M786.1 1034.2 L836.9 1008.0" fill="none" stroke="#505050" stroke-width="0.95" stroke-dasharray="4.5 3.5" stroke-linecap="butt" />
<path d="M874.3 812.0 L874.3 830.0" fill="none" stroke="#505050" stroke-width="1.01" stroke-dasharray="4.5 3.5" stroke-linecap="butt" />
<path d="M 673.0 890.6 Q 675.0 876.5 688.1 871.5 L 697.2 874.5 L 712.9 875.5 L 722.8 875.5 L 737.5 887.6 L 788.9 910.8 L 801.0 898.7 L 817.1 880.6 L 829.2 878.5 L 831.3 870.5 L 823.2 855.4 L 827.2 840.2 L 837.3 834.2 L 869.6 825.1 L 901.8 834.2 L 916.9 853.3 L 911.9 871.5 L 899.8 879.5 L 917.9 886.6 L 940.1 888.6 L 941.1 949.1 L 932.0 965.2 L 911.9 981.3 L 914.9 1001.5 L 917.9 1019.6 L 907.9 1023.7 L 895.8 1026.7 L 878.6 1026.7 L 868.5 1019.6 L 855.0 1015.6 L 845.4 1007.5 L 835.3 1021.7 L 811.1 1028.7 L 799.0 1023.7 L 776.8 1003.5 L 774.8 985.4 L 779.9 971.3 L 774.8 959.2 L 686.1 904.7 Z" fill="#fff" stroke="none" stroke-width="0.0" />
<path d="M 673.0 890.6 Q 675.0 876.5 688.1 871.5 Q 694.2 869.5 697.2 874.5 L 703.3 881.0" fill="#fff" stroke="#2b2b2b" stroke-width="1.46" />
<path d="M 672.0 891.2 L 686.1 903.9" fill="none" stroke="#2b2b2b" stroke-width="2.91" />
<ellipse cx="682.1" cy="880.1" rx="1.61" ry="2.62" fill="none" stroke="#2b2b2b" stroke-width="1.34" transform="rotate(30 682.1 880.1)"/>
<ellipse cx="688.5" cy="873.1" rx="1.61" ry="1.01" fill="none" stroke="#2b2b2b" stroke-width="1.12"/>
<ellipse cx="693.6" cy="871.1" rx="1.61" ry="1.01" fill="none" stroke="#2b2b2b" stroke-width="1.12"/>
<path d="M 697.2 874.5 Q 700.2 884.6 694.2 892.6" fill="none" stroke="#2b2b2b" stroke-width="1.12" />
<path d="M 712.9 875.5 L 712.9 896.7 Q 717.9 899.1 722.8 896.7 L 722.8 875.5" fill="#fff" stroke="#2b2b2b" stroke-width="1.34" />
<ellipse cx="717.9" cy="875.5" rx="4.94" ry="2.47" fill="#fff" stroke="#2b2b2b" stroke-width="1.34"/>
<ellipse cx="717.9" cy="875.5" rx="2.47" ry="1.23" fill="none" stroke="#2b2b2b" stroke-width="1.12"/>
<path d="M 723.4 886.2 L 723.4 901.7 Q 726.9 904.1 730.5 901.7 L 730.5 886.2" fill="#fff" stroke="#2b2b2b" stroke-width="1.34" />
<ellipse cx="726.9" cy="886.2" rx="3.53" ry="1.76" fill="#fff" stroke="#2b2b2b" stroke-width="1.34"/>
<ellipse cx="726.9" cy="886.2" rx="1.76" ry="0.88" fill="none" stroke="#2b2b2b" stroke-width="1.12"/>
<path d="M 730.1 888.2 L 730.1 902.3 Q 733.8 904.7 737.5 902.3 L 737.5 888.2" fill="#fff" stroke="#2b2b2b" stroke-width="1.34" />
<ellipse cx="733.8" cy="888.2" rx="3.73" ry="1.86" fill="#fff" stroke="#2b2b2b" stroke-width="1.34"/>
<ellipse cx="733.8" cy="888.2" rx="1.86" ry="0.93" fill="none" stroke="#2b2b2b" stroke-width="1.12"/>
<path d="M 697.2 883.6 L 712.9 879.5 M 722.8 880.6 L 730.5 884.6 M 700.2 889.6 L 712.9 890.6 L 718.4 896.7 L 722.8 895.7" fill="none" stroke="#2b2b2b" stroke-width="1.34" />
<path d="M 703.3 881.0 L 709.3 894.7 M 694.2 892.6 L 701.8 897.1" fill="none" stroke="#2b2b2b" stroke-width="1.23" />
<path d="M 685.1 891.6 L 685.1 919.9 Q 689.5 922.3 693.8 919.9 L 693.8 891.6" fill="#fff" stroke="#2b2b2b" stroke-width="1.34" />
<ellipse cx="689.5" cy="891.6" rx="4.33" ry="2.17" fill="#fff" stroke="#2b2b2b" stroke-width="1.34"/>
<ellipse cx="689.5" cy="891.6" rx="2.17" ry="1.08" fill="none" stroke="#2b2b2b" stroke-width="1.12"/>
<path d="M 685.1 906.8 Q 689.5 908.8 693.8 906.8" fill="none" stroke="#2b2b2b" stroke-width="1.12" />
<path d="M 701.8 897.7 L 701.8 928.9 Q 706.1 931.3 710.3 928.9 L 710.3 897.7" fill="#fff" stroke="#2b2b2b" stroke-width="1.34" />
<ellipse cx="706.1" cy="897.7" rx="4.23" ry="2.12" fill="#fff" stroke="#2b2b2b" stroke-width="1.34"/>
<ellipse cx="706.1" cy="897.7" rx="2.12" ry="1.06" fill="none" stroke="#2b2b2b" stroke-width="1.12"/>
<path d="M 701.8 913.8 Q 706.1 915.8 710.3 913.8" fill="none" stroke="#2b2b2b" stroke-width="1.12" />
<path d="M 710.3 899.7 L 710.3 927.9 Q 714.3 930.3 718.4 927.9 L 718.4 899.7" fill="#fff" stroke="#2b2b2b" stroke-width="1.34" />
<ellipse cx="714.3" cy="899.7" rx="4.03" ry="2.02" fill="#fff" stroke="#2b2b2b" stroke-width="1.34"/>
<ellipse cx="714.3" cy="899.7" rx="2.02" ry="1.01" fill="none" stroke="#2b2b2b" stroke-width="1.12"/>
<path d="M 710.3 914.8 Q 714.3 916.8 718.4 914.8" fill="none" stroke="#2b2b2b" stroke-width="1.12" />
<path d="M 693.8 895.7 L 701.8 899.7 M 693.8 914.8 L 701.8 919.9 M 693.8 904.7 L 701.8 909.2" fill="none" stroke="#2b2b2b" stroke-width="1.34" />
<path d="M 735.5 904.3 L 735.5 909.8 Q 739.5 912.2 743.6 909.8 L 743.6 904.3" fill="#fff" stroke="#2b2b2b" stroke-width="1.34" />
<ellipse cx="739.5" cy="904.3" rx="4.03" ry="2.02" fill="#fff" stroke="#2b2b2b" stroke-width="1.34"/>
<ellipse cx="739.5" cy="904.3" rx="2.02" ry="1.01" fill="none" stroke="#2b2b2b" stroke-width="1.12"/>
<path d="M 718.4 898.7 L 795.0 939.0" fill="none" stroke="#2b2b2b" stroke-width="1.46" />
<path d="M 737.5 905.7 Q 764.7 904.7 788.9 912.8" fill="none" stroke="#2b2b2b" stroke-width="1.68" />
<path d="M 743.6 909.2 Q 766.8 908.8 786.9 916.8" fill="none" stroke="#2b2b2b" stroke-width="1.23" />
<path d="M 728.5 904.7 L 782.9 935.0" fill="none" stroke="#2b2b2b" stroke-width="1.23" />
<path d="M 686.1 904.7 L 774.8 959.2 Q 779.9 963.2 779.9 971.3" fill="none" stroke="#2b2b2b" stroke-width="2.46" />
<path d="M 688.1 902.7 L 776.4 956.7" fill="none" stroke="#2b2b2b" stroke-width="1.34" />
<path d="M 730.5 904.7 Q 726.4 914.8 728.5 925.9 M 782.9 933.0 Q 776.8 943.0 778.8 955.5 M 790.9 936.6 Q 785.9 947.1 788.5 958.2" fill="none" stroke="#2b2b2b" stroke-width="1.12" />
<path d="M 761.7 913.2 L 782.9 920.5" fill="none" stroke="#444" stroke-width="3.81" stroke-dasharray="0.9 1.1" stroke-linecap="butt" />
<path d="M 760.3 915.2 L 781.9 922.5" fill="none" stroke="#2b2b2b" stroke-width="1.12" />
<path d="M 788.9 912.8 Q 793.0 900.7 809.1 895.7 L 816.1 880.6 Q 823.2 875.5 830.2 879.5 L 831.3 894.7 L 843.4 910.8 L 837.3 914.8" fill="#fff" stroke="#2b2b2b" stroke-width="1.57" />
<path d="M 809.1 895.7 Q 823.2 898.7 837.3 914.8 M 816.1 880.6 L 819.2 894.7 Q 829.2 900.7 843.4 910.8" fill="none" stroke="#2b2b2b" stroke-width="1.46" />
<path d="M 819.2 878.5 L 819.2 891.6 Q 823.0 894.1 826.8 891.6 L 826.8 878.5" fill="#fff" stroke="#2b2b2b" stroke-width="1.34" />
<ellipse cx="823.0" cy="878.5" rx="3.83" ry="1.91" fill="#fff" stroke="#2b2b2b" stroke-width="1.34"/>
<ellipse cx="823.0" cy="878.5" rx="1.91" ry="0.96" fill="none" stroke="#2b2b2b" stroke-width="1.12"/>
<path d="M 826.8 880.6 L 826.8 889.6 Q 829.2 892.0 831.7 889.6 L 831.7 880.6" fill="#fff" stroke="#2b2b2b" stroke-width="1.34" />
<ellipse cx="829.2" cy="880.6" rx="2.42" ry="1.21" fill="#fff" stroke="#2b2b2b" stroke-width="1.34"/>
<ellipse cx="829.2" cy="880.6" rx="1.21" ry="0.6" fill="none" stroke="#2b2b2b" stroke-width="1.12"/>
<path d="M 801.0 902.3 L 801.0 914.8 Q 805.1 917.2 809.1 914.8 L 809.1 902.3" fill="#fff" stroke="#2b2b2b" stroke-width="1.57" />
<ellipse cx="805.1" cy="902.3" rx="4.03" ry="2.02" fill="#fff" stroke="#2b2b2b" stroke-width="1.57"/>
<ellipse cx="805.1" cy="902.3" rx="2.02" ry="1.01" fill="none" stroke="#2b2b2b" stroke-width="1.12"/>
<path d="M 790.9 914.8 L 799.0 922.9 L 811.1 930.9 L 815.1 922.9 L 831.3 922.9 M 799.0 922.9 L 801.0 914.8 M 793.0 910.8 Q 801.0 914.8 811.1 914.8 L 819.2 919.9" fill="none" stroke="#2b2b2b" stroke-width="1.46" />
<ellipse cx="804.7" cy="904.7" rx="2.42" ry="3.23" fill="none" stroke="#2b2b2b" stroke-width="1.79"/>
<path d="M 803.0 910.8 L 803.6 916.4" fill="none" stroke="#2b2b2b" stroke-width="2.69" />
<ellipse cx="813.5" cy="919.9" rx="3.02" ry="2.22" fill="none" stroke="#2b2b2b" stroke-width="2.02"/>
<ellipse cx="813.5" cy="919.9" rx="1.21" ry="0.91" fill="none" stroke="#2b2b2b" stroke-width="1.34"/>
<path d="M 808.1 915.8 L 820.2 915.8 L 820.2 923.9 L 808.1 923.9 Z" fill="none" stroke="#2b2b2b" stroke-width="1.23" />
<path d="M 799.0 925.9 L 799.0 933.0 Q 801.8 935.4 804.7 933.0 L 804.7 925.9" fill="#fff" stroke="#2b2b2b" stroke-width="1.34" />
<ellipse cx="801.8" cy="925.9" rx="2.82" ry="1.41" fill="#fff" stroke="#2b2b2b" stroke-width="1.34"/>
<ellipse cx="801.8" cy="925.9" rx="1.41" ry="0.71" fill="none" stroke="#2b2b2b" stroke-width="1.12"/>
<path d="M 831.3 894.7 Q 837.3 886.6 847.4 890.6 L 852.4 904.7 M 843.4 910.8 L 852.4 904.7 L 859.5 914.8" fill="none" stroke="#2b2b2b" stroke-width="1.46" />
<path d="M 786.9 914.8 Q 790.9 922.9 799.0 930.9 L 795.0 939.0" fill="none" stroke="#2b2b2b" stroke-width="1.34" />
<path d="M 837.3 914.8 Q 811.1 926.9 793.0 951.1 Q 781.9 971.3 782.9 997.5 Q 783.9 1013.6 799.0 1023.7 L 811.1 1028.7" fill="none" stroke="#2b2b2b" stroke-width="3.14" />
<path d="M 841.3 918.2 Q 817.1 929.3 801.0 951.5 Q 790.3 971.3 790.9 997.5 Q 792.0 1010.0 801.4 1020.0" fill="none" stroke="#2b2b2b" stroke-width="2.24" />
<path d="M 833.7 911.8 Q 809.1 923.9 790.1 949.1 L 779.9 971.3 L 774.8 985.4 L 776.8 1003.5 L 790.9 1015.6" fill="none" stroke="#2b2b2b" stroke-width="1.57" />
<path d="M 774.8 985.4 L 782.9 989.4 M 779.9 971.3 L 786.9 974.3 M 776.8 1003.5 L 783.9 1001.5" fill="none" stroke="#2b2b2b" stroke-width="1.46" />
<path d="M 787.5 963.2 L 795.4 966.2 M 783.9 981.3 L 790.9 982.7 M 784.5 1000.5 L 791.7 999.1 M 793.4 951.1 L 801.0 955.1 M 811.1 933.0 L 816.7 939.0" fill="none" stroke="#2b2b2b" stroke-width="1.46" />
<path d="M 801.0 955.1 Q 799.0 981.3 804.0 1003.5 Q 808.1 1017.6 815.1 1026.7" fill="none" stroke="#2b2b2b" stroke-width="1.46" />
<path d="M 807.1 953.1 Q 804.7 981.3 809.1 1001.5 Q 812.1 1013.6 820.2 1021.7" fill="none" stroke="#2b2b2b" stroke-width="1.23" />
<path d="M 790.5 983.4 L 790.5 1003.5 M 785.9 987.4 L 785.9 1004.5" fill="none" stroke="#2b2b2b" stroke-width="1.23" />
<ellipse cx="835.3" cy="925.9" rx="3.23" ry="3.63" fill="#fff" stroke="#2b2b2b" stroke-width="2.24"/>
<ellipse cx="835.3" cy="925.9" rx="1.61" ry="1.81" fill="#888" stroke="#2b2b2b" stroke-width="1.46"/>
<ellipse cx="811.1" cy="949.1" rx="3.23" ry="3.63" fill="#fff" stroke="#2b2b2b" stroke-width="2.24"/>
<ellipse cx="811.1" cy="949.1" rx="1.61" ry="1.81" fill="#888" stroke="#2b2b2b" stroke-width="1.46"/>
<ellipse cx="797.0" cy="981.3" rx="3.23" ry="3.63" fill="#fff" stroke="#2b2b2b" stroke-width="2.24"/>
<ellipse cx="797.0" cy="981.3" rx="1.61" ry="1.81" fill="#888" stroke="#2b2b2b" stroke-width="1.46"/>
<ellipse cx="797.0" cy="1010.6" rx="3.23" ry="3.63" fill="#fff" stroke="#2b2b2b" stroke-width="2.24"/>
<ellipse cx="797.0" cy="1010.6" rx="1.61" ry="1.81" fill="#888" stroke="#2b2b2b" stroke-width="1.46"/>
<ellipse cx="811.1" cy="1025.7" rx="3.23" ry="3.63" fill="#fff" stroke="#2b2b2b" stroke-width="2.24"/>
<ellipse cx="811.1" cy="1025.7" rx="1.61" ry="1.81" fill="#888" stroke="#2b2b2b" stroke-width="1.46"/>
<ellipse cx="835.3" cy="1019.6" rx="3.23" ry="3.63" fill="#fff" stroke="#2b2b2b" stroke-width="2.24"/>
<ellipse cx="835.3" cy="1019.6" rx="1.61" ry="1.81" fill="#888" stroke="#2b2b2b" stroke-width="1.46"/>
<path d="M 799.0 1013.6 L 809.1 1023.7 L 815.1 1023.3 M 802.0 1009.6 L 811.1 1017.6 M 790.9 1015.6 L 803.0 1026.7 L 811.1 1028.7" fill="none" stroke="#2b2b2b" stroke-width="1.68" />
<path d="M 811.1 1028.7 L 823.2 1020.6 L 829.2 1023.7 L 835.3 1023.3 M 839.3 1020.6 L 847.4 1007.5" fill="none" stroke="#2b2b2b" stroke-width="1.57" />
<path d="M 834.3 928.9 Q 841.3 955.1 863.5 977.3" fill="none" stroke="#2b2b2b" stroke-width="3.14" />
<path d="M 838.9 926.9 Q 845.8 952.7 867.1 974.3" fill="none" stroke="#2b2b2b" stroke-width="1.68" />
<path d="M 799.0 992.4 Q 827.2 985.4 855.4 990.4" fill="none" stroke="#2b2b2b" stroke-width="2.91" />
<path d="M 800.0 997.1 Q 827.2 989.8 854.4 994.8" fill="none" stroke="#2b2b2b" stroke-width="1.57" />
<path d="M 803.0 997.5 Q 811.1 1011.6 823.2 1020.0 M 841.3 995.4 Q 838.3 1008.5 831.3 1018.6 M 823.2 1020.0 Q 837.3 1014.0 845.8 1003.5" fill="none" stroke="#2b2b2b" stroke-width="1.46" />
<path d="M 847.4 1007.5 Q 851.4 997.5 861.5 992.4 M 843.4 1017.6 Q 849.4 1003.5 859.5 996.5" fill="none" stroke="#2b2b2b" stroke-width="1.57" />
<path d="M 811.1 939.0 Q 823.2 930.9 834.3 928.9 M 817.1 943.0 Q 827.2 935.0 836.3 934.0" fill="none" stroke="#2b2b2b" stroke-width="1.34" />
<path d="M 847.4 951.1 Q 843.4 963.2 845.4 977.3 M 853.4 959.2 Q 850.4 969.2 852.4 980.3" fill="none" stroke="#2b2b2b" stroke-width="1.23" />
<path d="M 855.0 985.4 L 855.0 1015.6 Q 858.3 1018.0 861.5 1015.6 L 861.5 985.4" fill="#fff" stroke="#2b2b2b" stroke-width="1.34" />
<ellipse cx="858.3" cy="985.4" rx="3.23" ry="1.61" fill="#fff" stroke="#2b2b2b" stroke-width="1.34"/>
<ellipse cx="858.3" cy="985.4" rx="1.61" ry="0.81" fill="none" stroke="#2b2b2b" stroke-width="1.12"/>
<path d="M 855.0 1003.5 Q 858.3 1005.5 861.5 1003.5" fill="none" stroke="#2b2b2b" stroke-width="1.12" />
<path d="M 861.5 987.4 L 861.5 1019.6 Q 865.0 1022.1 868.5 1019.6 L 868.5 987.4" fill="#fff" stroke="#2b2b2b" stroke-width="1.34" />
<ellipse cx="865.0" cy="987.4" rx="3.53" ry="1.76" fill="#fff" stroke="#2b2b2b" stroke-width="1.34"/>
<ellipse cx="865.0" cy="987.4" rx="1.76" ry="0.88" fill="none" stroke="#2b2b2b" stroke-width="1.12"/>
<path d="M 861.5 1006.5 Q 865.0 1008.5 868.5 1006.5" fill="none" stroke="#2b2b2b" stroke-width="1.12" />
<path d="M 871.6 985.0 L 871.6 997.5 Q 875.6 999.9 879.6 997.5 L 879.6 985.0" fill="#fff" stroke="#2b2b2b" stroke-width="1.34" />
<ellipse cx="875.6" cy="985.0" rx="4.03" ry="2.02" fill="#fff" stroke="#2b2b2b" stroke-width="1.34"/>
<ellipse cx="875.6" cy="985.0" rx="2.02" ry="1.01" fill="none" stroke="#2b2b2b" stroke-width="1.12"/>
<path d="M 868.5 998.5 L 868.5 1026.7 Q 873.6 1029.1 878.6 1026.7 L 878.6 998.5" fill="#fff" stroke="#2b2b2b" stroke-width="1.57" />
<ellipse cx="873.6" cy="998.5" rx="5.04" ry="2.52" fill="#fff" stroke="#2b2b2b" stroke-width="1.57"/>
<ellipse cx="873.6" cy="998.5" rx="2.52" ry="1.26" fill="none" stroke="#2b2b2b" stroke-width="1.12"/>
<path d="M 868.5 1011.6 Q 873.6 1013.6 878.6 1011.6" fill="none" stroke="#2b2b2b" stroke-width="1.12" />
<path d="M 855.0 1003.5 L 868.5 1008.5 M 855.0 1006.5 L 868.5 1011.6" fill="none" stroke="#2b2b2b" stroke-width="1.23" />
<ellipse cx="859.5" cy="985.0" rx="1.81" ry="1.01" fill="#666" stroke="#2b2b2b" stroke-width="1.79"/>
<ellipse cx="865.1" cy="987.4" rx="1.81" ry="1.01" fill="#666" stroke="#2b2b2b" stroke-width="1.79"/>
<path d="M 868.5 987.4 L 879.6 991.4 L 883.7 987.4 L 877.6 983.4 Z" fill="#fff" stroke="#2b2b2b" stroke-width="1.34" />
<path d="M 871.6 990.4 L 875.6 986.4" fill="none" stroke="#2b2b2b" stroke-width="2.24" />
<path d="M 879.6 991.4 L 901.8 992.4 L 914.9 1001.5 L 917.9 1019.6 L 907.9 1024.1 L 895.8 1027.3 L 879.6 1014.0" fill="#fff" stroke="#2b2b2b" stroke-width="1.57" />
<path d="M 879.6 1013.6 Q 891.7 1015.6 895.8 1027.3 M 878.6 1003.5 Q 889.7 1004.5 898.8 1013.6 M 901.8 992.4 L 898.8 1001.5" fill="none" stroke="#2b2b2b" stroke-width="1.46" />
<path d="M 894.8 1002.5 L 898.8 1002.5 L 898.8 1006.5 L 894.8 1006.5 Z" fill="none" stroke="#2b2b2b" stroke-width="1.34" />
<ellipse cx="903.8" cy="998.5" rx="1.81" ry="1.21" fill="none" stroke="#2b2b2b" stroke-width="1.46"/>
<ellipse cx="905.8" cy="1011.6" rx="7.66" ry="11.69" fill="#fff" stroke="#2b2b2b" stroke-width="3.36" transform="rotate(22 905.8 1011.6)"/>
<ellipse cx="906.8" cy="1012.2" rx="5.44" ry="8.87" fill="#fff" stroke="#2b2b2b" stroke-width="1.46" transform="rotate(22 906.8 1012.2)"/>
<path d="M 895.8 1027.3 L 899.8 1030.1 L 909.9 1025.7" fill="none" stroke="#2b2b2b" stroke-width="1.57" />
<path d="M 907.9 1013.6 L 966.3 1047.9" fill="none" stroke="#333333" stroke-width="9.4" stroke-linecap="butt"/>
<path d="M 907.9 1013.6 L 966.3 1047.9" fill="none" stroke="#fff" stroke-width="7.16" stroke-linecap="butt"/>
<ellipse cx="967.5" cy="1048.7" rx="2.82" ry="4.64" fill="#fff" stroke="#2b2b2b" stroke-width="1.46" transform="rotate(30 967.5 1048.7)"/>
<path d="M 963.3 1041.8 L 957.8 1050.9 M 960.3 1040.2 L 954.8 1049.3" fill="none" stroke="#2b2b2b" stroke-width="1.34" />
<ellipse cx="906.8" cy="1012.6" rx="4.03" ry="6.65" fill="none" stroke="#2b2b2b" stroke-width="1.34" transform="rotate(22 906.8 1012.6)"/>
<path d="M 827.2 840.2 L 838.3 842.3 L 837.3 853.3 L 823.2 853.3 Z" fill="#fff" stroke="#2b2b2b" stroke-width="1.46" />
<path d="M 821.2 855.4 L 837.3 855.4 L 840.3 865.4 L 825.2 870.5 Z" fill="#fff" stroke="#2b2b2b" stroke-width="1.46" />
<path d="M 831.3 872.5 L 845.4 864.4 L 854.4 876.5 L 842.3 887.6 Z" fill="#fff" stroke="#2b2b2b" stroke-width="1.46" />
<path d="M 847.4 889.6 L 857.5 873.5 L 868.5 876.5 L 864.5 892.6 L 853.4 896.7 Z" fill="#fff" stroke="#2b2b2b" stroke-width="1.46" />
<path d="M 863.5 893.7 L 871.6 876.5 L 883.7 880.6 L 877.6 894.7 Z" fill="#fff" stroke="#2b2b2b" stroke-width="1.46" />
<path d="M 879.6 876.5 L 889.7 874.5 L 897.8 887.6 L 891.7 890.6 Z" fill="#fff" stroke="#2b2b2b" stroke-width="1.46" />
<path d="M 901.8 840.2 L 906.8 836.2 M 899.8 855.4 L 916.9 853.3 M 897.8 866.4 L 911.9 871.5" fill="none" stroke="#2b2b2b" stroke-width="2.91" />
<path d="M 901.8 841.8 L 905.8 838.2 M 900.2 857.2 L 915.9 855.2 M 897.4 868.5 L 910.9 873.3" fill="none" stroke="#2b2b2b" stroke-width="1.12" />
<path d="M 845.4 887.6 L 851.4 904.7 M 855.4 896.7 L 858.5 910.8 M 868.5 894.7 L 864.5 910.8 M 879.6 894.7 L 873.6 908.8 M 842.3 887.6 L 847.4 902.7 M 891.7 890.6 L 883.7 904.7" fill="none" stroke="#2b2b2b" stroke-width="1.34" />
<path d="M 851.4 876.5 L 856.5 886.6 M 859.5 875.5 L 863.5 890.6 M 873.6 877.5 L 871.6 890.6" fill="none" stroke="#2b2b2b" stroke-width="1.12" />
<ellipse cx="869.6" cy="850.3" rx="32.25" ry="21.17" fill="#fff" stroke="#2b2b2b" stroke-width="1.57"/>
<ellipse cx="869.6" cy="846.3" rx="32.25" ry="20.76" fill="#fff" stroke="#2b2b2b" stroke-width="2.69"/>
<ellipse cx="869.6" cy="846.7" rx="29.63" ry="18.75" fill="none" stroke="#2b2b2b" stroke-width="1.12"/>
<ellipse cx="869.6" cy="847.1" rx="26.2" ry="16.73" fill="none" stroke="#2b2b2b" stroke-width="2.24"/>
<ellipse cx="869.6" cy="847.7" rx="23.38" ry="14.51" fill="none" stroke="#2b2b2b" stroke-width="1.23"/>
<ellipse cx="868.5" cy="848.7" rx="11.09" ry="7.46" fill="none" stroke="#2b2b2b" stroke-width="2.69"/>
<ellipse cx="868.5" cy="849.1" rx="8.06" ry="5.04" fill="none" stroke="#2b2b2b" stroke-width="1.34"/>
<path d="M 862.5 854.7 Q 868.5 849.9 875.2 854.7" fill="none" stroke="#2b2b2b" stroke-width="1.68" />
<ellipse cx="852.4" cy="843.3" rx="1.81" ry="1.41" fill="#555" stroke="#2b2b2b" stroke-width="1.34"/>
<ellipse cx="881.7" cy="839.2" rx="1.81" ry="1.41" fill="#555" stroke="#2b2b2b" stroke-width="1.34"/>
<ellipse cx="873.6" cy="856.8" rx="1.81" ry="1.41" fill="#555" stroke="#2b2b2b" stroke-width="1.34"/>
<ellipse cx="864.5" cy="840.2" rx="0.81" ry="0.71" fill="#555" stroke="#2b2b2b" stroke-width="1.12"/>
<ellipse cx="858.5" cy="853.3" rx="0.81" ry="0.71" fill="#555" stroke="#2b2b2b" stroke-width="1.12"/>
<ellipse cx="883.3" cy="849.9" rx="0.81" ry="0.71" fill="#555" stroke="#2b2b2b" stroke-width="1.12"/>
<path d="M 873.6 922.9 Q 883.7 900.7 909.9 886.6 L 919.9 887.6 L 940.1 888.6 L 940.5 930.9 L 932.0 939.0 L 924.0 930.9 L 897.8 943.0 L 877.6 939.0 Z" fill="#fff" stroke="#2b2b2b" stroke-width="1.57" />
<path d="M 871.6 919.9 Q 881.7 898.7 907.9 884.6" fill="none" stroke="#2b2b2b" stroke-width="2.91" />
<path d="M 868.5 917.8 Q 878.6 896.3 904.8 882.6" fill="none" stroke="#2b2b2b" stroke-width="1.57" />
<path d="M 919.9 887.8 L 919.9 930.9 M 923.0 888.0 L 923.0 930.9 M 930.0 888.2 L 930.0 933.0" fill="none" stroke="#2b2b2b" stroke-width="1.23" />
<path d="M 899.8 879.5 L 905.8 877.5 L 918.9 887.0 M 891.7 890.6 L 899.8 879.5 M 881.7 880.6 L 888.7 876.5 L 892.7 880.6 L 886.7 894.7" fill="none" stroke="#2b2b2b" stroke-width="1.57" />
<path d="M 880.6 884.6 L 880.6 892.6 Q 884.2 895.1 887.7 892.6 L 887.7 884.6" fill="#fff" stroke="#2b2b2b" stroke-width="1.34" />
<ellipse cx="884.2" cy="884.6" rx="3.53" ry="1.76" fill="#fff" stroke="#2b2b2b" stroke-width="1.34"/>
<ellipse cx="884.2" cy="884.6" rx="1.76" ry="0.88" fill="none" stroke="#2b2b2b" stroke-width="1.12"/>
<path d="M 888.1 879.5 L 888.1 886.6 Q 890.5 889.0 892.9 886.6 L 892.9 879.5" fill="#fff" stroke="#2b2b2b" stroke-width="1.34" />
<ellipse cx="890.5" cy="879.5" rx="2.42" ry="1.21" fill="#fff" stroke="#2b2b2b" stroke-width="1.34"/>
<ellipse cx="890.5" cy="879.5" rx="1.21" ry="0.6" fill="none" stroke="#2b2b2b" stroke-width="1.12"/>
<ellipse cx="900.8" cy="897.7" rx="1.21" ry="1.61" fill="none" stroke="#2b2b2b" stroke-width="1.34"/>
<ellipse cx="906.2" cy="893.7" rx="1.21" ry="1.61" fill="none" stroke="#2b2b2b" stroke-width="1.34"/>
<path d="M 935.7 897.1 L 940.1 900.3" fill="none" stroke="#333333" stroke-width="5" stroke-linecap="butt"/>
<path d="M 935.7 897.1 L 940.1 900.3" fill="none" stroke="#fff" stroke-width="2.76" stroke-linecap="butt"/>
<ellipse cx="935.5" cy="896.9" rx="1.41" ry="2.22" fill="#fff" stroke="#2b2b2b" stroke-width="1.23" transform="rotate(30 935.5 896.9)"/>
<ellipse cx="940.3" cy="900.5" rx="1.41" ry="2.22" fill="#fff" stroke="#2b2b2b" stroke-width="1.23" transform="rotate(30 940.3 900.5)"/>
<path d="M 939.1 903.1 L 930.0 914.8 L 925.0 930.9 M 932.0 911.8 L 934.5 930.9 M 930.0 914.8 L 935.3 912.4 L 938.1 922.9" fill="none" stroke="#2b2b2b" stroke-width="1.46" />
<path d="M 925.0 918.8 L 930.0 922.9 L 929.0 930.9 M 936.1 922.9 L 940.5 928.9" fill="none" stroke="#2b2b2b" stroke-width="1.23" />
<ellipse cx="886.1" cy="931.3" rx="10.48" ry="12.5" fill="#fff" stroke="#2b2b2b" stroke-width="2.91" transform="rotate(-12 886.1 931.3)"/>
<ellipse cx="887.3" cy="931.3" rx="8.06" ry="10.08" fill="none" stroke="#2b2b2b" stroke-width="1.46" transform="rotate(-12 887.3 931.3)"/>
<ellipse cx="887.7" cy="930.5" rx="3.63" ry="6.05" fill="#fff" stroke="#2b2b2b" stroke-width="1.9" transform="rotate(-12 887.7 930.5)"/>
<ellipse cx="889.5" cy="931.3" rx="3.63" ry="6.05" fill="#fff" stroke="#2b2b2b" stroke-width="1.9" transform="rotate(-12 889.5 931.3)"/>
<ellipse cx="891.3" cy="932.2" rx="3.63" ry="6.05" fill="#fff" stroke="#2b2b2b" stroke-width="1.9" transform="rotate(-12 891.3 932.2)"/>
<ellipse cx="893.1" cy="933.0" rx="3.63" ry="6.05" fill="#fff" stroke="#2b2b2b" stroke-width="1.9" transform="rotate(-12 893.1 933.0)"/>
<ellipse cx="895.0" cy="933.8" rx="3.63" ry="6.05" fill="#fff" stroke="#2b2b2b" stroke-width="1.9" transform="rotate(-12 895.0 933.8)"/>
<path d="M 893.7 939.0 L 898.8 942.0 L 896.8 949.1 L 891.7 946.1 Z" fill="#333" stroke="#2b2b2b" stroke-width="1.12" />
<ellipse cx="907.5" cy="928.9" rx="5.24" ry="6.65" fill="#fff" stroke="#2b2b2b" stroke-width="3.36" transform="rotate(-12 907.5 928.9)"/>
<ellipse cx="909.5" cy="929.7" rx="3.02" ry="4.03" fill="#fff" stroke="#2b2b2b" stroke-width="1.68" transform="rotate(-12 909.5 929.7)"/>
<path d="M 913.9 927.9 L 922.0 922.9 L 927.0 925.9 L 926.0 933.0 L 918.9 937.0 Z" fill="#fff" stroke="#2b2b2b" stroke-width="1.57" />
<path d="M 895.8 941.4 L 919.9 931.3 L 938.1 939.0 L 941.1 949.1 L 930.0 955.5 L 911.9 951.1 L 897.8 957.6 Z" fill="#fff" stroke="#2b2b2b" stroke-width="1.79" />
<path d="M 897.8 949.1 L 919.9 939.0 L 932.0 944.7" fill="none" stroke="#2b2b2b" stroke-width="1.34" />
<ellipse cx="937.1" cy="944.7" rx="4.03" ry="4.84" fill="#fff" stroke="#2b2b2b" stroke-width="1.79" transform="rotate(-12 937.1 944.7)"/>
<ellipse cx="937.3" cy="944.9" rx="1.81" ry="2.22" fill="none" stroke="#2b2b2b" stroke-width="1.46" transform="rotate(-12 937.3 944.9)"/>
<path d="M 903.8 965.2 L 922.0 955.5" fill="none" stroke="#333333" stroke-width="12" stroke-linecap="butt"/>
<path d="M 903.8 965.2 L 922.0 955.5" fill="none" stroke="#fff" stroke-width="9.76" stroke-linecap="butt"/>
<ellipse cx="908.5" cy="960.6" rx="4.84" ry="5.64" fill="#fff" stroke="#2b2b2b" stroke-width="1.9"/>
<ellipse cx="908.7" cy="960.8" rx="2.02" ry="2.42" fill="none" stroke="#2b2b2b" stroke-width="1.68"/>
<path d="M 922.0 951.1 L 939.1 958.2 L 936.1 966.2 L 921.0 960.2 Z" fill="#444" stroke="#2b2b2b" stroke-width="1.12" />
<path d="M 923.6 952.3 L 922.0 960.8" fill="none" stroke="#e0e0e0" stroke-width="1.01" />
<path d="M 926.2 953.3 L 924.6 961.8" fill="none" stroke="#e0e0e0" stroke-width="1.01" />
<path d="M 928.8 954.3 L 927.2 962.8" fill="none" stroke="#e0e0e0" stroke-width="1.01" />
<path d="M 931.4 955.3 L 929.8 963.8" fill="none" stroke="#e0e0e0" stroke-width="1.01" />
<path d="M 934.1 956.3 L 932.4 964.8" fill="none" stroke="#e0e0e0" stroke-width="1.01" />
<path d="M 936.7 957.3 L 935.1 965.8" fill="none" stroke="#e0e0e0" stroke-width="1.01" />
<path d="M 922.0 960.2 L 930.0 969.2 L 924.0 973.3 M 917.9 963.2 L 926.0 971.3" fill="none" stroke="#2b2b2b" stroke-width="1.68" />
<path d="M 891.7 951.1 Q 887.3 967.2 899.8 977.3 L 911.9 971.7 L 924.4 963.6" fill="none" stroke="#2b2b2b" stroke-width="1.9" />
<path d="M 873.6 922.9 L 868.5 939.0 L 864.5 963.2 L 871.6 977.3 L 881.7 974.3 M 864.5 963.2 Q 855.4 967.2 854.4 981.3 M 868.5 939.0 L 877.6 943.0" fill="none" stroke="#2b2b2b" stroke-width="1.68" />
<path d="M 871.6 977.3 L 879.6 985.4 L 889.7 987.4 L 901.8 983.4 L 911.9 981.3 M 881.7 974.3 L 888.7 981.3 L 899.8 977.3" fill="none" stroke="#2b2b2b" stroke-width="1.68" />
<path d="M 877.6 951.1 L 889.7 959.2 L 885.7 971.3 M 877.6 951.1 L 873.6 965.2 L 879.6 971.3" fill="none" stroke="#2b2b2b" stroke-width="1.46" />
<ellipse cx="887.7" cy="974.3" rx="2.42" ry="3.23" fill="none" stroke="#2b2b2b" stroke-width="1.57"/>
<ellipse cx="898.4" cy="981.9" rx="2.22" ry="2.62" fill="none" stroke="#2b2b2b" stroke-width="1.57"/>
<ellipse cx="916.3" cy="976.9" rx="2.02" ry="2.42" fill="none" stroke="#2b2b2b" stroke-width="1.57"/>
<ellipse cx="879.6" cy="963.2" rx="2.02" ry="2.82" fill="none" stroke="#2b2b2b" stroke-width="1.46"/>
<path d="M 901.8 983.4 L 907.9 991.4 L 914.9 1001.5 M 889.7 987.4 L 891.7 992.4" fill="none" stroke="#2b2b2b" stroke-width="1.46" />
<path d="M 926.0 971.3 L 932.0 965.2 M 929.0 960.2 L 934.1 963.2" fill="none" stroke="#2b2b2b" stroke-width="2.02" />
<path d="M 831.3 894.7 Q 851.4 887.6 871.6 895.7 M 837.3 898.7 Q 852.4 892.6 868.5 899.7" fill="none" stroke="#2b2b2b" stroke-width="1.57" />
<path d="M 845.4 894.7 L 851.4 911.8 M 852.4 892.6 L 857.5 910.8 M 860.5 893.7 L 862.5 910.8 M 868.5 896.7 L 866.5 912.8" fill="none" stroke="#2b2b2b" stroke-width="1.34" />
<path d="M 843.4 910.8 Q 851.4 904.7 863.5 906.8 L 871.6 919.9" fill="none" stroke="#2b2b2b" stroke-width="1.68" />
<path d="M 847.4 914.8 Q 857.5 910.8 866.5 914.8 Q 864.5 922.9 868.5 930.9" fill="none" stroke="#2b2b2b" stroke-width="1.46" />
<path d="M 859.5 904.7 Q 868.5 906.8 872.6 918.8 M 856.5 908.8 Q 865.1 910.8 868.5 921.9" fill="none" stroke="#2b2b2b" stroke-width="2.46" />
<path d="M 852.4 904.7 L 859.5 914.8 L 857.5 926.9 L 863.5 939.0 L 868.5 939.0" fill="none" stroke="#2b2b2b" stroke-width="1.57" />
<path d="M 845.4 922.9 Q 851.4 930.9 852.4 943.0 Q 853.4 955.1 863.5 965.2 M 841.3 930.9 Q 847.4 939.0 848.4 951.1" fill="none" stroke="#2b2b2b" stroke-width="1.46" />
<path d="M 859.5 922.9 Q 863.5 930.9 862.5 943.0 L 866.5 951.1" fill="none" stroke="#2b2b2b" stroke-width="1.79" />
<path d="M 852.4 914.8 L 856.5 919.9 L 854.4 925.9 Z" fill="#555" stroke="#2b2b2b" stroke-width="1.23" />
<ellipse cx="857.5" cy="919.9" rx="2.02" ry="2.82" fill="none" stroke="#2b2b2b" stroke-width="1.79" transform="rotate(20 857.5 919.9)"/>
<ellipse cx="852.4" cy="930.9" rx="1.61" ry="2.22" fill="none" stroke="#2b2b2b" stroke-width="1.46"/>
<path d="M 835.3 922.9 L 843.4 930.9 M 838.3 919.9 L 847.4 928.9" fill="none" stroke="#2b2b2b" stroke-width="1.34" />
<path d="M 811.1 930.9 L 823.2 939.0 L 831.3 935.0 M 815.1 922.9 L 827.2 930.9 L 837.3 926.9" fill="none" stroke="#2b2b2b" stroke-width="1.34" />
<path d="M 818.2 880.6 L 825.2 878.1 M 823.2 875.5 L 829.2 878.5 M 820.2 891.6 Q 824.2 893.7 827.2 890.6" fill="none" stroke="#2b2b2b" stroke-width="1.34" />
<path d="M 793.0 939.0 Q 801.0 933.0 811.1 930.9 M 790.1 949.1 Q 799.0 939.0 811.1 939.0" fill="none" stroke="#2b2b2b" stroke-width="1.34" />
<path d="M 676.0 886.6 Q 682.1 874.5 692.2 872.9 M 679.1 892.6 Q 686.1 880.6 696.2 877.5" fill="none" stroke="#2b2b2b" stroke-width="1.23" />
<path d="M 703.3 881.0 Q 708.3 878.5 712.9 879.5 M 703.3 886.6 L 712.9 885.0 M 718.4 876.5 L 718.4 895.7" fill="none" stroke="#2b2b2b" stroke-width="1.23" />
<path d="M 722.8 882.6 L 730.5 887.6 M 730.5 890.6 L 737.5 892.6 M 722.8 890.6 L 730.5 894.7 M 737.5 894.7 L 743.6 904.7" fill="none" stroke="#2b2b2b" stroke-width="1.23" />
<path d="M 693.8 919.9 L 701.8 923.9 M 710.3 927.9 L 719.4 930.9 L 728.5 925.9" fill="none" stroke="#2b2b2b" stroke-width="1.34" />
<path d="M 718.4 898.7 L 718.4 927.9 M 701.8 913.8 L 693.8 909.8" fill="none" stroke="#2b2b2b" stroke-width="1.12" />
<path d="M 815.1 991.4 Q 823.2 1003.5 823.2 1019.6 M 827.2 989.4 Q 831.3 1001.5 829.2 1017.6 M 837.3 988.4 Q 837.3 1001.5 834.3 1013.6" fill="none" stroke="#2b2b2b" stroke-width="1.23" />
<path d="M 809.1 963.2 Q 815.1 975.3 815.1 991.4 M 819.2 955.1 Q 825.2 969.2 826.2 987.4" fill="none" stroke="#2b2b2b" stroke-width="1.23" />
<path d="M 851.4 991.4 L 855.0 997.5 M 851.4 1011.6 L 855.0 1011.6 M 845.4 1003.5 L 855.0 1008.5" fill="none" stroke="#2b2b2b" stroke-width="1.46" />
<path d="M 879.6 997.5 L 887.7 998.5 L 891.7 1003.5 M 883.7 991.4 L 886.7 998.5" fill="none" stroke="#2b2b2b" stroke-width="1.34" />
<path d="M 907.9 991.4 L 911.9 987.4 L 914.9 992.4 M 911.9 981.3 L 917.9 991.4 L 914.9 1001.5" fill="none" stroke="#2b2b2b" stroke-width="1.46" />
<path d="M 871.6 939.0 L 877.6 935.0 L 883.7 943.0 L 879.6 949.1 Z" fill="#fff" stroke="#2b2b2b" stroke-width="1.34" />
<path d="M 897.8 943.0 L 895.8 951.1 L 901.8 955.1 M 911.9 951.1 L 909.9 958.2 M 919.9 939.0 L 919.9 949.1" fill="none" stroke="#2b2b2b" stroke-width="1.46" />
<path d="M 928.0 930.9 L 932.0 939.0 M 925.0 930.9 L 922.0 939.0 M 940.5 930.9 L 941.1 939.0" fill="none" stroke="#2b2b2b" stroke-width="1.46" />
<path d="M 901.8 969.2 Q 909.9 971.3 917.9 967.2 M 895.8 973.3 Q 905.8 979.3 917.9 974.3" fill="none" stroke="#2b2b2b" stroke-width="1.57" />
<path d="M 883.7 971.3 L 891.7 969.2 L 897.8 975.3 M 873.6 969.2 L 879.6 965.2 L 883.7 971.3" fill="none" stroke="#2b2b2b" stroke-width="1.46" />
<path d="M 917.9 939.0 L 923.0 942.0 L 922.0 949.1 L 916.9 947.1 Z" fill="#666" stroke="#2b2b2b" stroke-width="1.23" />
<path d="M 899.8 924.9 L 903.8 921.9 L 911.9 922.9 M 901.8 936.0 L 905.8 939.0 L 912.9 936.0" fill="none" stroke="#2b2b2b" stroke-width="1.46" />
<path d="M981.1 672.0 L1015.8 651.9 L1137.1 715.8 L1097.9 739.5 L981.1 672.0" fill="none" stroke="#505050" stroke-width="0.95" stroke-dasharray="4.5 3.5" stroke-linecap="butt" />
<path d="M1116.5 652.8 L1116.5 706.8" fill="none" stroke="#505050" stroke-width="0.95" stroke-dasharray="4.5 3.5" stroke-linecap="butt" />
<path d="M1072.6 677.9 L1117.8 651.6" fill="none" stroke="#505050" stroke-width="0.95" stroke-dasharray="4.5 3.5" stroke-linecap="butt" />
<path d="M1100.0 697.5 L1116.5 706.8" fill="none" stroke="#505050" stroke-width="0.95" stroke-dasharray="4.5 3.5" stroke-linecap="butt" />
<path d="M1117.8 651.6 L1142.9 635.3" fill="none" stroke="#505050" stroke-width="0.95" stroke-dasharray="4.5 3.5" stroke-linecap="butt" />
<path d="M1040.0 613.9 L1097.7 645.3" fill="none" stroke="#505050" stroke-width="0.95" stroke-dasharray="4.5 3.5" stroke-linecap="butt" />
<path d="M1033.0 660.0 L1042.0 664.5" fill="none" stroke="#505050" stroke-width="0.95" stroke-dasharray="4.5 3.5" stroke-linecap="butt" />
<path d="M1194.0 903.2 L1400.0 780.0" fill="none" stroke="#505050" stroke-width="0.95" stroke-dasharray="4.5 3.5" stroke-linecap="butt" />
<path d="M1157.5 828.3 L1172.1 836.6" fill="none" stroke="#505050" stroke-width="0.95" stroke-dasharray="4.5 3.5" stroke-linecap="butt" />
<path d="M1031.5 750.5 L1013.0 741.0" fill="none" stroke="#505050" stroke-width="0.95" stroke-dasharray="4.5 3.5" stroke-linecap="butt" />
<path d="M1104.0 789.5 L1113.0 784.0" fill="none" stroke="#505050" stroke-width="0.95" stroke-dasharray="4.5 3.5" stroke-linecap="butt" />
<path d="M1189.0 769.0 L1163.0 785.5" fill="none" stroke="#505050" stroke-width="0.95" stroke-dasharray="4.5 3.5" stroke-linecap="butt" />
<path d="M1195.0 694.0 L1368.0 597.0" fill="none" stroke="#505050" stroke-width="0.95" stroke-dasharray="4.5 3.5" stroke-linecap="butt" />
<path d="M1199.0 738.0 L1367.0 641.0" fill="none" stroke="#505050" stroke-width="0.95" stroke-dasharray="4.5 3.5" stroke-linecap="butt" />
<path d="M1207.6 655.9 L1275.4 609.4" fill="none" stroke="#505050" stroke-width="0.95" stroke-dasharray="4.5 3.5" stroke-linecap="butt" />
<path d="M1207.6 655.9 L1587.0 878.0" fill="none" stroke="#505050" stroke-width="0.95" stroke-dasharray="4.5 3.5" stroke-linecap="butt" />
<path d="M1451.0 673.0 L1424.0 690.0" fill="none" stroke="#505050" stroke-width="0.95" stroke-dasharray="4.5 3.5" stroke-linecap="butt" />
<path d="M1416.0 758.0 L1265.0 850.0" fill="none" stroke="#505050" stroke-width="0.95" stroke-dasharray="4.5 3.5" stroke-linecap="butt" />
<path d="M1206.5 675.6 L1209.5 673.5 L1228.3 685.6 L1229.5 689.5 L1224.7 690.2 Z" fill="#fff" stroke="#333333" stroke-width="1.46" />
<path d="M1207.4 679.2 L1219.2 720.3 L1224 725 L1217.4 695.6" fill="#fff" stroke="#333333" stroke-width="1.12" />
<path d="M1217.4 695.6 L1224.7 690.2 L1229.5 689.5 L1241.1 734.9 L1231.1 744 Z" fill="#fff" stroke="#333333" stroke-width="1.34" />
<ellipse cx="1223.4" cy="697.5" rx="1" ry="1.3" fill="none" stroke="#333333" stroke-width="0.9"/>
<ellipse cx="1233.8" cy="738.5" rx="1" ry="1.3" fill="none" stroke="#333333" stroke-width="0.9"/>
<path d="M1232.9 710.2 L1419 660.1 L1551 660.1" fill="none" stroke="#333333" stroke-width="1.12" />
<path d="M1199.2 744 L1417.2 685.2 L1559 685.2" fill="none" stroke="#333333" stroke-width="1.12" />
<path d="M1398 713.9 L1415.4 694.7" fill="none" stroke="#333333" stroke-width="1.12" />
<path d="M1420.8 693.4 L1419.2 696.7 L1416.0 696.7 L1414.4 693.4 L1416.0 690.1 L1419.2 690.1 Z" fill="#fff" stroke="#333333" stroke-width="0.9" />
<path d="M1422.2 692.9 L1420.8 693.4" fill="none" stroke="#333333" stroke-width="0.9" />
<path d="M1420.6 696.2 L1419.2 696.7" fill="none" stroke="#333333" stroke-width="0.9" />
<path d="M1417.4 696.2 L1416.0 696.7" fill="none" stroke="#333333" stroke-width="0.9" />
<path d="M1415.8 692.9 L1414.4 693.4" fill="none" stroke="#333333" stroke-width="0.9" />
<path d="M1417.4 689.6 L1416.0 690.1" fill="none" stroke="#333333" stroke-width="0.9" />
<path d="M1420.6 689.6 L1419.2 690.1" fill="none" stroke="#333333" stroke-width="0.9" />
<path d="M1422.2 692.9 L1420.6 696.2 L1417.4 696.2 L1415.8 692.9 L1417.4 689.6 L1420.6 689.6 Z" fill="#fff" stroke="#333333" stroke-width="0.9" />
<ellipse cx="1419" cy="692.9" rx="1.71" ry="2.09" fill="none" stroke="#333333" stroke-width="1.34"/>
<path d="M1185.8 690.3 Q1189.9 691.4 1193.0 693.7 Q1194.6 696.6 1193.7 699.8 Q1192.9 702.4 1187.0 705.3 L1183.5 704.4 L1179.8 701.6 L1179.4 696.0 L1181.8 692.6 Z" fill="#fff" stroke="#333333" stroke-width="1.12" />
<ellipse cx="1188.48" cy="698.04" rx="4.960000000000001" ry="7.2" fill="none" stroke="#333333" stroke-width="1.12" transform="rotate(20 1188.48 698.04)"/>
<path d="M1179.4 696.0 L1183.4 697.6 M1181.8 692.6 L1185.1 692.8 M1179.8 701.6 L1183.8 702.0" fill="none" stroke="#333333" stroke-width="1.01" />
<ellipse cx="1188.48" cy="698.5999999999999" rx="2.8800000000000003" ry="4.32" fill="none" stroke="#333333" stroke-width="1.12" transform="rotate(20 1188.48 698.5999999999999)"/>
<ellipse cx="1188.4" cy="698.76" rx="1.6800000000000002" ry="2.64" fill="none" stroke="#555" stroke-width="1.46" transform="rotate(20 1188.4 698.76)"/>
<path d="M1190.3 734.1 Q1194.4 735.2 1197.5 737.5 Q1199.1 740.4 1198.2 743.6 Q1197.4 746.2 1191.5 749.1 L1188.0 748.2 L1184.3 745.4 L1183.9 739.8 L1186.3 736.4 Z" fill="#fff" stroke="#333333" stroke-width="1.12" />
<ellipse cx="1192.98" cy="741.84" rx="4.960000000000001" ry="7.2" fill="none" stroke="#333333" stroke-width="1.12" transform="rotate(20 1192.98 741.84)"/>
<path d="M1183.9 739.8 L1187.9 741.4 M1186.3 736.4 L1189.6 736.6 M1184.3 745.4 L1188.3 745.8" fill="none" stroke="#333333" stroke-width="1.01" />
<ellipse cx="1192.98" cy="742.4" rx="2.8800000000000003" ry="4.32" fill="none" stroke="#333333" stroke-width="1.12" transform="rotate(20 1192.98 742.4)"/>
<ellipse cx="1192.9" cy="742.5600000000001" rx="1.6800000000000002" ry="2.64" fill="none" stroke="#555" stroke-width="1.46" transform="rotate(20 1192.9 742.5600000000001)"/>
<path d="M1079.5 663.7 L1381 833" fill="none" stroke="#333333" stroke-width="5.6" stroke-linecap="butt"/>
<path d="M1079.5 663.7 L1381 833" fill="none" stroke="#fff" stroke-width="3.3599999999999994" stroke-linecap="butt"/>
<path d="M1074.7 645.5 L1078.7 644.6 L1081.5 651.9 L1113.4 630.9 L1115.2 632.8 L1100.6 659.2 L1096.1 660.1 L1096.1 651.9 L1091.5 651 L1085.1 658.3 L1084.5 666 L1078.7 669.5 L1075.1 671.1 Z" fill="#fff" stroke="#333333" stroke-width="1.23" />
<path d="M1077 646 L1077.4 669.8" fill="none" stroke="#333333" stroke-width="0.9" />
<path d="M1380.7 823.4 L1385.3 821.5 L1388 827.9 L1420.8 807.9 L1422.3 809.7 L1408.1 836.1 L1402.6 837 L1402.6 829.7 L1398 828.8 L1392.5 835.2 L1391.6 842.5 L1386.2 846.2 L1381.6 848 Z" fill="#fff" stroke="#333333" stroke-width="1.23" />
<path d="M1383 823 L1383.6 847" fill="none" stroke="#333333" stroke-width="0.9" />
<ellipse cx="1387.1" cy="840.7" rx="1.6" ry="2" fill="none" stroke="#333333" stroke-width="1.01"/>
<path d="M1389.8 842.5 L1389.8 874.5 L1424.0 874.5" fill="none" stroke="#333333" stroke-width="1.12" />
<path d="M1093.3 695.7 L1118 682 L1118.9 686.5 L1095.1 703.9 Z" fill="#fff" stroke="#333333" stroke-width="1.23" />
<path d="M1093.3 695.7 L1095.1 699.5 L1118.5 684" fill="none" stroke="#333333" stroke-width="0.9" />
<ellipse cx="1100" cy="697" rx="1" ry="1.3" fill="none" stroke="#333333" stroke-width="0.9"/>
<ellipse cx="1104.5" cy="694.5" rx="1" ry="1.3" fill="none" stroke="#333333" stroke-width="0.9"/>
<path d="M1033.1 714.9 L1207.7 815.6 L1207.7 838.4 L1188.6 824.7 L1033.1 734.9 Z" fill="#fff" stroke="none" stroke-width="0.0" />
<path d="M1024 709.5 L1207.7 815.6" fill="none" stroke="#333333" stroke-width="1.23" />
<path d="M1034.6 738 L1188.6 824.7" fill="none" stroke="#333333" stroke-width="1.23" />
<path d="M972.9 681.1 Q969 682 969.3 686 L971.1 692.1 L1011.2 716.7 L1014.9 705.8 Z" fill="#fff" stroke="#333333" stroke-width="1.23" />
<path d="M974 685 L1013 708.5" fill="none" stroke="#333333" stroke-width="0.9" />
<path d="M1011.2 716.7 L1034 729" fill="none" stroke="#333333" stroke-width="1.12" />
<path d="M1006 701 Q1003 707 1004.5 713 M1014.9 705.8 L1024 709.5" fill="none" stroke="#333333" stroke-width="1.01" />
<ellipse cx="983.9" cy="699.4" rx="3.8" ry="2.8" fill="none" stroke="#333333" stroke-width="2.02" transform="rotate(30 983.9 699.4)"/>
<ellipse cx="983.9" cy="699.4" rx="1.8" ry="1.2" fill="none" stroke="#333333" stroke-width="0.9" transform="rotate(30 983.9 699.4)"/>
<path d="M968.3 697.5 L974.5 700 L976.5 722 L971 725 Q966 715 968.3 697.5 Z" fill="#fff" stroke="#333333" stroke-width="1.12" />
<path d="M978.4 705.8 L990.2 711.2 L990.2 724 L982 731.3 L978.4 725.8 Z" fill="#fff" stroke="#333333" stroke-width="1.12" />
<path d="M986 718 L988.5 720 L986.5 723" fill="none" stroke="#333333" stroke-width="1.12" />
<path d="M997.5 734 L1034 714.9 L1034.6 738.6 L1000.3 758.7 L997.5 755.9 Z" fill="#fff" stroke="#333333" stroke-width="1.34" />
<path d="M1000 735.5 L1000.3 758.7" fill="none" stroke="#333333" stroke-width="0.9" />
<path d="M1034 714.9 Q1030 722 1030.5 729 Q1031.5 735 1034.6 738.6" fill="none" stroke="#333333" stroke-width="1.01" />
<ellipse cx="1020.3" cy="729.5" rx="1.4" ry="2" fill="none" stroke="#333333" stroke-width="1.01" transform="rotate(20 1020.3 729.5)"/>
<ellipse cx="1003.9" cy="739.5" rx="1.4" ry="2" fill="none" stroke="#333333" stroke-width="1.01" transform="rotate(20 1003.9 739.5)"/>
<ellipse cx="1004.3" cy="750.5" rx="1.4" ry="2" fill="none" stroke="#333333" stroke-width="1.01" transform="rotate(20 1004.3 750.5)"/>
<path d="M1148.1 785.1 L1151.7 781.5 L1166.3 790.6 L1166.3 802.4 L1162.7 803.3 L1149 795.1 Z" fill="#fff" stroke="#333333" stroke-width="1.23" />
<ellipse cx="1156.3" cy="790.6" rx="1.2" ry="1.6" fill="none" stroke="#333333" stroke-width="1.01"/>
<path d="M1151 786 L1151.5 796.5" fill="none" stroke="#333333" stroke-width="0.9" />
<ellipse cx="1115.2" cy="778" rx="3.4" ry="4.2" fill="none" stroke="#333333" stroke-width="1.12" transform="rotate(20 1115.2 778)"/>
<path d="M1113.5 779 L1118.5 784.5" fill="none" stroke="#555" stroke-width="2.24" />
<path d="M1172.1 834.7 L1207.7 815.6 L1208.6 838.4 L1175.8 858.5 L1172.1 855.7 Z" fill="#fff" stroke="#333333" stroke-width="1.34" />
<path d="M1174.8 836 L1175.8 858.5" fill="none" stroke="#333333" stroke-width="0.9" />
<ellipse cx="1194.9" cy="830.2" rx="1.4" ry="2" fill="none" stroke="#333333" stroke-width="1.01" transform="rotate(20 1194.9 830.2)"/>
<ellipse cx="1177.6" cy="840.2" rx="1.4" ry="2" fill="none" stroke="#333333" stroke-width="1.01" transform="rotate(20 1177.6 840.2)"/>
<ellipse cx="1178.5" cy="851.2" rx="1.4" ry="2" fill="none" stroke="#333333" stroke-width="1.01" transform="rotate(20 1178.5 851.2)"/>
<path d="M1207.7 819.2 Q1212 818 1215 821 L1273.4 853.9 Q1278 856 1277.5 861 L1275 867 Q1273 871.5 1269.7 871.2 L1214 841 Q1209 839.5 1207.7 838.4 Z" fill="#fff" stroke="#333333" stroke-width="1.23" />
<path d="M1214.5 822 Q1209.5 829 1210.5 837 M1231 830 Q1227.5 838 1228.5 848 M1268 851 Q1264.5 859 1268 869" fill="none" stroke="#333333" stroke-width="1.01" />
<path d="M1216 824 L1270 853.5" fill="none" stroke="#333333" stroke-width="0.9" />
<path d="M1213 836 L1262 862" fill="none" stroke="#333333" stroke-width="0.78" />
<ellipse cx="1257.9" cy="857.5" rx="3.8" ry="2.8" fill="none" stroke="#333333" stroke-width="2.02" transform="rotate(30 1257.9 857.5)"/>
<ellipse cx="1257.9" cy="857.5" rx="1.8" ry="1.2" fill="none" stroke="#333333" stroke-width="0.9" transform="rotate(30 1257.9 857.5)"/>
<path d="M1255.1 863.9 L1261 866.5 L1264.5 889 L1259.7 891.3 Q1253.5 880 1255.1 863.9 Z" fill="#fff" stroke="#333333" stroke-width="1.12" />
<path d="M1266.1 869.4 L1276 872 L1278 893.1 L1270.7 899.5 L1265 890 Z" fill="#fff" stroke="#333333" stroke-width="1.12" />
<path d="M1274 884 L1276.5 886 L1274.5 889" fill="none" stroke="#333333" stroke-width="1.12" />
<path d="M932.8 650.1 L971.1 650.1 L971.1 680.5" fill="none" stroke="#333333" stroke-width="1.12" />
<path d="M941.5 708.1 L952.7 712.6 L954.6 707.8 L943.5 703.3 Z" fill="#fff" stroke="#333333" stroke-width="1.12" />
<path d="M946.4 710.1 L947.2 704.8" fill="none" stroke="#333333" stroke-width="1.01" />
<path d="M947.9 710.7 L948.7 705.4" fill="none" stroke="#333333" stroke-width="1.01" />
<path d="M949.4 711.3 L950.3 706.0" fill="none" stroke="#333333" stroke-width="1.01" />
<path d="M950.9 711.9 L951.8 706.7" fill="none" stroke="#333333" stroke-width="1.01" />
<path d="M952.5 712.5 L953.3 707.3" fill="none" stroke="#333333" stroke-width="1.01" />
<path d="M940.5 710.7 L935.2 708.6 L935.1 706.8 Q935.4 702.8 937.9 699.8 L939.3 698.6 L944.5 700.7 Z" fill="#fff" stroke="#333333" stroke-width="1.34" />
<path d="M936.1 705.1 L941.8 707.5" fill="none" stroke="#333333" stroke-width="0.9" />
<path d="M937.5 701.6 L943.2 704.0" fill="none" stroke="#333333" stroke-width="0.9" />
<path d="M941.0 704.7 L938.8 709.2 L934.4 709.2 L932.2 704.7 L934.4 700.2 L938.8 700.2 Z" fill="#fff" stroke="#333333" stroke-width="1.01" />
<path d="M942.9 704.0 L941.0 704.7" fill="none" stroke="#333333" stroke-width="1.01" />
<path d="M940.7 708.5 L938.8 709.2" fill="none" stroke="#333333" stroke-width="1.01" />
<path d="M936.3 708.5 L934.4 709.2" fill="none" stroke="#333333" stroke-width="1.01" />
<path d="M934.1 704.0 L932.2 704.7" fill="none" stroke="#333333" stroke-width="1.01" />
<path d="M936.3 699.5 L934.4 700.2" fill="none" stroke="#333333" stroke-width="1.01" />
<path d="M940.7 699.5 L938.8 700.2" fill="none" stroke="#333333" stroke-width="1.01" />
<path d="M942.9 704.0 L940.7 708.5 L936.3 708.5 L934.1 704.0 L936.3 699.5 L940.7 699.5 Z" fill="#fff" stroke="#333333" stroke-width="1.01" />
<ellipse cx="938.5" cy="704" rx="2.3400000000000003" ry="2.8600000000000003" fill="none" stroke="#333333" stroke-width="1.46"/>
<path d="M899.0 703.9 L932.0 703.9" fill="none" stroke="#333333" stroke-width="1.12" />
<path d="M1030.1 754.0 L1027.8 758.6 L1023.2 758.6 L1020.9 754.0 L1023.2 749.3 L1027.8 749.3 Z" fill="#fff" stroke="#333333" stroke-width="1.12" />
<path d="M1032.2 753.2 L1030.1 754.0" fill="none" stroke="#333333" stroke-width="1.12" />
<path d="M1029.9 757.9 L1027.8 758.6" fill="none" stroke="#333333" stroke-width="1.12" />
<path d="M1025.3 757.9 L1023.2 758.6" fill="none" stroke="#333333" stroke-width="1.12" />
<path d="M1023.0 753.2 L1020.9 754.0" fill="none" stroke="#333333" stroke-width="1.12" />
<path d="M1025.3 748.5 L1023.2 749.3" fill="none" stroke="#333333" stroke-width="1.12" />
<path d="M1029.9 748.5 L1027.8 749.3" fill="none" stroke="#333333" stroke-width="1.12" />
<path d="M1032.2 753.2 L1029.9 757.9 L1025.3 757.9 L1023.0 753.2 L1025.3 748.5 L1029.9 748.5 Z" fill="#fff" stroke="#333333" stroke-width="1.12" />
<ellipse cx="1027.6" cy="753.2" rx="2.43" ry="2.9700000000000006" fill="none" stroke="#333333" stroke-width="1.57"/>
<path d="M1005.7 771.8 L1026.7 771.8 L1026.7 759.6" fill="none" stroke="#333333" stroke-width="1.12" />
<ellipse cx="1027.3" cy="655.9" rx="4.800000000000001" ry="6" fill="none" stroke="#333333" stroke-width="1.79" transform="rotate(-20 1027.3 655.9)"/>
<path d="M1027.3 655.9 L1032.0 656.9" fill="none" stroke="#333333" stroke-width="1.01" />
<path d="M1027.3 655.9 L1030.1 660.8" fill="none" stroke="#333333" stroke-width="1.01" />
<path d="M1027.3 655.9 L1026.5 661.8" fill="none" stroke="#333333" stroke-width="1.01" />
<path d="M1027.3 655.9 L1023.4 659.3" fill="none" stroke="#333333" stroke-width="1.01" />
<path d="M1027.3 655.9 L1022.6 654.9" fill="none" stroke="#333333" stroke-width="1.01" />
<path d="M1027.3 655.9 L1024.5 651.0" fill="none" stroke="#333333" stroke-width="1.01" />
<path d="M1027.3 655.9 L1028.1 650.0" fill="none" stroke="#333333" stroke-width="1.01" />
<path d="M1027.3 655.9 L1031.2 652.5" fill="none" stroke="#333333" stroke-width="1.01" />
<ellipse cx="1027.3" cy="655.9" rx="1.5" ry="1.7999999999999998" fill="#fff" stroke="#333333" stroke-width="0.9" transform="rotate(-20 1027.3 655.9)"/>
<path d="M988.8 621.1 L1027.5 621.1 L1027.5 648.0" fill="none" stroke="#333333" stroke-width="1.12" />
<path d="M1199.1 762.4 L1187.6 768.5 L1190.0 773.1 L1201.5 767.0 Z" fill="#fff" stroke="#333333" stroke-width="1.01" />
<path d="M1194.3 764.9 L1197.8 768.9" fill="none" stroke="#333333" stroke-width="1.01" />
<path d="M1192.7 765.8 L1196.2 769.8" fill="none" stroke="#333333" stroke-width="1.01" />
<path d="M1191.1 766.6 L1194.6 770.7" fill="none" stroke="#333333" stroke-width="1.01" />
<path d="M1189.5 767.5 L1193.0 771.5" fill="none" stroke="#333333" stroke-width="1.01" />
<path d="M1187.9 768.3 L1191.4 772.4" fill="none" stroke="#333333" stroke-width="1.01" />
<path d="M1198.1 760.6 L1201.8 758.6 L1203.2 759.5 Q1205.8 761.8 1206.2 765.2 L1206.2 766.8 L1202.5 768.7 Z" fill="#fff" stroke="#333333" stroke-width="1.23" />
<path d="M1203.7 761.0 L1199.5 763.3" fill="none" stroke="#333333" stroke-width="0.9" />
<path d="M1205.2 763.9 L1201.0 766.1" fill="none" stroke="#333333" stroke-width="0.9" />
<path d="M1181.8 761.4 L1197.3 761.4" fill="none" stroke="#333333" stroke-width="1.12" />
<path d="M1084.8 801.9 L1099.8 793.9 L1098.0 790.6 L1083.0 798.6 Z" fill="#fff" stroke="#333333" stroke-width="1.01" />
<path d="M1089.6 799.3 L1086.8 796.5" fill="none" stroke="#333333" stroke-width="1.01" />
<path d="M1091.2 798.5 L1088.4 795.7" fill="none" stroke="#333333" stroke-width="1.01" />
<path d="M1092.9 797.6 L1090.1 794.8" fill="none" stroke="#333333" stroke-width="1.01" />
<path d="M1094.5 796.7 L1091.7 793.9" fill="none" stroke="#333333" stroke-width="1.01" />
<path d="M1096.2 795.8 L1093.4 793.0" fill="none" stroke="#333333" stroke-width="1.01" />
<path d="M1097.8 795.0 L1095.0 792.2" fill="none" stroke="#333333" stroke-width="1.01" />
<path d="M1099.5 794.1 L1096.6 791.3" fill="none" stroke="#333333" stroke-width="1.01" />
<path d="M1084.8 802.0 L1083.8 802.6 L1082.8 802.4 Q1081.1 801.7 1081.5 799.9 L1081.9 799.0 L1082.9 798.5 Z" fill="#fff" stroke="#333333" stroke-width="1.23" />
<path d="M1082.7 801.6 L1084.2 800.8" fill="none" stroke="#333333" stroke-width="0.9" />
<path d="M1082.1 800.4 L1083.6 799.6" fill="none" stroke="#333333" stroke-width="0.9" />
<ellipse cx="1081.5" cy="801.5" rx="4.8" ry="5.6" fill="#fff" stroke="#333333" stroke-width="1.12" transform="rotate(-25 1081.5 801.5)"/>
<path d="M1092.4 800.0 L1092.4 859.4 L1087.3 859.4" fill="none" stroke="#333333" stroke-width="1.12" />
<path d="M1154.6 826.4 L1152.3 831.0 L1147.7 831.0 L1145.4 826.4 L1147.7 821.7 L1152.3 821.7 Z" fill="#fff" stroke="#333333" stroke-width="1.12" />
<path d="M1156.7 825.6 L1154.6 826.4" fill="none" stroke="#333333" stroke-width="1.12" />
<path d="M1154.4 830.3 L1152.3 831.0" fill="none" stroke="#333333" stroke-width="1.12" />
<path d="M1149.8 830.3 L1147.7 831.0" fill="none" stroke="#333333" stroke-width="1.12" />
<path d="M1147.5 825.6 L1145.4 826.4" fill="none" stroke="#333333" stroke-width="1.12" />
<path d="M1149.8 820.9 L1147.7 821.7" fill="none" stroke="#333333" stroke-width="1.12" />
<path d="M1154.4 820.9 L1152.3 821.7" fill="none" stroke="#333333" stroke-width="1.12" />
<path d="M1156.7 825.6 L1154.4 830.3 L1149.8 830.3 L1147.5 825.6 L1149.8 820.9 L1154.4 820.9 Z" fill="#fff" stroke="#333333" stroke-width="1.12" />
<ellipse cx="1152.1" cy="825.6" rx="2.43" ry="2.9700000000000006" fill="none" stroke="#333333" stroke-width="1.57"/>
<path d="M1134.7 879.1 L1150.8 879.1 L1150.8 832.0" fill="none" stroke="#333333" stroke-width="1.12" />
<path d="M1213.1 862.1 L1202.1 855.2 L1199.3 859.6 L1210.4 866.5 Z" fill="#fff" stroke="#333333" stroke-width="1.12" />
<path d="M1208.5 859.2 L1206.8 864.2" fill="none" stroke="#333333" stroke-width="1.01" />
<path d="M1207.0 858.2 L1205.2 863.3" fill="none" stroke="#333333" stroke-width="1.01" />
<path d="M1205.4 857.3 L1203.7 862.3" fill="none" stroke="#333333" stroke-width="1.01" />
<path d="M1203.9 856.3 L1202.2 861.4" fill="none" stroke="#333333" stroke-width="1.01" />
<path d="M1202.4 855.3 L1200.6 860.4" fill="none" stroke="#333333" stroke-width="1.01" />
<path d="M1214.7 859.5 L1219.5 862.5 L1219.3 864.4 Q1218.3 868.4 1215.2 871.0 L1213.6 872.0 L1208.8 869.0 Z" fill="#fff" stroke="#333333" stroke-width="1.34" />
<path d="M1218.0 865.9 L1212.8 862.6" fill="none" stroke="#333333" stroke-width="0.9" />
<path d="M1216.0 869.2 L1210.7 865.9" fill="none" stroke="#333333" stroke-width="0.9" />
<ellipse cx="1217.3" cy="868" rx="4.6" ry="5.8" fill="#fff" stroke="#333333" stroke-width="1.12" transform="rotate(25 1217.3 868)"/>
<path d="M1220.1 873.0 L1220.1 957.0 L1250.6 957.0" fill="none" stroke="#333333" stroke-width="1.12" />
<path d="M1177.8 915.2 L1192.8 907.2 L1191.0 903.9 L1176.0 911.9 Z" fill="#fff" stroke="#333333" stroke-width="1.01" />
<path d="M1182.6 912.6 L1179.8 909.8" fill="none" stroke="#333333" stroke-width="1.01" />
<path d="M1184.2 911.8 L1181.4 909.0" fill="none" stroke="#333333" stroke-width="1.01" />
<path d="M1185.9 910.9 L1183.1 908.1" fill="none" stroke="#333333" stroke-width="1.01" />
<path d="M1187.5 910.0 L1184.7 907.2" fill="none" stroke="#333333" stroke-width="1.01" />
<path d="M1189.2 909.1 L1186.4 906.3" fill="none" stroke="#333333" stroke-width="1.01" />
<path d="M1190.8 908.3 L1188.0 905.5" fill="none" stroke="#333333" stroke-width="1.01" />
<path d="M1192.5 907.4 L1189.6 904.6" fill="none" stroke="#333333" stroke-width="1.01" />
<path d="M1177.8 915.3 L1176.8 915.9 L1175.8 915.7 Q1174.1 915.0 1174.5 913.2 L1174.9 912.3 L1175.9 911.8 Z" fill="#fff" stroke="#333333" stroke-width="1.23" />
<path d="M1175.7 914.9 L1177.2 914.1" fill="none" stroke="#333333" stroke-width="0.9" />
<path d="M1175.1 913.7 L1176.6 912.9" fill="none" stroke="#333333" stroke-width="0.9" />
<ellipse cx="1174" cy="915" rx="4.8" ry="5.6" fill="#fff" stroke="#333333" stroke-width="1.12" transform="rotate(-25 1174 915)"/>
<path d="M1173.0 967.6 L1178.9 967.6 L1178.9 920.5" fill="none" stroke="#333333" stroke-width="1.12" />
<path d="M1499.5 910.2 L1499.5 1030.8" fill="none" stroke="#505050" stroke-width="0.95" stroke-dasharray="4.5 3.5" stroke-linecap="butt" />
<path d="M1609.5 932.4 L1574.4 952.1" fill="none" stroke="#505050" stroke-width="0.95" stroke-dasharray="4.5 3.5" stroke-linecap="butt" />
<path d="M1564.2 958.9 L1493.2 1000.0" fill="none" stroke="#505050" stroke-width="0.95" stroke-dasharray="4.5 3.5" stroke-linecap="butt" />
<path d="M1483.8 1006.8 L1464.1 1016.2" fill="none" stroke="#505050" stroke-width="0.95" stroke-dasharray="4.5 3.5" stroke-linecap="butt" />
<path d="M1453.0 1022.2 L1427.4 1036.8" fill="none" stroke="#505050" stroke-width="0.95" stroke-dasharray="4.5 3.5" stroke-linecap="butt" />
<path d="M1587.3 877.7 L1485.5 947.8" fill="none" stroke="#505050" stroke-width="0.95" stroke-dasharray="4.5 3.5" stroke-linecap="butt" />
<path d="M931.9 962.6 L1047.1 1029.3" fill="none" stroke="#505050" stroke-width="0.95" stroke-dasharray="4.5 3.5" stroke-linecap="butt" />
<path d="M972.6 1054.5 L981.3 1059.3" fill="none" stroke="#505050" stroke-width="0.95" stroke-dasharray="4.5 3.5" stroke-linecap="butt" />
<path d="M1000.6 1070.0 L1006.0 1073.0" fill="none" stroke="#505050" stroke-width="0.95" stroke-dasharray="4.5 3.5" stroke-linecap="butt" />
<path d="M1023.8 1083.5 L1039.3 1092.2" fill="none" stroke="#505050" stroke-width="0.95" stroke-dasharray="4.5 3.5" stroke-linecap="butt" />
<path d="M728.6 1052.3 L789.2 1018.0" fill="none" stroke="#505050" stroke-width="0.95" stroke-dasharray="4.5 3.5" stroke-linecap="butt" />
<path d="M744.5 1059.5 L803.6 1025.2" fill="none" stroke="#505050" stroke-width="0.95" stroke-dasharray="4.5 3.5" stroke-linecap="butt" />
<path d="M762.9 1069.9 L772.5 1075.5" fill="none" stroke="#505050" stroke-width="0.95" stroke-dasharray="4.5 3.5" stroke-linecap="butt" />
<path d="M782.8 1082.6 L794.0 1089.0" fill="none" stroke="#505050" stroke-width="0.95" stroke-dasharray="4.5 3.5" stroke-linecap="butt" />
<path d="M712.5 1041.5 L716.5 1043.5" fill="none" stroke="#505050" stroke-width="0.95" stroke-dasharray="4.5 3.5" stroke-linecap="butt" />
<path d="M873.8 1029.2 L873.8 1041.1" fill="none" stroke="#505050" stroke-width="0.95" stroke-dasharray="4.5 3.5" stroke-linecap="butt" />
<path d="M1469.0 727.6 L1481.0 720.5" fill="none" stroke="#505050" stroke-width="0.95" stroke-dasharray="4.5 3.5" stroke-linecap="butt" />
<path d="M1491.5 714.5 L1508.0 705.5" fill="none" stroke="#505050" stroke-width="0.95" stroke-dasharray="4.5 3.5" stroke-linecap="butt" />
<path d="M1467.0 771.5 L1502.9 751.6" fill="none" stroke="#505050" stroke-width="0.95" stroke-dasharray="4.5 3.5" stroke-linecap="butt" />
<path d="M1473.0 659.8 L1489.0 651.5" fill="none" stroke="#505050" stroke-width="0.95" stroke-dasharray="4.5 3.5" stroke-linecap="butt" />
<path d="M1421.4 967.5 L1427.4 964.9 L1473.5 939.3 L1537.7 978.6 L1541.1 980.3 L1542.3 987.2 L1539.4 984.6 L1537.7 979.5 L1493.2 1005.1 L1487.2 1006 Z" fill="#fff" stroke="#333333" stroke-width="1.23" />
<path d="M1427.4 964.9 L1492.4 1004.3 L1537.7 978.6" fill="none" stroke="#333333" stroke-width="1.12" />
<path d="M1421.4 967.5 L1487.2 1006" fill="none" stroke="#333333" stroke-width="2.02" />
<path d="M1537.7 978.6 L1539.4 984.6" fill="none" stroke="#333333" stroke-width="1.01" />
<ellipse cx="1454.7" cy="961.2" rx="1.8" ry="1.3" fill="#444" stroke="#333333" stroke-width="0.9"/>
<ellipse cx="1475.3" cy="960.3" rx="1.8" ry="1.3" fill="#444" stroke="#333333" stroke-width="0.9"/>
<ellipse cx="1499.2" cy="993.5" rx="1.8" ry="1.3" fill="#444" stroke="#333333" stroke-width="0.9"/>
<path d="M1484 947 Q1485.5 950 1488.5 949.5 M1521.5 969.5 Q1523 972.5 1526 972" fill="none" stroke="#333333" stroke-width="1.46" />
<path d="M1542.8 982.9 L1578.7 982.9" fill="none" stroke="#333333" stroke-width="1.12" />
<path d="M1503.5 907.5 L1501.3 911.8 L1497.1 911.8 L1495.0 907.5 L1497.1 903.2 L1501.3 903.2 Z" fill="#fff" stroke="#333333" stroke-width="1.34" />
<path d="M1503.5 905.3 L1503.5 907.5" fill="none" stroke="#333333" stroke-width="1.34" />
<path d="M1501.3 909.6 L1501.3 911.8" fill="none" stroke="#333333" stroke-width="1.34" />
<path d="M1497.1 909.6 L1497.1 911.8" fill="none" stroke="#333333" stroke-width="1.34" />
<path d="M1495.0 905.3 L1495.0 907.5" fill="none" stroke="#333333" stroke-width="1.34" />
<path d="M1497.1 901.0 L1497.1 903.2" fill="none" stroke="#333333" stroke-width="1.34" />
<path d="M1501.3 901.0 L1501.3 903.2" fill="none" stroke="#333333" stroke-width="1.34" />
<path d="M1503.5 905.3 L1501.3 909.6 L1497.1 909.6 L1495.0 905.3 L1497.1 901.0 L1501.3 901.0 Z" fill="#fff" stroke="#333333" stroke-width="1.34" />
<ellipse cx="1499.2" cy="905.3" rx="2.25" ry="2.75" fill="none" stroke="#333333" stroke-width="1.79"/>
<ellipse cx="1499.2" cy="903.5" rx="2.2" ry="1.4" fill="#666" stroke="#333333" stroke-width="1.34"/>
<path d="M1505.2 905.1 L1539.4 905.1" fill="none" stroke="#333333" stroke-width="1.12" />
<path d="M1496.6 1041 L1496.6 1053.5 Q1499.5 1055.8 1502.6 1053.5 L1502.6 1041 L1501.4 1039.5 L1501.4 1033.5 Q1499.5 1031.5 1497.8 1033.5 L1497.8 1039.5 Z" fill="#fff" stroke="#333333" stroke-width="1.12" />
<path d="M1497.8 1039.5 L1501.4 1039.5" fill="none" stroke="#333333" stroke-width="0.9" />
<path d="M1504.3 1044.4 L1540.2 1044.4" fill="none" stroke="#333333" stroke-width="1.12" />
<path d="M1617.8 924.4 L1606.3 930.5 L1609.0 935.4 L1620.4 929.3 Z" fill="#fff" stroke="#333333" stroke-width="1.12" />
<path d="M1613.0 926.9 L1616.7 931.3" fill="none" stroke="#333333" stroke-width="1.01" />
<path d="M1611.4 927.8 L1615.1 932.1" fill="none" stroke="#333333" stroke-width="1.01" />
<path d="M1609.8 928.6 L1613.5 933.0" fill="none" stroke="#333333" stroke-width="1.01" />
<path d="M1608.2 929.5 L1611.9 933.8" fill="none" stroke="#333333" stroke-width="1.01" />
<path d="M1606.6 930.3 L1610.3 934.7" fill="none" stroke="#333333" stroke-width="1.01" />
<path d="M1616.4 921.7 L1621.4 919.0 L1623.0 920.2 Q1625.9 923.2 1626.8 927.4 L1626.9 929.3 L1621.9 931.9 Z" fill="#fff" stroke="#333333" stroke-width="1.34" />
<path d="M1623.7 922.1 L1618.2 925.0" fill="none" stroke="#333333" stroke-width="0.9" />
<path d="M1625.6 925.7 L1620.1 928.6" fill="none" stroke="#333333" stroke-width="0.9" />
<path d="M1626.7 925.0 L1624.5 929.6 L1620.1 929.6 L1617.9 925.0 L1620.1 920.5 L1624.5 920.5 Z" fill="#fff" stroke="#333333" stroke-width="1.01" />
<path d="M1628.2 924.5 L1626.7 925.0" fill="none" stroke="#333333" stroke-width="1.01" />
<path d="M1626.0 929.0 L1624.5 929.6" fill="none" stroke="#333333" stroke-width="1.01" />
<path d="M1621.6 929.0 L1620.1 929.6" fill="none" stroke="#333333" stroke-width="1.01" />
<path d="M1619.4 924.5 L1617.9 925.0" fill="none" stroke="#333333" stroke-width="1.01" />
<path d="M1621.6 920.0 L1620.1 920.5" fill="none" stroke="#333333" stroke-width="1.01" />
<path d="M1626.0 920.0 L1624.5 920.5" fill="none" stroke="#333333" stroke-width="1.01" />
<path d="M1628.2 924.5 L1626.0 929.0 L1621.6 929.0 L1619.4 924.5 L1621.6 920.0 L1626.0 920.0 Z" fill="#fff" stroke="#333333" stroke-width="1.01" />
<ellipse cx="1623.8" cy="924.5" rx="2.3400000000000003" ry="2.8600000000000003" fill="none" stroke="#333333" stroke-width="1.46"/>
<path d="M1630.0 924.7 L1642.0 924.7" fill="none" stroke="#333333" stroke-width="1.12" />
<ellipse cx="1568" cy="956.3" rx="5" ry="6.8" fill="#fff" stroke="#333333" stroke-width="1.46" transform="rotate(22 1568 956.3)"/>
<ellipse cx="1569" cy="956" rx="5" ry="6.8" fill="#fff" stroke="#333333" stroke-width="2.02" transform="rotate(22 1569 956)"/>
<ellipse cx="1569.3" cy="956.2" rx="1.7999999999999998" ry="2.448" fill="#777" stroke="#333333" stroke-width="1.46" transform="rotate(22 1569.3 956.2)"/>
<path d="M1574.4 958.6 L1610.4 958.6" fill="none" stroke="#333333" stroke-width="1.12" />
<ellipse cx="1457.7" cy="1018.1999999999999" rx="5" ry="6.8" fill="#fff" stroke="#333333" stroke-width="1.46" transform="rotate(22 1457.7 1018.1999999999999)"/>
<ellipse cx="1458.7" cy="1017.9" rx="5" ry="6.8" fill="#fff" stroke="#333333" stroke-width="2.02" transform="rotate(22 1458.7 1017.9)"/>
<ellipse cx="1459.0" cy="1018.1" rx="1.7999999999999998" ry="2.448" fill="#777" stroke="#333333" stroke-width="1.46" transform="rotate(22 1459.0 1018.1)"/>
<path d="M1420.0 1033.4 Q1423.7 1034.4 1426.5 1036.5 Q1427.8 1039.1 1427.1 1042.0 Q1426.3 1044.4 1421.0 1047.0 L1417.9 1046.2 L1414.5 1043.6 L1414.2 1038.6 L1416.3 1035.5 Z" fill="#fff" stroke="#333333" stroke-width="1.12" />
<ellipse cx="1422.372" cy="1040.416" rx="4.4639999999999995" ry="6.4799999999999995" fill="none" stroke="#333333" stroke-width="1.12" transform="rotate(20 1422.372 1040.416)"/>
<path d="M1414.2 1038.6 L1417.8 1040.1 M1416.3 1035.5 L1419.3 1035.7 M1414.5 1043.6 L1418.1 1043.9" fill="none" stroke="#333333" stroke-width="1.01" />
<ellipse cx="1422.372" cy="1040.92" rx="2.592" ry="3.888" fill="none" stroke="#333333" stroke-width="1.12" transform="rotate(20 1422.372 1040.92)"/>
<ellipse cx="1422.3" cy="1041.064" rx="1.512" ry="2.376" fill="none" stroke="#555" stroke-width="1.46" transform="rotate(20 1422.3 1041.064)"/>
<path d="M1381.0 1040.2 L1413.0 1040.2" fill="none" stroke="#333333" stroke-width="1.12" />
<path d="M1491.7 652.2 L1484.7 655.9 L1486.2 658.8 L1493.3 655.0 Z" fill="#fff" stroke="#333333" stroke-width="0.9" />
<path d="M1487.3 654.5 L1489.9 656.8" fill="none" stroke="#333333" stroke-width="1.01" />
<path d="M1486.0 655.2 L1488.6 657.5" fill="none" stroke="#333333" stroke-width="1.01" />
<path d="M1484.8 655.9 L1487.3 658.1" fill="none" stroke="#333333" stroke-width="1.01" />
<path d="M1491.2 651.1 L1493.5 649.9 L1494.6 650.3 Q1496.6 651.4 1496.4 653.7 L1496.1 654.8 L1493.8 656.1 Z" fill="#fff" stroke="#333333" stroke-width="1.12" />
<path d="M1494.8 651.3 L1492.0 652.7" fill="none" stroke="#333333" stroke-width="0.9" />
<path d="M1495.7 653.0 L1493.0 654.5" fill="none" stroke="#333333" stroke-width="0.9" />
<path d="M1496.9 649.8 L1601.0 649.8" fill="none" stroke="#333333" stroke-width="1.12" />
<path d="M1515.1 704.4 L1513.1 708.5 L1509.0 708.5 L1506.9 704.4 L1509.0 700.2 L1513.1 700.2 Z" fill="#fff" stroke="#333333" stroke-width="0.9" />
<path d="M1517.0 703.7 L1515.1 704.4" fill="none" stroke="#333333" stroke-width="0.9" />
<path d="M1514.9 707.9 L1513.1 708.5" fill="none" stroke="#333333" stroke-width="0.9" />
<path d="M1510.9 707.9 L1509.0 708.5" fill="none" stroke="#333333" stroke-width="0.9" />
<path d="M1508.8 703.7 L1506.9 704.4" fill="none" stroke="#333333" stroke-width="0.9" />
<path d="M1510.9 699.5 L1509.0 700.2" fill="none" stroke="#333333" stroke-width="0.9" />
<path d="M1514.9 699.5 L1513.1 700.2" fill="none" stroke="#333333" stroke-width="0.9" />
<path d="M1517.0 703.7 L1514.9 707.9 L1510.9 707.9 L1508.8 703.7 L1510.9 699.5 L1514.9 699.5 Z" fill="#fff" stroke="#333333" stroke-width="0.9" />
<ellipse cx="1512.9" cy="703.7" rx="2.16" ry="2.64" fill="none" stroke="#333333" stroke-width="1.34"/>
<path d="M1520.9 700.9 L1628.6 700.9" fill="none" stroke="#333333" stroke-width="1.12" />
<path d="M1488.4 719.4 L1486.5 723.4 L1482.6 723.4 L1480.6 719.4 L1482.6 715.4 L1486.5 715.4 Z" fill="#fff" stroke="#333333" stroke-width="0.9" />
<path d="M1490.1 718.8 L1488.4 719.4" fill="none" stroke="#333333" stroke-width="0.9" />
<path d="M1488.2 722.8 L1486.5 723.4" fill="none" stroke="#333333" stroke-width="0.9" />
<path d="M1484.2 722.8 L1482.6 723.4" fill="none" stroke="#333333" stroke-width="0.9" />
<path d="M1482.3 718.8 L1480.6 719.4" fill="none" stroke="#333333" stroke-width="0.9" />
<path d="M1484.2 714.8 L1482.6 715.4" fill="none" stroke="#333333" stroke-width="0.9" />
<path d="M1488.2 714.8 L1486.5 715.4" fill="none" stroke="#333333" stroke-width="0.9" />
<path d="M1490.1 718.8 L1488.2 722.8 L1484.2 722.8 L1482.3 718.8 L1484.2 714.8 L1488.2 714.8 Z" fill="#fff" stroke="#333333" stroke-width="0.9" />
<ellipse cx="1486.2" cy="718.8" rx="2.07" ry="2.53" fill="none" stroke="#333333" stroke-width="1.34"/>
<path d="M1491.0 719.6 L1628.6 719.6" fill="none" stroke="#333333" stroke-width="1.12" />
<path d="M1506.2 745.2 L1499.2 748.9 L1500.7 751.8 L1507.8 748.0 Z" fill="#fff" stroke="#333333" stroke-width="0.9" />
<path d="M1501.8 747.5 L1504.4 749.8" fill="none" stroke="#333333" stroke-width="1.01" />
<path d="M1500.5 748.2 L1503.1 750.5" fill="none" stroke="#333333" stroke-width="1.01" />
<path d="M1499.3 748.9 L1501.8 751.1" fill="none" stroke="#333333" stroke-width="1.01" />
<path d="M1505.7 744.1 L1508.0 742.9 L1509.1 743.3 Q1511.1 744.4 1510.9 746.7 L1510.6 747.8 L1508.3 749.1 Z" fill="#fff" stroke="#333333" stroke-width="1.12" />
<path d="M1509.3 744.3 L1506.5 745.7" fill="none" stroke="#333333" stroke-width="0.9" />
<path d="M1510.2 746.0 L1507.5 747.5" fill="none" stroke="#333333" stroke-width="0.9" />
<path d="M1506.9 751.6 L1506.9 813.4 L1540.8 813.4" fill="none" stroke="#333333" stroke-width="1.12" />
<path d="M951.5 975.5 L998.7 955.8 L1029.6 924.8 Q1026.5 921 1029.5 917.5 L1040 909.5 Q1046.5 906 1048.8 912.5 Q1050 919.5 1044 923.5 L1037.4 924.8" fill="none" stroke="#333333" stroke-width="2.6"/>
<path d="M951.5 975.5 L998.7 955.8 L1029.6 924.8 Q1026.5 921 1029.5 917.5 L1040 909.5 Q1046.5 906 1048.8 912.5 Q1050 919.5 1044 923.5 L1037.4 924.8" fill="none" stroke="#fff" stroke-width="1"/>
<ellipse cx="950.5" cy="974.6" rx="2" ry="2.8" fill="none" stroke="#333333" stroke-width="1.12" transform="rotate(20 950.5 974.6)"/>
<path d="M1002.6 953.3 L1023.8 953.3" fill="none" stroke="#333333" stroke-width="1.12" />
<ellipse cx="1024.4" cy="1018.0" rx="4.6" ry="5.6" fill="#fff" stroke="#333333" stroke-width="1.46" transform="rotate(22 1024.4 1018.0)"/>
<ellipse cx="1025.4" cy="1017.7" rx="4.6" ry="5.6" fill="#fff" stroke="#333333" stroke-width="2.02" transform="rotate(22 1025.4 1017.7)"/>
<ellipse cx="1025.7" cy="1017.9000000000001" rx="1.656" ry="2.016" fill="#777" stroke="#333333" stroke-width="1.46" transform="rotate(22 1025.7 1017.9000000000001)"/>
<path d="M1049.0 1001.3 L1025.8 1001.3 L1025.8 1012.0" fill="none" stroke="#333333" stroke-width="1.12" />
<path d="M1051.5 1019.5 L1037.4 1039" fill="none" stroke="#333333" stroke-width="2.4"/>
<path d="M1051.5 1019.5 L1037.4 1039" fill="none" stroke="#fff" stroke-width="0.9"/>
<ellipse cx="1052" cy="1018.2" rx="1.4" ry="1.8" fill="#fff" stroke="#333333" stroke-width="1.01"/>
<path d="M1044.2 1033.2 L1079.0 1033.2" fill="none" stroke="#333333" stroke-width="1.12" />
<path d="M949.9 1023.5 L978.4 1039.4" fill="none" stroke="#333333" stroke-width="3.36" />
<path d="M950.5 1023.8 L977.8 1039.1" fill="none" stroke="#fff" stroke-width="1.01" />
<path d="M941.6 1019.3 L950.3 1019.3" fill="none" stroke="#333333" stroke-width="1.12" />
<path d="M949.3 1096.1 L954.2 1096.1 L954.2 1028.4" fill="none" stroke="#333333" stroke-width="1.12" />
<ellipse cx="991.3" cy="1065.6999999999998" rx="12" ry="16.4" fill="#fff" stroke="#333333" stroke-width="1.12" transform="rotate(20 991.3 1065.6999999999998)"/>
<ellipse cx="992.9" cy="1065.1" rx="12" ry="16.4" fill="#fff" stroke="#333333" stroke-width="1.12" transform="rotate(20 992.9 1065.1)"/>
<ellipse cx="992.9" cy="1065.1" rx="3.6" ry="6.2" fill="none" stroke="#333333" stroke-width="1.12" transform="rotate(20 992.9 1065.1)"/>
<path d="M994.4 1059.6 Q997.1 1064.6 993.4 1070.8999999999999" fill="none" stroke="#333333" stroke-width="0.9" />
<ellipse cx="1012.1999999999999" cy="1077.8999999999999" rx="12" ry="16.4" fill="#fff" stroke="#333333" stroke-width="1.12" transform="rotate(20 1012.1999999999999 1077.8999999999999)"/>
<ellipse cx="1013.8" cy="1077.3" rx="12" ry="16.4" fill="#fff" stroke="#333333" stroke-width="1.12" transform="rotate(20 1013.8 1077.3)"/>
<ellipse cx="1013.8" cy="1077.3" rx="3.6" ry="6.2" fill="none" stroke="#333333" stroke-width="1.12" transform="rotate(20 1013.8 1077.3)"/>
<path d="M1015.3 1071.8 Q1018.0 1076.8 1014.3 1083.1" fill="none" stroke="#333333" stroke-width="0.9" />
<path d="M952.2 1116.4 L972.6 1116.4 L986.1 1080.6" fill="none" stroke="#333333" stroke-width="1.12" />
<path d="M1039.5 1086 L1050 1091.5 L1057 1108 L1046.5 1102.5 Z" fill="#fff" stroke="none" stroke-width="0.0" />
<ellipse cx="1043.2" cy="1094.1" rx="6.3" ry="8.8" fill="#fff" stroke="#333333" stroke-width="1.12" transform="rotate(20 1043.2 1094.1)"/>
<path d="M1040.2 1086.2 L1050.8 1092 L1057.4 1107.8 L1046.2 1102" fill="#fff" stroke="none" stroke-width="0.0" />
<path d="M1045.8 1085.9 L1056.4 1091.8 M1040.6 1102.3 L1051.2 1108.2" fill="none" stroke="#333333" stroke-width="1.12" />
<ellipse cx="1053.8" cy="1100" rx="6.3" ry="8.8" fill="#fff" stroke="#333333" stroke-width="1.23" transform="rotate(20 1053.8 1100)"/>
<ellipse cx="1054.2" cy="1100.2" rx="3.8" ry="5.6" fill="none" stroke="#333333" stroke-width="1.12" transform="rotate(20 1054.2 1100.2)"/>
<path d="M1060.6 1093.2 L1109.0 1093.2" fill="none" stroke="#333333" stroke-width="1.12" />
<path d="M709.5 1039.0 L707.7 1042.8 L703.9 1042.8 L702.1 1039.0 L703.9 1035.2 L707.7 1035.2 Z" fill="#fff" stroke="#333333" stroke-width="1.12" />
<path d="M711.2 1038.4 L709.5 1039.0" fill="none" stroke="#333333" stroke-width="1.12" />
<path d="M709.4 1042.2 L707.7 1042.8" fill="none" stroke="#333333" stroke-width="1.12" />
<path d="M705.6 1042.2 L703.9 1042.8" fill="none" stroke="#333333" stroke-width="1.12" />
<path d="M703.8 1038.4 L702.1 1039.0" fill="none" stroke="#333333" stroke-width="1.12" />
<path d="M705.6 1034.6 L703.9 1035.2" fill="none" stroke="#333333" stroke-width="1.12" />
<path d="M709.4 1034.6 L707.7 1035.2" fill="none" stroke="#333333" stroke-width="1.12" />
<path d="M711.2 1038.4 L709.4 1042.2 L705.6 1042.2 L703.8 1038.4 L705.6 1034.6 L709.4 1034.6 Z" fill="#fff" stroke="#333333" stroke-width="1.12" />
<ellipse cx="707.5" cy="1038.4" rx="1.9800000000000002" ry="2.4200000000000004" fill="none" stroke="#333333" stroke-width="1.57"/>
<path d="M679.0 1038.7 L703.0 1038.7" fill="none" stroke="#333333" stroke-width="1.12" />
<ellipse cx="720.4" cy="1047.0" rx="5" ry="6.8" fill="#fff" stroke="#333333" stroke-width="1.46" transform="rotate(22 720.4 1047.0)"/>
<ellipse cx="721.4" cy="1046.7" rx="5" ry="6.8" fill="#fff" stroke="#333333" stroke-width="2.02" transform="rotate(22 721.4 1046.7)"/>
<ellipse cx="721.6999999999999" cy="1046.9" rx="1.7999999999999998" ry="2.448" fill="#777" stroke="#333333" stroke-width="1.46" transform="rotate(22 721.6999999999999 1046.9)"/>
<ellipse cx="756.3" cy="1067" rx="5.8" ry="7.4" fill="#fff" stroke="#333333" stroke-width="2.69" transform="rotate(20 756.3 1067)"/>
<ellipse cx="758.3" cy="1066.6" rx="5.2" ry="6.8" fill="#fff" stroke="#333333" stroke-width="1.79" transform="rotate(20 758.3 1066.6)"/>
<ellipse cx="759" cy="1066.8" rx="2.4" ry="3.4" fill="none" stroke="#333333" stroke-width="1.34" transform="rotate(20 759 1066.8)"/>
<path d="M725.4 1067.0 L751.7 1067.0" fill="none" stroke="#333333" stroke-width="1.12" />
<ellipse cx="776.2" cy="1079.7" rx="5" ry="6.8" fill="#fff" stroke="#333333" stroke-width="1.46" transform="rotate(22 776.2 1079.7)"/>
<ellipse cx="777.2" cy="1079.4" rx="5" ry="6.8" fill="#fff" stroke="#333333" stroke-width="2.02" transform="rotate(22 777.2 1079.4)"/>
<ellipse cx="777.5" cy="1079.6000000000001" rx="1.7999999999999998" ry="2.448" fill="#777" stroke="#333333" stroke-width="1.46" transform="rotate(22 777.5 1079.6000000000001)"/>
<path d="M730.2 1082.6 L771.7 1082.6" fill="none" stroke="#333333" stroke-width="1.12" />
<path d="M805.8 1092.0 L796.0 1085.1 L793.0 1089.4 L802.8 1096.3 Z" fill="#fff" stroke="#333333" stroke-width="1.12" />
<path d="M801.5 1089.0 L799.5 1094.0" fill="none" stroke="#333333" stroke-width="1.01" />
<path d="M800.2 1088.1 L798.2 1093.0" fill="none" stroke="#333333" stroke-width="1.01" />
<path d="M798.9 1087.1 L796.9 1092.1" fill="none" stroke="#333333" stroke-width="1.01" />
<path d="M797.5 1086.2 L795.5 1091.1" fill="none" stroke="#333333" stroke-width="1.01" />
<path d="M796.2 1085.2 L794.2 1090.2" fill="none" stroke="#333333" stroke-width="1.01" />
<path d="M807.5 1089.5 L812.2 1092.8 L811.9 1094.7 Q810.6 1098.6 807.4 1101.1 L805.8 1102.0 L801.1 1098.7 Z" fill="#fff" stroke="#333333" stroke-width="1.34" />
<path d="M810.5 1096.1 L805.5 1092.5" fill="none" stroke="#333333" stroke-width="0.9" />
<path d="M808.3 1099.3 L803.2 1095.7" fill="none" stroke="#333333" stroke-width="0.9" />
<ellipse cx="809.8" cy="1098.2" rx="4.6" ry="5.6" fill="#fff" stroke="#333333" stroke-width="1.12" transform="rotate(25 809.8 1098.2)"/>
<path d="M728.6 1100.5 L803.6 1100.5" fill="none" stroke="#333333" stroke-width="1.12" />
<path d="M877.9 1047.4 L875.8 1051.6 L871.8 1051.6 L869.7 1047.4 L871.8 1043.2 L875.8 1043.2 Z" fill="#fff" stroke="#333333" stroke-width="1.23" />
<path d="M877.9 1045.4 L877.9 1047.4" fill="none" stroke="#333333" stroke-width="1.23" />
<path d="M875.8 1049.6 L875.8 1051.6" fill="none" stroke="#333333" stroke-width="1.23" />
<path d="M871.8 1049.6 L871.8 1051.6" fill="none" stroke="#333333" stroke-width="1.23" />
<path d="M869.7 1045.4 L869.7 1047.4" fill="none" stroke="#333333" stroke-width="1.23" />
<path d="M871.8 1041.2 L871.8 1043.2" fill="none" stroke="#333333" stroke-width="1.23" />
<path d="M875.8 1041.2 L875.8 1043.2" fill="none" stroke="#333333" stroke-width="1.23" />
<path d="M877.9 1045.4 L875.8 1049.6 L871.8 1049.6 L869.7 1045.4 L871.8 1041.2 L875.8 1041.2 Z" fill="#fff" stroke="#333333" stroke-width="1.23" />
<ellipse cx="873.8" cy="1045.4" rx="2.16" ry="2.64" fill="none" stroke="#333333" stroke-width="1.68"/>
<path d="M863.5 1071.5 L873.8 1071.5 L873.8 1050.7" fill="none" stroke="#333333" stroke-width="1.12" />
<text x="146.8" y="224.0" font-size="17" letter-spacing="-0.1">46179001</text>
<text x="209.0" y="237.3" font-size="17" letter-spacing="-0.1">461793</text>
<text x="276.0" y="258.3" font-size="17" letter-spacing="-0.1">461766</text>
<text x="406.0" y="302.3" font-size="17" letter-spacing="-0.1">46179101</text>
<text x="435.5" y="332.3" font-size="17" letter-spacing="-0.1">46175130</text>
<text x="540.5" y="353.3" font-size="17" letter-spacing="-0.1">46175630</text>
<text x="163.0" y="361.3" font-size="17" letter-spacing="-0.1">46174830</text>
<text x="338.0" y="518.8" font-size="17" letter-spacing="-0.4">512725(3)</text>
<text x="391.0" y="543.8" font-size="17" letter-spacing="-0.1">46176030</text>
<text x="65.5" y="608.6" font-size="17" letter-spacing="-0.4">461289(2)</text>
<text x="404.5" y="617.6" font-size="17" letter-spacing="-0.4">461431(2)</text>
<text x="618.0" y="190.8" font-size="17" letter-spacing="-0.4">523134(2)</text>
<text x="916.0" y="196.8" font-size="17" letter-spacing="-0.1">514682</text>
<text x="831.0" y="276.3" font-size="17" letter-spacing="-0.4">526521(2)</text>
<text x="849.5" y="311.3" font-size="17" letter-spacing="-0.1">514329</text>
<text x="1198.0" y="289.3" font-size="17" letter-spacing="-0.1">51486301</text>
<text x="727.0" y="371.3" font-size="17" letter-spacing="-0.4">704537(2)</text>
<text x="727.0" y="418.3" font-size="17" letter-spacing="-0.4">514239(2)</text>
<text x="727.0" y="438.8" font-size="17" letter-spacing="-0.4">704533(2)</text>
<text x="715.5" y="477.8" font-size="17" letter-spacing="-0.1">461768</text>
<text x="952.5" y="383.3" font-size="17" letter-spacing="-0.1">514942</text>
<text x="897.5" y="476.8" font-size="17" letter-spacing="-0.1">46128830</text>
<text x="915.5" y="579.1" font-size="17" letter-spacing="-0.1">461292</text>
<text x="816.5" y="609.1" font-size="17" letter-spacing="-0.4">700128(2)</text>
<text x="931.0" y="627.1" font-size="17" letter-spacing="-0.1">511249</text>
<text x="1411.7" y="336.1" font-size="17" letter-spacing="-0.1">51486201</text>
<text x="1483.2" y="349.1" font-size="17" letter-spacing="-0.4">704537(4)</text>
<text x="1585.7" y="345.1" font-size="17" letter-spacing="-0.1">51486701</text>
<text x="1485.2" y="368.6" font-size="17" letter-spacing="-0.4">700150(4)</text>
<text x="1655.7" y="406.1" font-size="17" letter-spacing="-0.4">703892(6)</text>
<text x="1653.7" y="424.1" font-size="17" letter-spacing="-0.4">700150(6)</text>
<text x="1627.7" y="446.1" font-size="17" letter-spacing="-0.4">700661(2)</text>
<text x="1624.7" y="478.6" font-size="17" letter-spacing="-0.4">700844(4)</text>
<text x="1257.2" y="492.6" font-size="17" letter-spacing="-0.4">511693(2)</text>
<text x="1537.2" y="530.6" font-size="17" letter-spacing="-0.1">51486401</text>
<text x="1470.7" y="583.6" font-size="17" letter-spacing="-0.4">704537(6)</text>
<text x="1483.2" y="610.6" font-size="17" letter-spacing="-0.4">321126(2)</text>
<text x="95.0" y="631.6" font-size="17" letter-spacing="-0.4">702724(2)</text>
<text x="129.0" y="653.1" font-size="17" letter-spacing="-0.4">461290(2)</text>
<text x="155.5" y="678.6" font-size="17" letter-spacing="-0.4">704263(2)</text>
<text x="353.0" y="688.6" font-size="17" letter-spacing="-0.4">704546(2)</text>
<text x="348.0" y="715.6" font-size="17" letter-spacing="-0.4">704272(2)</text>
<text x="447.0" y="823.6" font-size="17" letter-spacing="-0.4">704538(2)</text>
<text x="446.0" y="841.1" font-size="17" letter-spacing="-0.4">704537(2)</text>
<text x="601.5" y="810.6" font-size="17" letter-spacing="-0.1">461429</text>
<text x="586.0" y="998.1" font-size="17" letter-spacing="-0.4">704537(2)</text>
<text x="704.0" y="633.1" font-size="17" letter-spacing="-0.4">700303(2)</text>
<text x="855.5" y="657.6" font-size="17" letter-spacing="-0.1">46431701</text>
<text x="825.0" y="708.6" font-size="17" letter-spacing="-0.4">704546(2)</text>
<text x="805.0" y="750.6" font-size="17" letter-spacing="-0.1">461788</text>
<text x="932.5" y="777.6" font-size="17" letter-spacing="-0.4">704537(2)</text>
<text x="1126.0" y="768.6" font-size="17" letter-spacing="-0.1">461808</text>
<text x="760.0" y="799.1" font-size="17" letter-spacing="-0.4">461789(2)</text>
<text x="718.0" y="847.1" font-size="17" letter-spacing="-0.4">704744(2)</text>
<text x="1014.0" y="863.1" font-size="17" letter-spacing="-0.4">701521(1)</text>
<text x="1062.5" y="883.6" font-size="17" letter-spacing="-0.4">704537(2)</text>
<text x="1027.0" y="960.1" font-size="17" letter-spacing="-0.1">461772</text>
<text x="1100.0" y="971.1" font-size="17" letter-spacing="-0.4">700967(2)</text>
<text x="1051.3" y="1008.7" font-size="17" letter-spacing="-0.1">700148</text>
<text x="1079.3" y="1038.7" font-size="17" letter-spacing="-0.1">705322</text>
<text x="632.3" y="1047.2" font-size="17" letter-spacing="-0.1">704537</text>
<text x="676.3" y="1073.2" font-size="17" letter-spacing="-0.1">461771</text>
<text x="662.3" y="1087.7" font-size="17" letter-spacing="-0.4">700150(2)</text>
<text x="677.8" y="1106.2" font-size="17" letter-spacing="-0.1">704545</text>
<text x="787.8" y="1078.2" font-size="17" letter-spacing="-0.4">704537(2)</text>
<text x="876.3" y="1103.7" font-size="17" letter-spacing="-0.4">514313(2)</text>
<text x="878.3" y="1120.7" font-size="17" letter-spacing="-0.4">461473(2)</text>
<text x="1109.8" y="1096.7" font-size="17" letter-spacing="-0.1">461494</text>
<text x="1628.7" y="638.6" font-size="17" letter-spacing="-0.1">46151301</text>
<text x="1601.7" y="653.6" font-size="17" letter-spacing="-0.4">701375(2)</text>
<text x="1630.7" y="705.1" font-size="17" letter-spacing="-0.4">704537(3)</text>
<text x="1630.7" y="726.1" font-size="17" letter-spacing="-0.4">700150(3)</text>
<text x="1324.7" y="723.1" font-size="17" letter-spacing="-0.4">704536(2)</text>
<text x="1541.7" y="819.1" font-size="17" letter-spacing="-0.4">700702(2)</text>
<text x="1425.2" y="881.1" font-size="17" letter-spacing="-0.1">46128730</text>
<text x="1543.2" y="909.6" font-size="17" letter-spacing="-0.4">704536(2)</text>
<text x="1643.7" y="930.6" font-size="17" letter-spacing="-0.4">700555(2)</text>
<text x="1613.2" y="965.6" font-size="17" letter-spacing="-0.4">700137(4)</text>
<text x="1581.2" y="989.6" font-size="17" letter-spacing="-0.1">461514</text>
<text x="1252.7" y="963.6" font-size="17" letter-spacing="-0.4">704546(2)</text>
<text x="1297.7" y="1045.7" font-size="17" letter-spacing="-0.4">704536(2)</text>
<text x="1542.7" y="1051.2" font-size="17" letter-spacing="-0.4">461506(2)</text>
<text x="1551.7" y="664.6" font-size="14.3" letter-spacing="-0.4">464431(2)</text>
<text x="1559.7" y="689.1" font-size="14.3" letter-spacing="-0.4">704537(4)</text>
<text x="0" y="0" font-size="17" letter-spacing="-0.1" font-weight="bold" transform="translate(172.0 392.3) scale(0.83 1)">510434</text>
<text x="1184.5" y="196.8" font-size="21" letter-spacing="-0.1">521339</text>
<rect x="1179.5" y="178" width="66.0" height="24.5" fill="none" stroke="#333333" stroke-width="1.45"/>
<text x="1436.2" y="434.1" font-size="17" letter-spacing="-0.1">514337</text>
<rect x="1434" y="420.5" width="50" height="17.0" fill="none" stroke="#333333" stroke-width="1.45"/>
<text x="1402.2" y="459.1" font-size="17" letter-spacing="-0.1">468680</text>
<rect x="1399.5" y="444" width="50.5" height="18.5" fill="none" stroke="#333333" stroke-width="1.45"/>
<text x="247.5" y="702.1" font-size="17" letter-spacing="-0.1">546222</text>
<rect x="244.5" y="683.5" width="52.0" height="22.5" fill="none" stroke="#333333" stroke-width="1.45"/>
<text x="369.0" y="765.6" font-size="17" letter-spacing="-0.1">514081</text>
<rect x="375.5" y="747.8" width="51.30000000000001" height="23.200000000000045" fill="none" stroke="#333333" stroke-width="1.45"/>
<text x="535.0" y="669.6" font-size="17" letter-spacing="-0.1">514157</text>
<rect x="532" y="652.5" width="51.5" height="20.5" fill="none" stroke="#333333" stroke-width="1.45"/>
<text x="534.0" y="876.6" font-size="17" letter-spacing="-0.1">461773</text>
<rect x="539" y="860" width="53.5" height="19.5" fill="none" stroke="#333333" stroke-width="1.45"/>
<text x="160.0" y="965.1" font-size="17" letter-spacing="-0.1">461536</text>
<rect x="165.5" y="950" width="50.5" height="18" fill="none" stroke="#333333" stroke-width="1.45"/>
<text x="140.3" y="1006.7" font-size="17" letter-spacing="-0.4">52185340(2)</text>
<rect x="147" y="989" width="87.5" height="23" fill="none" stroke="#333333" stroke-width="1.45"/>
<text x="439.0" y="988.1" font-size="17" letter-spacing="-0.1">514882</text>
<rect x="445.5" y="970" width="51.5" height="24" fill="none" stroke="#333333" stroke-width="1.45"/>
</svg>
</body></html>
